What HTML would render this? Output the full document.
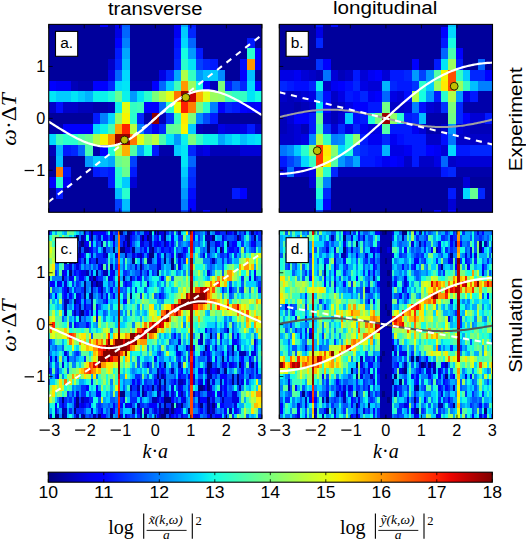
<!DOCTYPE html>
<html><head><meta charset="utf-8"><style>
html,body{margin:0;padding:0;background:#fff;}
svg{display:block;}
text{font-family:"Liberation Sans",sans-serif;fill:#000;}
.serif,.serif text{font-family:"Liberation Serif",serif;}
</style></head><body>
<svg width="526" height="540" viewBox="0 0 526 540">
<defs><clipPath id="ca"><rect x="48.70" y="24.40" width="213.20" height="187.90"/></clipPath><clipPath id="cb"><rect x="279.30" y="24.40" width="213.20" height="187.90"/></clipPath><clipPath id="cc"><rect x="48.70" y="230.70" width="213.20" height="187.90"/></clipPath><clipPath id="cd"><rect x="279.30" y="230.70" width="213.20" height="187.90"/></clipPath></defs>
<g clip-path="url(#ca)"><g transform="translate(48.700 16.225) scale(7.3517 10.7500)" shape-rendering="crispEdges">
<path fill="#00009c" d="M0 0h1v1h-1zM1 0h1v1h-1zM2 0h1v1h-1zM3 0h1v1h-1zM4 0h1v1h-1zM5 0h1v1h-1zM6 0h1v1h-1zM8 0h1v1h-1zM11 0h1v1h-1zM12 0h1v1h-1zM13 0h1v1h-1zM14 0h1v1h-1zM15 0h1v1h-1zM16 0h1v1h-1zM20 0h1v1h-1zM21 0h1v1h-1zM22 0h1v1h-1zM23 0h1v1h-1zM24 0h1v1h-1zM25 0h1v1h-1zM26 0h1v1h-1zM27 0h1v1h-1zM28 0h1v1h-1zM0 1h1v1h-1zM1 1h1v1h-1zM2 1h1v1h-1zM3 1h1v1h-1zM4 1h1v1h-1zM5 1h1v1h-1zM6 1h1v1h-1zM7 1h1v1h-1zM8 1h1v1h-1zM11 1h1v1h-1zM12 1h1v1h-1zM13 1h1v1h-1zM14 1h1v1h-1zM15 1h1v1h-1zM16 1h1v1h-1zM20 1h1v1h-1zM21 1h1v1h-1zM22 1h1v1h-1zM23 1h1v1h-1zM24 1h1v1h-1zM25 1h1v1h-1zM26 1h1v1h-1zM27 1h1v1h-1zM28 1h1v1h-1zM0 2h1v1h-1zM1 2h1v1h-1zM2 2h1v1h-1zM3 2h1v1h-1zM4 2h1v1h-1zM5 2h1v1h-1zM6 2h1v1h-1zM7 2h1v1h-1zM8 2h1v1h-1zM11 2h1v1h-1zM12 2h1v1h-1zM13 2h1v1h-1zM14 2h1v1h-1zM15 2h1v1h-1zM16 2h1v1h-1zM20 2h1v1h-1zM21 2h1v1h-1zM22 2h1v1h-1zM23 2h1v1h-1zM24 2h1v1h-1zM25 2h1v1h-1zM26 2h1v1h-1zM28 2h1v1h-1zM0 3h1v1h-1zM1 3h1v1h-1zM2 3h1v1h-1zM3 3h1v1h-1zM4 3h1v1h-1zM5 3h1v1h-1zM6 3h1v1h-1zM7 3h1v1h-1zM8 3h1v1h-1zM11 3h1v1h-1zM12 3h1v1h-1zM13 3h1v1h-1zM14 3h1v1h-1zM15 3h1v1h-1zM16 3h1v1h-1zM21 3h1v1h-1zM22 3h1v1h-1zM23 3h1v1h-1zM24 3h1v1h-1zM25 3h1v1h-1zM26 3h1v1h-1zM0 4h1v1h-1zM1 4h1v1h-1zM2 4h1v1h-1zM3 4h1v1h-1zM4 4h1v1h-1zM5 4h1v1h-1zM6 4h1v1h-1zM7 4h1v1h-1zM11 4h1v1h-1zM12 4h1v1h-1zM13 4h1v1h-1zM14 4h1v1h-1zM15 4h1v1h-1zM16 4h1v1h-1zM23 4h1v1h-1zM24 4h1v1h-1zM25 4h1v1h-1zM0 5h1v1h-1zM1 5h1v1h-1zM2 5h1v1h-1zM3 5h1v1h-1zM4 5h1v1h-1zM5 5h1v1h-1zM6 5h1v1h-1zM7 5h1v1h-1zM11 5h1v1h-1zM12 5h1v1h-1zM13 5h1v1h-1zM14 5h1v1h-1zM24 5h1v1h-1zM25 5h1v1h-1zM28 5h1v1h-1zM0 9h1v1h-1zM1 9h1v1h-1zM2 9h1v1h-1zM3 9h1v1h-1zM4 9h1v1h-1zM5 9h1v1h-1zM23 9h1v1h-1zM24 9h1v1h-1zM25 9h1v1h-1zM26 9h1v1h-1zM27 9h1v1h-1zM28 9h1v1h-1zM0 13h1v1h-1zM2 13h1v1h-1zM3 13h1v1h-1zM4 13h1v1h-1zM12 13h1v1h-1zM13 13h1v1h-1zM14 13h1v1h-1zM15 13h1v1h-1zM16 13h1v1h-1zM17 13h1v1h-1zM20 13h1v1h-1zM21 13h1v1h-1zM22 13h1v1h-1zM23 13h1v1h-1zM24 13h1v1h-1zM25 13h1v1h-1zM26 13h1v1h-1zM27 13h1v1h-1zM28 13h1v1h-1zM0 14h1v1h-1zM3 14h1v1h-1zM4 14h1v1h-1zM5 14h1v1h-1zM12 14h1v1h-1zM13 14h1v1h-1zM14 14h1v1h-1zM15 14h1v1h-1zM16 14h1v1h-1zM17 14h1v1h-1zM20 14h1v1h-1zM21 14h1v1h-1zM22 14h1v1h-1zM23 14h1v1h-1zM24 14h1v1h-1zM25 14h1v1h-1zM26 14h1v1h-1zM27 14h1v1h-1zM28 14h1v1h-1zM3 15h1v1h-1zM4 15h1v1h-1zM5 15h1v1h-1zM6 15h1v1h-1zM7 15h1v1h-1zM12 15h1v1h-1zM13 15h1v1h-1zM14 15h1v1h-1zM15 15h1v1h-1zM16 15h1v1h-1zM17 15h1v1h-1zM20 15h1v1h-1zM21 15h1v1h-1zM22 15h1v1h-1zM23 15h1v1h-1zM24 15h1v1h-1zM25 15h1v1h-1zM26 15h1v1h-1zM27 15h1v1h-1zM28 15h1v1h-1zM0 16h1v1h-1zM2 16h1v1h-1zM3 16h1v1h-1zM4 16h1v1h-1zM5 16h1v1h-1zM6 16h1v1h-1zM7 16h1v1h-1zM8 16h1v1h-1zM11 16h1v1h-1zM12 16h1v1h-1zM13 16h1v1h-1zM14 16h1v1h-1zM15 16h1v1h-1zM16 16h1v1h-1zM17 16h1v1h-1zM20 16h1v1h-1zM21 16h1v1h-1zM22 16h1v1h-1zM23 16h1v1h-1zM24 16h1v1h-1zM27 16h1v1h-1zM28 16h1v1h-1zM0 17h1v1h-1zM1 17h1v1h-1zM2 17h1v1h-1zM3 17h1v1h-1zM4 17h1v1h-1zM5 17h1v1h-1zM6 17h1v1h-1zM7 17h1v1h-1zM8 17h1v1h-1zM11 17h1v1h-1zM12 17h1v1h-1zM13 17h1v1h-1zM14 17h1v1h-1zM15 17h1v1h-1zM16 17h1v1h-1zM17 17h1v1h-1zM20 17h1v1h-1zM21 17h1v1h-1zM22 17h1v1h-1zM23 17h1v1h-1zM24 17h1v1h-1zM25 17h1v1h-1zM26 17h1v1h-1zM27 17h1v1h-1zM28 17h1v1h-1zM0 18h1v1h-1zM1 18h1v1h-1zM2 18h1v1h-1zM3 18h1v1h-1zM4 18h1v1h-1zM5 18h1v1h-1zM6 18h1v1h-1zM7 18h1v1h-1zM8 18h1v1h-1zM11 18h1v1h-1zM12 18h1v1h-1zM13 18h1v1h-1zM14 18h1v1h-1zM15 18h1v1h-1zM16 18h1v1h-1zM17 18h1v1h-1zM20 18h1v1h-1zM22 18h1v1h-1zM23 18h1v1h-1zM24 18h1v1h-1zM25 18h1v1h-1zM26 18h1v1h-1zM27 18h1v1h-1zM28 18h1v1h-1z"/>
<path fill="#0000ff" d="M7 0h1v1h-1zM9 2h1v1h-1zM28 3h1v1h-1zM28 4h1v1h-1zM26 5h1v1h-1zM0 6h1v1h-1zM6 6h1v1h-1zM7 6h1v1h-1zM14 6h1v1h-1zM21 6h1v1h-1zM28 6h1v1h-1zM13 8h1v1h-1zM14 8h1v1h-1zM23 8h1v1h-1zM26 8h1v1h-1zM28 8h1v1h-1zM2 10h1v1h-1zM3 10h1v1h-1zM4 10h1v1h-1zM5 10h1v1h-1zM7 12h1v1h-1zM0 15h1v1h-1zM26 16h1v1h-1zM19 17h1v1h-1zM21 18h1v1h-1z"/>
<path fill="#0000f3" d="M9 0h1v1h-1zM17 0h1v1h-1zM17 1h1v1h-1zM1 6h1v1h-1zM2 6h1v1h-1zM27 8h1v1h-1zM14 10h1v1h-1zM2 15h1v1h-1z"/>
<path fill="#0059ff" d="M10 0h1v1h-1zM25 6h1v1h-1z"/>
<path fill="#00a6ff" d="M18 0h1v1h-1zM10 3h1v1h-1zM17 5h1v1h-1zM23 11h1v1h-1zM12 12h1v1h-1zM8 13h1v1h-1zM10 18h1v1h-1z"/>
<path fill="#0019ff" d="M19 0h1v1h-1zM27 2h1v1h-1zM9 3h1v1h-1zM17 3h1v1h-1zM20 3h1v1h-1zM22 4h1v1h-1zM24 6h1v1h-1zM25 8h1v1h-1zM6 9h1v1h-1zM22 9h1v1h-1zM27 10h1v1h-1zM2 12h1v1h-1zM14 12h1v1h-1zM2 14h1v1h-1zM6 14h1v1h-1zM8 14h1v1h-1zM11 14h1v1h-1zM8 15h1v1h-1zM1 16h1v1h-1zM25 16h1v1h-1z"/>
<path fill="#0000e5" d="M9 1h1v1h-1zM8 5h1v1h-1zM15 5h1v1h-1zM23 10h1v1h-1zM26 10h1v1h-1zM21 12h1v1h-1z"/>
<path fill="#0066ff" d="M10 1h1v1h-1zM19 2h1v1h-1zM9 5h1v1h-1zM15 6h1v1h-1zM15 8h1v1h-1zM4 12h1v1h-1zM19 13h1v1h-1z"/>
<path fill="#00ccff" d="M18 1h1v1h-1zM22 5h1v1h-1zM16 6h1v1h-1zM1 7h1v1h-1zM2 7h1v1h-1zM4 7h1v1h-1zM19 10h1v1h-1zM24 11h1v1h-1zM17 12h1v1h-1zM6 13h1v1h-1zM18 14h1v1h-1zM10 15h1v1h-1z"/>
<path fill="#0026ff" d="M19 1h1v1h-1zM9 4h1v1h-1zM17 4h1v1h-1zM21 4h1v1h-1zM16 5h1v1h-1zM8 6h1v1h-1zM26 6h1v1h-1zM24 8h1v1h-1zM12 9h1v1h-1zM13 10h1v1h-1zM15 10h1v1h-1zM3 12h1v1h-1zM19 12h1v1h-1zM7 14h1v1h-1zM19 15h1v1h-1zM9 18h1v1h-1z"/>
<path fill="#0080ff" d="M10 2h1v1h-1zM22 8h1v1h-1zM7 9h1v1h-1zM12 10h1v1h-1zM18 17h1v1h-1z"/>
<path fill="#000dff" d="M17 2h1v1h-1zM26 4h1v1h-1zM1 8h1v1h-1zM19 16h1v1h-1z"/>
<path fill="#00d9ff" d="M18 2h1v1h-1zM10 5h1v1h-1zM9 6h1v1h-1zM27 6h1v1h-1zM8 9h1v1h-1zM6 10h1v1h-1zM0 11h1v1h-1zM27 11h1v1h-1z"/>
<path fill="#15ffe2" d="M18 3h1v1h-1zM20 6h1v1h-1zM28 7h1v1h-1zM13 12h1v1h-1z"/>
<path fill="#0099ff" d="M19 3h1v1h-1zM20 5h1v1h-1zM11 7h1v1h-1zM17 11h1v1h-1zM5 13h1v1h-1zM18 16h1v1h-1z"/>
<path fill="#29ffce" d="M27 3h1v1h-1zM18 4h1v1h-1zM13 7h1v1h-1zM16 8h1v1h-1zM21 8h1v1h-1zM11 9h1v1h-1zM2 11h1v1h-1zM3 11h1v1h-1zM9 14h1v1h-1zM1 15h1v1h-1zM10 16h1v1h-1z"/>
<path fill="#0000c8" d="M8 4h1v1h-1zM0 8h1v1h-1zM2 8h1v1h-1zM3 8h1v1h-1zM28 10h1v1h-1zM19 18h1v1h-1z"/>
<path fill="#00bfff" d="M10 4h1v1h-1zM21 5h1v1h-1zM27 5h1v1h-1zM26 11h1v1h-1zM1 13h1v1h-1zM7 13h1v1h-1zM9 16h1v1h-1zM10 17h1v1h-1z"/>
<path fill="#00e6f7" d="M19 4h1v1h-1zM10 6h1v1h-1zM0 7h1v1h-1zM3 7h1v1h-1zM12 7h1v1h-1zM27 7h1v1h-1zM16 11h1v1h-1zM25 11h1v1h-1zM28 11h1v1h-1zM18 12h1v1h-1zM18 13h1v1h-1z"/>
<path fill="#0040ff" d="M20 4h1v1h-1zM11 13h1v1h-1zM9 17h1v1h-1zM18 18h1v1h-1z"/>
<path fill="#ff9700" d="M27 4h1v1h-1zM18 6h1v1h-1zM8 11h1v1h-1z"/>
<path fill="#afff48" d="M18 5h1v1h-1zM15 7h1v1h-1zM6 11h1v1h-1z"/>
<path fill="#33ffc3" d="M19 5h1v1h-1zM25 7h1v1h-1zM26 7h1v1h-1zM11 8h1v1h-1zM17 9h1v1h-1zM20 11h1v1h-1z"/>
<path fill="#008cff" d="M23 5h1v1h-1zM20 9h1v1h-1z"/>
<path fill="#0000b9" d="M3 6h1v1h-1zM22 6h1v1h-1zM4 8h1v1h-1zM5 8h1v1h-1zM8 8h1v1h-1zM15 9h1v1h-1zM20 10h1v1h-1zM0 12h1v1h-1zM22 12h1v1h-1zM23 12h1v1h-1zM24 12h1v1h-1zM25 12h1v1h-1z"/>
<path fill="#0000ab" d="M4 6h1v1h-1zM5 6h1v1h-1zM11 6h1v1h-1zM12 6h1v1h-1zM13 6h1v1h-1zM6 8h1v1h-1zM7 8h1v1h-1zM13 9h1v1h-1zM0 10h1v1h-1zM1 10h1v1h-1zM21 10h1v1h-1zM22 10h1v1h-1zM6 12h1v1h-1zM15 12h1v1h-1zM16 12h1v1h-1z"/>
<path fill="#3effb9" d="M17 6h1v1h-1zM12 8h1v1h-1zM1 11h1v1h-1z"/>
<path fill="#9aff5d" d="M19 6h1v1h-1zM22 7h1v1h-1z"/>
<path fill="#7bff7b" d="M23 6h1v1h-1zM14 7h1v1h-1zM20 8h1v1h-1zM19 9h1v1h-1zM19 11h1v1h-1zM10 13h1v1h-1z"/>
<path fill="#00b3ff" d="M5 7h1v1h-1zM1 12h1v1h-1zM18 15h1v1h-1z"/>
<path fill="#0af2ec" d="M6 7h1v1h-1zM7 7h1v1h-1zM10 7h1v1h-1zM9 8h1v1h-1zM7 10h1v1h-1zM18 11h1v1h-1zM21 11h1v1h-1zM22 11h1v1h-1z"/>
<path fill="#1fffd8" d="M8 7h1v1h-1zM8 12h1v1h-1zM9 15h1v1h-1z"/>
<path fill="#67ff90" d="M9 7h1v1h-1zM17 10h1v1h-1zM5 11h1v1h-1zM9 13h1v1h-1zM10 14h1v1h-1z"/>
<path fill="#e2ff15" d="M16 7h1v1h-1zM21 7h1v1h-1zM10 8h1v1h-1zM12 11h1v1h-1z"/>
<path fill="#ff7400" d="M17 7h1v1h-1zM11 11h1v1h-1z"/>
<path fill="#9c0000" d="M18 7h1v1h-1zM9 11h1v1h-1zM10 11h1v1h-1z"/>
<path fill="#c80000" d="M19 7h1v1h-1z"/>
<path fill="#ffaf00" d="M20 7h1v1h-1zM10 12h1v1h-1z"/>
<path fill="#90ff67" d="M23 7h1v1h-1zM9 9h1v1h-1zM13 11h1v1h-1z"/>
<path fill="#48ffaf" d="M24 7h1v1h-1zM8 10h1v1h-1zM15 11h1v1h-1zM5 12h1v1h-1z"/>
<path fill="#ecff0a" d="M17 8h1v1h-1z"/>
<path fill="#ff2100" d="M18 8h1v1h-1zM10 10h1v1h-1z"/>
<path fill="#ff8000" d="M19 8h1v1h-1zM1 14h1v1h-1z"/>
<path fill="#f7f600" d="M10 9h1v1h-1zM18 10h1v1h-1zM7 11h1v1h-1z"/>
<path fill="#8e0000" d="M14 9h1v1h-1z"/>
<path fill="#0033ff" d="M16 9h1v1h-1zM19 14h1v1h-1z"/>
<path fill="#ffea00" d="M18 9h1v1h-1z"/>
<path fill="#004cff" d="M21 9h1v1h-1z"/>
<path fill="#ffa300" d="M9 10h1v1h-1z"/>
<path fill="#b9ff3e" d="M11 10h1v1h-1zM14 11h1v1h-1zM9 12h1v1h-1z"/>
<path fill="#5dff9a" d="M16 10h1v1h-1z"/>
<path fill="#0000d6" d="M24 10h1v1h-1zM25 10h1v1h-1zM20 12h1v1h-1zM26 12h1v1h-1zM27 12h1v1h-1zM28 12h1v1h-1zM11 15h1v1h-1z"/>
<path fill="#52ffa5" d="M4 11h1v1h-1zM11 12h1v1h-1z"/>
</g></g>
<g clip-path="url(#cb)"><g transform="translate(279.300 16.225) scale(7.3517 10.7500)" shape-rendering="crispEdges">
<path fill="#00009c" d="M0 0h1v1h-1zM1 0h1v1h-1zM2 0h1v1h-1zM3 0h1v1h-1zM4 0h1v1h-1zM6 0h1v1h-1zM8 0h1v1h-1zM9 0h1v1h-1zM10 0h1v1h-1zM11 0h1v1h-1zM12 0h1v1h-1zM13 0h1v1h-1zM14 0h1v1h-1zM15 0h1v1h-1zM16 0h1v1h-1zM17 0h1v1h-1zM18 0h1v1h-1zM19 0h1v1h-1zM20 0h1v1h-1zM21 0h1v1h-1zM22 0h1v1h-1zM24 0h1v1h-1zM25 0h1v1h-1zM26 0h1v1h-1zM27 0h1v1h-1zM28 0h1v1h-1zM0 1h1v1h-1zM1 1h1v1h-1zM2 1h1v1h-1zM3 1h1v1h-1zM4 1h1v1h-1zM6 1h1v1h-1zM7 1h1v1h-1zM8 1h1v1h-1zM9 1h1v1h-1zM10 1h1v1h-1zM11 1h1v1h-1zM12 1h1v1h-1zM13 1h1v1h-1zM14 1h1v1h-1zM15 1h1v1h-1zM16 1h1v1h-1zM17 1h1v1h-1zM18 1h1v1h-1zM19 1h1v1h-1zM20 1h1v1h-1zM21 1h1v1h-1zM24 1h1v1h-1zM25 1h1v1h-1zM26 1h1v1h-1zM27 1h1v1h-1zM28 1h1v1h-1zM0 2h1v1h-1zM1 2h1v1h-1zM2 2h1v1h-1zM3 2h1v1h-1zM4 2h1v1h-1zM6 2h1v1h-1zM7 2h1v1h-1zM8 2h1v1h-1zM9 2h1v1h-1zM10 2h1v1h-1zM11 2h1v1h-1zM12 2h1v1h-1zM13 2h1v1h-1zM14 2h1v1h-1zM15 2h1v1h-1zM16 2h1v1h-1zM17 2h1v1h-1zM18 2h1v1h-1zM19 2h1v1h-1zM20 2h1v1h-1zM21 2h1v1h-1zM24 2h1v1h-1zM25 2h1v1h-1zM26 2h1v1h-1zM27 2h1v1h-1zM28 2h1v1h-1zM0 3h1v1h-1zM1 3h1v1h-1zM2 3h1v1h-1zM4 3h1v1h-1zM5 3h1v1h-1zM6 3h1v1h-1zM7 3h1v1h-1zM8 3h1v1h-1zM9 3h1v1h-1zM10 3h1v1h-1zM11 3h1v1h-1zM12 3h1v1h-1zM13 3h1v1h-1zM14 3h1v1h-1zM15 3h1v1h-1zM16 3h1v1h-1zM17 3h1v1h-1zM18 3h1v1h-1zM19 3h1v1h-1zM20 3h1v1h-1zM21 3h1v1h-1zM25 3h1v1h-1zM26 3h1v1h-1zM27 3h1v1h-1zM28 3h1v1h-1zM0 4h1v1h-1zM1 4h1v1h-1zM2 4h1v1h-1zM3 4h1v1h-1zM4 4h1v1h-1zM7 4h1v1h-1zM8 4h1v1h-1zM9 4h1v1h-1zM10 4h1v1h-1zM11 4h1v1h-1zM12 4h1v1h-1zM13 4h1v1h-1zM14 4h1v1h-1zM15 4h1v1h-1zM16 4h1v1h-1zM17 4h1v1h-1zM19 4h1v1h-1zM20 4h1v1h-1zM25 4h1v1h-1zM26 4h1v1h-1zM28 4h1v1h-1zM0 15h1v1h-1zM1 15h1v1h-1zM2 15h1v1h-1zM3 15h1v1h-1zM7 15h1v1h-1zM8 15h1v1h-1zM9 15h1v1h-1zM10 15h1v1h-1zM11 15h1v1h-1zM12 15h1v1h-1zM13 15h1v1h-1zM14 15h1v1h-1zM15 15h1v1h-1zM16 15h1v1h-1zM17 15h1v1h-1zM18 15h1v1h-1zM19 15h1v1h-1zM20 15h1v1h-1zM21 15h1v1h-1zM22 15h1v1h-1zM23 15h1v1h-1zM24 15h1v1h-1zM26 15h1v1h-1zM27 15h1v1h-1zM28 15h1v1h-1zM0 16h1v1h-1zM1 16h1v1h-1zM2 16h1v1h-1zM3 16h1v1h-1zM4 16h1v1h-1zM7 16h1v1h-1zM8 16h1v1h-1zM9 16h1v1h-1zM10 16h1v1h-1zM11 16h1v1h-1zM12 16h1v1h-1zM13 16h1v1h-1zM14 16h1v1h-1zM15 16h1v1h-1zM16 16h1v1h-1zM17 16h1v1h-1zM18 16h1v1h-1zM19 16h1v1h-1zM20 16h1v1h-1zM21 16h1v1h-1zM22 16h1v1h-1zM24 16h1v1h-1zM28 16h1v1h-1zM0 17h1v1h-1zM1 17h1v1h-1zM2 17h1v1h-1zM3 17h1v1h-1zM4 17h1v1h-1zM7 17h1v1h-1zM8 17h1v1h-1zM9 17h1v1h-1zM10 17h1v1h-1zM11 17h1v1h-1zM12 17h1v1h-1zM13 17h1v1h-1zM14 17h1v1h-1zM15 17h1v1h-1zM16 17h1v1h-1zM17 17h1v1h-1zM18 17h1v1h-1zM19 17h1v1h-1zM20 17h1v1h-1zM21 17h1v1h-1zM22 17h1v1h-1zM24 17h1v1h-1zM25 17h1v1h-1zM26 17h1v1h-1zM27 17h1v1h-1zM28 17h1v1h-1zM0 18h1v1h-1zM1 18h1v1h-1zM2 18h1v1h-1zM3 18h1v1h-1zM4 18h1v1h-1zM6 18h1v1h-1zM7 18h1v1h-1zM8 18h1v1h-1zM9 18h1v1h-1zM10 18h1v1h-1zM11 18h1v1h-1zM12 18h1v1h-1zM13 18h1v1h-1zM14 18h1v1h-1zM15 18h1v1h-1zM16 18h1v1h-1zM17 18h1v1h-1zM18 18h1v1h-1zM19 18h1v1h-1zM20 18h1v1h-1zM22 18h1v1h-1zM24 18h1v1h-1zM25 18h1v1h-1zM26 18h1v1h-1zM27 18h1v1h-1zM28 18h1v1h-1z"/>
<path fill="#0019ff" d="M5 0h1v1h-1zM22 2h1v1h-1zM21 4h1v1h-1zM24 4h1v1h-1zM10 5h1v1h-1zM15 5h1v1h-1zM16 5h1v1h-1zM1 6h1v1h-1zM16 6h1v1h-1zM17 6h1v1h-1zM9 7h1v1h-1zM21 7h1v1h-1zM26 7h1v1h-1zM12 8h1v1h-1zM13 8h1v1h-1zM4 9h1v1h-1zM11 9h1v1h-1zM17 9h1v1h-1zM28 9h1v1h-1zM4 10h1v1h-1zM15 10h1v1h-1zM16 10h1v1h-1zM17 10h1v1h-1zM11 11h1v1h-1zM17 11h1v1h-1zM18 11h1v1h-1zM19 11h1v1h-1zM12 12h1v1h-1zM13 12h1v1h-1zM18 12h1v1h-1zM19 12h1v1h-1zM24 12h1v1h-1zM25 12h1v1h-1zM0 13h1v1h-1zM11 13h1v1h-1zM12 13h1v1h-1zM18 13h1v1h-1zM22 14h1v1h-1zM23 16h1v1h-1z"/>
<path fill="#000dff" d="M7 0h1v1h-1zM2 6h1v1h-1zM3 6h1v1h-1zM9 6h1v1h-1zM6 7h1v1h-1zM10 7h1v1h-1zM17 7h1v1h-1zM19 8h1v1h-1zM10 9h1v1h-1zM16 11h1v1h-1zM22 11h1v1h-1zM13 13h1v1h-1z"/>
<path fill="#00bfff" d="M23 0h1v1h-1zM26 6h1v1h-1zM19 9h1v1h-1z"/>
<path fill="#0000e5" d="M5 1h1v1h-1zM0 5h1v1h-1zM1 5h1v1h-1zM11 6h1v1h-1zM4 7h1v1h-1zM8 7h1v1h-1zM15 7h1v1h-1zM25 7h1v1h-1zM9 8h1v1h-1zM9 10h1v1h-1zM13 10h1v1h-1zM3 11h1v1h-1zM15 12h1v1h-1zM16 12h1v1h-1zM21 13h1v1h-1zM4 14h1v1h-1z"/>
<path fill="#0000ff" d="M22 1h1v1h-1zM24 3h1v1h-1zM6 4h1v1h-1zM18 4h1v1h-1zM13 5h1v1h-1zM28 5h1v1h-1zM8 6h1v1h-1zM13 7h1v1h-1zM6 8h1v1h-1zM10 8h1v1h-1zM11 8h1v1h-1zM2 9h1v1h-1zM3 9h1v1h-1zM25 9h1v1h-1zM20 12h1v1h-1zM15 13h1v1h-1zM6 17h1v1h-1zM21 18h1v1h-1zM23 18h1v1h-1z"/>
<path fill="#00d9ff" d="M23 1h1v1h-1zM8 12h1v1h-1zM23 12h1v1h-1zM3 13h1v1h-1zM25 16h1v1h-1z"/>
<path fill="#0026ff" d="M5 2h1v1h-1zM17 5h1v1h-1zM26 5h1v1h-1zM27 5h1v1h-1zM0 6h1v1h-1zM4 6h1v1h-1zM10 6h1v1h-1zM15 6h1v1h-1zM11 7h1v1h-1zM24 8h1v1h-1zM18 9h1v1h-1zM24 9h1v1h-1zM8 10h1v1h-1zM10 10h1v1h-1zM14 11h1v1h-1zM11 12h1v1h-1zM26 12h1v1h-1zM27 12h1v1h-1zM28 12h1v1h-1zM7 14h1v1h-1zM23 14h1v1h-1zM6 16h1v1h-1zM27 16h1v1h-1z"/>
<path fill="#15ffe2" d="M23 2h1v1h-1zM19 7h1v1h-1z"/>
<path fill="#0000c8" d="M3 3h1v1h-1zM4 5h1v1h-1zM9 5h1v1h-1zM6 6h1v1h-1zM0 7h1v1h-1zM2 7h1v1h-1zM7 7h1v1h-1zM4 8h1v1h-1zM8 8h1v1h-1zM15 8h1v1h-1zM16 8h1v1h-1zM21 8h1v1h-1zM1 10h1v1h-1zM22 10h1v1h-1zM25 10h1v1h-1zM0 11h1v1h-1zM1 11h1v1h-1zM20 11h1v1h-1zM21 11h1v1h-1zM24 11h1v1h-1zM25 11h1v1h-1zM26 11h1v1h-1zM27 11h1v1h-1zM28 11h1v1h-1zM17 13h1v1h-1zM19 13h1v1h-1zM20 13h1v1h-1zM23 13h1v1h-1zM3 14h1v1h-1z"/>
<path fill="#0066ff" d="M22 3h1v1h-1zM27 4h1v1h-1zM14 7h1v1h-1zM2 13h1v1h-1zM9 13h1v1h-1zM22 13h1v1h-1z"/>
<path fill="#48ffaf" d="M23 3h1v1h-1zM5 10h1v1h-1z"/>
<path fill="#0033ff" d="M5 4h1v1h-1zM18 6h1v1h-1zM22 8h1v1h-1zM6 10h1v1h-1z"/>
<path fill="#00e6f7" d="M22 4h1v1h-1zM5 8h1v1h-1z"/>
<path fill="#9aff5d" d="M23 4h1v1h-1zM21 6h1v1h-1zM24 6h1v1h-1z"/>
<path fill="#0000f3" d="M2 5h1v1h-1zM12 5h1v1h-1zM7 6h1v1h-1zM12 7h1v1h-1zM11 10h1v1h-1zM18 10h1v1h-1zM12 11h1v1h-1zM13 11h1v1h-1zM15 11h1v1h-1zM17 12h1v1h-1zM21 12h1v1h-1zM14 13h1v1h-1zM16 13h1v1h-1z"/>
<path fill="#0000d6" d="M3 5h1v1h-1zM7 5h1v1h-1zM11 5h1v1h-1zM14 5h1v1h-1zM12 6h1v1h-1zM13 6h1v1h-1zM3 7h1v1h-1zM16 7h1v1h-1zM17 8h1v1h-1zM20 8h1v1h-1zM1 9h1v1h-1zM6 9h1v1h-1zM8 9h1v1h-1zM26 9h1v1h-1zM27 9h1v1h-1zM2 10h1v1h-1zM7 10h1v1h-1zM12 10h1v1h-1zM19 10h1v1h-1zM24 10h1v1h-1zM2 11h1v1h-1zM22 12h1v1h-1zM24 13h1v1h-1zM25 13h1v1h-1zM26 13h1v1h-1zM27 13h1v1h-1zM28 13h1v1h-1zM0 14h1v1h-1zM2 14h1v1h-1zM4 15h1v1h-1zM25 15h1v1h-1zM23 17h1v1h-1z"/>
<path fill="#0000b9" d="M5 5h1v1h-1zM8 5h1v1h-1zM1 7h1v1h-1zM0 8h1v1h-1zM1 8h1v1h-1zM3 8h1v1h-1zM7 8h1v1h-1zM0 9h1v1h-1zM7 9h1v1h-1zM0 10h1v1h-1zM3 10h1v1h-1zM26 10h1v1h-1zM27 10h1v1h-1zM28 10h1v1h-1zM8 14h1v1h-1zM9 14h1v1h-1zM10 14h1v1h-1zM11 14h1v1h-1zM12 14h1v1h-1zM13 14h1v1h-1zM14 14h1v1h-1zM15 14h1v1h-1zM16 14h1v1h-1zM17 14h1v1h-1zM18 14h1v1h-1zM19 14h1v1h-1zM20 14h1v1h-1zM21 14h1v1h-1z"/>
<path fill="#0073ff" d="M6 5h1v1h-1zM23 11h1v1h-1zM0 12h1v1h-1zM1 14h1v1h-1z"/>
<path fill="#0099ff" d="M18 5h1v1h-1zM20 5h1v1h-1zM20 7h1v1h-1zM24 7h1v1h-1zM23 10h1v1h-1zM8 13h1v1h-1z"/>
<path fill="#0040ff" d="M19 5h1v1h-1zM10 12h1v1h-1zM1 13h1v1h-1zM5 18h1v1h-1z"/>
<path fill="#52ffa5" d="M21 5h1v1h-1zM14 10h1v1h-1zM7 13h1v1h-1zM5 15h1v1h-1z"/>
<path fill="#f7f600" d="M22 5h1v1h-1zM6 13h1v1h-1z"/>
<path fill="#ff5000" d="M23 5h1v1h-1zM23 6h1v1h-1z"/>
<path fill="#33ffc3" d="M24 5h1v1h-1zM25 6h1v1h-1zM6 11h1v1h-1zM4 13h1v1h-1z"/>
<path fill="#00ccff" d="M25 5h1v1h-1zM20 6h1v1h-1zM9 9h1v1h-1zM2 12h1v1h-1zM5 17h1v1h-1z"/>
<path fill="#0af2ec" d="M5 6h1v1h-1z"/>
<path fill="#00b3ff" d="M14 6h1v1h-1zM14 12h1v1h-1z"/>
<path fill="#29ffce" d="M19 6h1v1h-1zM22 7h1v1h-1zM16 9h1v1h-1zM9 11h1v1h-1zM3 12h1v1h-1zM6 14h1v1h-1z"/>
<path fill="#ffea00" d="M22 6h1v1h-1zM6 12h1v1h-1z"/>
<path fill="#0080ff" d="M27 6h1v1h-1zM28 6h1v1h-1zM5 7h1v1h-1zM18 8h1v1h-1zM7 11h1v1h-1zM6 15h1v1h-1z"/>
<path fill="#afff48" d="M18 7h1v1h-1zM23 7h1v1h-1zM5 11h1v1h-1z"/>
<path fill="#0000ab" d="M27 7h1v1h-1zM28 7h1v1h-1zM2 8h1v1h-1zM25 8h1v1h-1zM26 8h1v1h-1zM27 8h1v1h-1zM28 8h1v1h-1zM20 9h1v1h-1zM21 9h1v1h-1zM22 9h1v1h-1zM20 10h1v1h-1zM21 10h1v1h-1zM24 14h1v1h-1zM25 14h1v1h-1zM26 14h1v1h-1zM27 14h1v1h-1zM28 14h1v1h-1z"/>
<path fill="#71ff86" d="M14 8h1v1h-1zM23 9h1v1h-1z"/>
<path fill="#7bff7b" d="M23 8h1v1h-1zM13 9h1v1h-1z"/>
<path fill="#67ff90" d="M5 9h1v1h-1zM26 16h1v1h-1z"/>
<path fill="#1fffd8" d="M12 9h1v1h-1zM9 12h1v1h-1zM5 16h1v1h-1z"/>
<path fill="#9c0000" d="M14 9h1v1h-1z"/>
<path fill="#90ff67" d="M15 9h1v1h-1zM10 11h1v1h-1zM4 12h1v1h-1z"/>
<path fill="#008cff" d="M4 11h1v1h-1zM8 11h1v1h-1zM1 12h1v1h-1z"/>
<path fill="#ff3900" d="M5 12h1v1h-1zM5 13h1v1h-1z"/>
<path fill="#86ff71" d="M7 12h1v1h-1z"/>
<path fill="#00a6ff" d="M10 13h1v1h-1z"/>
<path fill="#b9ff3e" d="M5 14h1v1h-1z"/>
</g></g>
<g clip-path="url(#cc)"><g transform="translate(44.882 229.445) scale(2.4268 5.7700)" shape-rendering="crispEdges">
<path fill="#0055ff" d="M0 0h1v1h-1zM0 21h1v1h-1zM1 9h1v1h-1zM1 21h1v1h-1zM1 23h1v1h-1zM1 26h1v1h-1zM2 0h1v1h-1zM2 11h1v1h-1zM2 19h1v1h-1zM2 25h1v1h-1zM3 10h1v1h-1zM4 5h1v1h-1zM4 20h1v1h-1zM4 23h1v1h-1zM4 24h1v1h-1zM5 23h1v1h-1zM5 31h1v1h-1zM6 3h1v1h-1zM7 12h1v1h-1zM7 13h1v1h-1zM7 15h1v1h-1zM7 20h1v1h-1zM8 3h1v1h-1zM9 21h1v1h-1zM9 24h1v1h-1zM9 29h1v1h-1zM10 10h1v1h-1zM10 12h1v1h-1zM11 7h1v1h-1zM11 11h1v1h-1zM12 15h1v1h-1zM12 21h1v1h-1zM12 22h1v1h-1zM13 2h1v1h-1zM13 8h1v1h-1zM13 10h1v1h-1zM14 1h1v1h-1zM14 9h1v1h-1zM14 10h1v1h-1zM14 16h1v1h-1zM15 3h1v1h-1zM15 5h1v1h-1zM15 11h1v1h-1zM15 16h1v1h-1zM16 6h1v1h-1zM16 8h1v1h-1zM16 15h1v1h-1zM16 16h1v1h-1zM16 31h1v1h-1zM17 0h1v1h-1zM17 32h1v1h-1zM18 6h1v1h-1zM18 16h1v1h-1zM18 28h1v1h-1zM19 18h1v1h-1zM19 32h1v1h-1zM20 3h1v1h-1zM20 6h1v1h-1zM20 10h1v1h-1zM21 30h1v1h-1zM22 2h1v1h-1zM22 11h1v1h-1zM22 13h1v1h-1zM22 29h1v1h-1zM23 30h1v1h-1zM24 10h1v1h-1zM24 14h1v1h-1zM25 0h1v1h-1zM25 2h1v1h-1zM25 3h1v1h-1zM25 5h1v1h-1zM25 31h1v1h-1zM25 32h1v1h-1zM26 1h1v1h-1zM26 3h1v1h-1zM26 9h1v1h-1zM26 30h1v1h-1zM27 11h1v1h-1zM27 29h1v1h-1zM28 0h1v1h-1zM28 8h1v1h-1zM28 29h1v1h-1zM29 5h1v1h-1zM29 30h1v1h-1zM31 10h1v1h-1zM31 31h1v1h-1zM32 0h1v1h-1zM32 5h1v1h-1zM32 6h1v1h-1zM32 11h1v1h-1zM32 27h1v1h-1zM33 10h1v1h-1zM33 11h1v1h-1zM34 4h1v1h-1zM34 7h1v1h-1zM35 4h1v1h-1zM35 6h1v1h-1zM35 10h1v1h-1zM35 32h1v1h-1zM36 2h1v1h-1zM36 28h1v1h-1zM36 30h1v1h-1zM37 1h1v1h-1zM37 7h1v1h-1zM37 26h1v1h-1zM37 28h1v1h-1zM38 7h1v1h-1zM38 22h1v1h-1zM38 23h1v1h-1zM39 25h1v1h-1zM39 26h1v1h-1zM40 3h1v1h-1zM41 7h1v1h-1zM41 8h1v1h-1zM41 10h1v1h-1zM41 23h1v1h-1zM41 30h1v1h-1zM42 25h1v1h-1zM42 26h1v1h-1zM43 6h1v1h-1zM43 23h1v1h-1zM43 24h1v1h-1zM43 26h1v1h-1zM43 28h1v1h-1zM43 29h1v1h-1zM43 32h1v1h-1zM44 2h1v1h-1zM44 6h1v1h-1zM45 6h1v1h-1zM45 7h1v1h-1zM45 11h1v1h-1zM45 27h1v1h-1zM45 32h1v1h-1zM46 21h1v1h-1zM47 3h1v1h-1zM48 10h1v1h-1zM48 23h1v1h-1zM48 30h1v1h-1zM50 32h1v1h-1zM51 2h1v1h-1zM51 4h1v1h-1zM51 5h1v1h-1zM51 19h1v1h-1zM51 24h1v1h-1zM51 26h1v1h-1zM52 8h1v1h-1zM52 18h1v1h-1zM52 23h1v1h-1zM53 6h1v1h-1zM53 25h1v1h-1zM53 29h1v1h-1zM54 0h1v1h-1zM54 3h1v1h-1zM54 22h1v1h-1zM54 26h1v1h-1zM54 27h1v1h-1zM55 2h1v1h-1zM55 18h1v1h-1zM55 32h1v1h-1zM56 3h1v1h-1zM56 21h1v1h-1zM56 23h1v1h-1zM57 22h1v1h-1zM57 30h1v1h-1zM58 24h1v1h-1zM59 0h1v1h-1zM59 2h1v1h-1zM59 21h1v1h-1zM59 26h1v1h-1zM59 28h1v1h-1zM61 2h1v1h-1zM61 3h1v1h-1zM61 21h1v1h-1zM61 29h1v1h-1zM62 0h1v1h-1zM62 30h1v1h-1zM63 0h1v1h-1zM63 2h1v1h-1zM63 22h1v1h-1zM63 25h1v1h-1zM64 4h1v1h-1zM64 22h1v1h-1zM64 25h1v1h-1zM64 28h1v1h-1zM65 3h1v1h-1zM65 22h1v1h-1zM65 30h1v1h-1zM65 31h1v1h-1zM65 32h1v1h-1zM66 19h1v1h-1zM66 23h1v1h-1zM66 32h1v1h-1zM68 2h1v1h-1zM68 6h1v1h-1zM68 7h1v1h-1zM68 21h1v1h-1zM69 2h1v1h-1zM69 23h1v1h-1zM69 25h1v1h-1zM70 5h1v1h-1zM70 19h1v1h-1zM70 31h1v1h-1zM72 2h1v1h-1zM72 21h1v1h-1zM72 23h1v1h-1zM72 31h1v1h-1zM73 6h1v1h-1zM73 7h1v1h-1zM73 24h1v1h-1zM73 28h1v1h-1zM74 4h1v1h-1zM74 16h1v1h-1zM75 1h1v1h-1zM75 25h1v1h-1zM75 26h1v1h-1zM75 28h1v1h-1zM76 1h1v1h-1zM76 5h1v1h-1zM76 9h1v1h-1zM76 11h1v1h-1zM76 20h1v1h-1zM76 21h1v1h-1zM76 25h1v1h-1zM76 27h1v1h-1zM76 28h1v1h-1zM77 1h1v1h-1zM77 10h1v1h-1zM77 16h1v1h-1zM77 17h1v1h-1zM77 22h1v1h-1zM77 30h1v1h-1zM78 25h1v1h-1zM78 26h1v1h-1zM79 27h1v1h-1zM80 10h1v1h-1zM80 20h1v1h-1zM80 24h1v1h-1zM81 0h1v1h-1zM81 1h1v1h-1zM81 9h1v1h-1zM82 3h1v1h-1zM83 21h1v1h-1zM83 24h1v1h-1zM83 32h1v1h-1zM84 2h1v1h-1zM84 24h1v1h-1zM85 3h1v1h-1zM85 22h1v1h-1zM87 8h1v1h-1zM87 19h1v1h-1zM87 22h1v1h-1zM89 2h1v1h-1zM89 32h1v1h-1z"/>
<path fill="#00aaff" d="M0 1h1v1h-1zM0 8h1v1h-1zM0 23h1v1h-1zM0 26h1v1h-1zM1 13h1v1h-1zM2 20h1v1h-1zM2 31h1v1h-1zM3 12h1v1h-1zM3 19h1v1h-1zM3 22h1v1h-1zM3 25h1v1h-1zM4 0h1v1h-1zM4 21h1v1h-1zM5 12h1v1h-1zM5 13h1v1h-1zM5 20h1v1h-1zM5 22h1v1h-1zM6 10h1v1h-1zM6 20h1v1h-1zM6 24h1v1h-1zM6 31h1v1h-1zM7 4h1v1h-1zM7 9h1v1h-1zM7 19h1v1h-1zM8 0h1v1h-1zM8 4h1v1h-1zM8 15h1v1h-1zM9 2h1v1h-1zM9 9h1v1h-1zM9 13h1v1h-1zM9 23h1v1h-1zM9 31h1v1h-1zM10 2h1v1h-1zM10 15h1v1h-1zM10 30h1v1h-1zM11 12h1v1h-1zM11 21h1v1h-1zM11 32h1v1h-1zM12 9h1v1h-1zM12 27h1v1h-1zM12 28h1v1h-1zM13 22h1v1h-1zM14 26h1v1h-1zM14 32h1v1h-1zM15 0h1v1h-1zM15 6h1v1h-1zM15 9h1v1h-1zM15 12h1v1h-1zM15 26h1v1h-1zM17 15h1v1h-1zM17 31h1v1h-1zM18 4h1v1h-1zM18 10h1v1h-1zM18 15h1v1h-1zM18 17h1v1h-1zM18 31h1v1h-1zM19 6h1v1h-1zM19 25h1v1h-1zM19 28h1v1h-1zM20 4h1v1h-1zM20 16h1v1h-1zM20 28h1v1h-1zM21 11h1v1h-1zM21 12h1v1h-1zM22 27h1v1h-1zM23 1h1v1h-1zM23 13h1v1h-1zM24 8h1v1h-1zM24 29h1v1h-1zM24 31h1v1h-1zM25 28h1v1h-1zM27 2h1v1h-1zM27 4h1v1h-1zM27 12h1v1h-1zM27 14h1v1h-1zM27 27h1v1h-1zM28 6h1v1h-1zM28 10h1v1h-1zM28 14h1v1h-1zM28 32h1v1h-1zM29 3h1v1h-1zM29 7h1v1h-1zM29 11h1v1h-1zM29 14h1v1h-1zM29 28h1v1h-1zM31 6h1v1h-1zM31 8h1v1h-1zM31 25h1v1h-1zM32 13h1v1h-1zM32 15h1v1h-1zM32 25h1v1h-1zM33 15h1v1h-1zM33 26h1v1h-1zM33 27h1v1h-1zM33 28h1v1h-1zM34 5h1v1h-1zM34 8h1v1h-1zM34 26h1v1h-1zM34 28h1v1h-1zM35 7h1v1h-1zM35 12h1v1h-1zM35 24h1v1h-1zM35 31h1v1h-1zM36 23h1v1h-1zM36 25h1v1h-1zM37 2h1v1h-1zM37 24h1v1h-1zM38 14h1v1h-1zM39 15h1v1h-1zM39 24h1v1h-1zM39 27h1v1h-1zM39 28h1v1h-1zM40 29h1v1h-1zM41 14h1v1h-1zM41 22h1v1h-1zM41 25h1v1h-1zM42 3h1v1h-1zM42 6h1v1h-1zM42 11h1v1h-1zM42 22h1v1h-1zM42 29h1v1h-1zM42 32h1v1h-1zM43 9h1v1h-1zM44 1h1v1h-1zM44 20h1v1h-1zM44 24h1v1h-1zM44 28h1v1h-1zM45 4h1v1h-1zM45 5h1v1h-1zM45 24h1v1h-1zM46 12h1v1h-1zM46 20h1v1h-1zM47 1h1v1h-1zM47 9h1v1h-1zM47 10h1v1h-1zM47 12h1v1h-1zM47 13h1v1h-1zM47 18h1v1h-1zM48 7h1v1h-1zM49 8h1v1h-1zM49 18h1v1h-1zM50 1h1v1h-1zM50 5h1v1h-1zM50 6h1v1h-1zM50 7h1v1h-1zM50 24h1v1h-1zM51 6h1v1h-1zM52 10h1v1h-1zM53 17h1v1h-1zM53 19h1v1h-1zM53 23h1v1h-1zM54 18h1v1h-1zM54 19h1v1h-1zM54 23h1v1h-1zM55 7h1v1h-1zM57 2h1v1h-1zM57 19h1v1h-1zM57 20h1v1h-1zM57 21h1v1h-1zM58 4h1v1h-1zM58 26h1v1h-1zM58 27h1v1h-1zM59 5h1v1h-1zM59 6h1v1h-1zM59 7h1v1h-1zM59 24h1v1h-1zM59 29h1v1h-1zM59 30h1v1h-1zM62 22h1v1h-1zM62 23h1v1h-1zM62 29h1v1h-1zM64 2h1v1h-1zM65 0h1v1h-1zM65 20h1v1h-1zM65 23h1v1h-1zM67 8h1v1h-1zM67 14h1v1h-1zM67 18h1v1h-1zM68 0h1v1h-1zM69 4h1v1h-1zM69 7h1v1h-1zM70 26h1v1h-1zM71 1h1v1h-1zM71 5h1v1h-1zM71 6h1v1h-1zM71 20h1v1h-1zM71 22h1v1h-1zM71 23h1v1h-1zM71 26h1v1h-1zM72 1h1v1h-1zM72 5h1v1h-1zM72 6h1v1h-1zM73 11h1v1h-1zM73 20h1v1h-1zM73 26h1v1h-1zM74 5h1v1h-1zM74 19h1v1h-1zM74 22h1v1h-1zM75 18h1v1h-1zM76 22h1v1h-1zM77 24h1v1h-1zM78 5h1v1h-1zM78 16h1v1h-1zM78 17h1v1h-1zM78 18h1v1h-1zM78 22h1v1h-1zM79 4h1v1h-1zM79 5h1v1h-1zM79 23h1v1h-1zM80 3h1v1h-1zM80 18h1v1h-1zM80 28h1v1h-1zM80 29h1v1h-1zM80 30h1v1h-1zM81 11h1v1h-1zM81 30h1v1h-1zM82 20h1v1h-1zM82 22h1v1h-1zM82 24h1v1h-1zM82 25h1v1h-1zM82 29h1v1h-1zM83 2h1v1h-1zM83 22h1v1h-1zM84 26h1v1h-1zM84 27h1v1h-1zM85 17h1v1h-1zM85 32h1v1h-1zM86 6h1v1h-1zM87 1h1v1h-1zM88 3h1v1h-1zM88 26h1v1h-1zM89 12h1v1h-1zM89 23h1v1h-1zM89 24h1v1h-1zM89 25h1v1h-1zM90 10h1v1h-1zM90 21h1v1h-1zM90 26h1v1h-1z"/>
<path fill="#00d4ff" d="M0 2h1v1h-1zM0 9h1v1h-1zM0 10h1v1h-1zM0 30h1v1h-1zM0 31h1v1h-1zM1 22h1v1h-1zM1 30h1v1h-1zM1 31h1v1h-1zM2 26h1v1h-1zM3 11h1v1h-1zM3 21h1v1h-1zM3 26h1v1h-1zM4 9h1v1h-1zM4 13h1v1h-1zM4 29h1v1h-1zM5 11h1v1h-1zM5 21h1v1h-1zM6 13h1v1h-1zM7 0h1v1h-1zM7 2h1v1h-1zM7 14h1v1h-1zM7 21h1v1h-1zM8 22h1v1h-1zM9 4h1v1h-1zM9 7h1v1h-1zM9 30h1v1h-1zM9 32h1v1h-1zM10 1h1v1h-1zM11 10h1v1h-1zM11 13h1v1h-1zM11 15h1v1h-1zM13 0h1v1h-1zM13 20h1v1h-1zM14 22h1v1h-1zM14 23h1v1h-1zM15 22h1v1h-1zM16 26h1v1h-1zM17 5h1v1h-1zM17 8h1v1h-1zM17 11h1v1h-1zM17 28h1v1h-1zM18 21h1v1h-1zM19 27h1v1h-1zM19 30h1v1h-1zM20 2h1v1h-1zM20 7h1v1h-1zM20 31h1v1h-1zM21 17h1v1h-1zM22 3h1v1h-1zM22 14h1v1h-1zM23 14h1v1h-1zM24 9h1v1h-1zM24 13h1v1h-1zM25 9h1v1h-1zM25 10h1v1h-1zM25 13h1v1h-1zM25 29h1v1h-1zM26 7h1v1h-1zM26 12h1v1h-1zM26 28h1v1h-1zM26 29h1v1h-1zM27 15h1v1h-1zM28 4h1v1h-1zM28 5h1v1h-1zM28 12h1v1h-1zM29 9h1v1h-1zM29 12h1v1h-1zM29 15h1v1h-1zM29 16h1v1h-1zM31 5h1v1h-1zM31 7h1v1h-1zM31 12h1v1h-1zM31 16h1v1h-1zM31 26h1v1h-1zM31 27h1v1h-1zM32 16h1v1h-1zM32 24h1v1h-1zM32 30h1v1h-1zM32 31h1v1h-1zM32 32h1v1h-1zM33 13h1v1h-1zM33 31h1v1h-1zM34 29h1v1h-1zM34 31h1v1h-1zM35 21h1v1h-1zM35 22h1v1h-1zM35 25h1v1h-1zM36 9h1v1h-1zM36 12h1v1h-1zM37 14h1v1h-1zM37 30h1v1h-1zM37 32h1v1h-1zM38 2h1v1h-1zM38 5h1v1h-1zM38 24h1v1h-1zM38 29h1v1h-1zM39 21h1v1h-1zM40 13h1v1h-1zM40 14h1v1h-1zM40 26h1v1h-1zM41 24h1v1h-1zM41 29h1v1h-1zM42 10h1v1h-1zM42 21h1v1h-1zM43 7h1v1h-1zM43 8h1v1h-1zM43 22h1v1h-1zM44 9h1v1h-1zM44 21h1v1h-1zM44 32h1v1h-1zM45 13h1v1h-1zM45 21h1v1h-1zM45 28h1v1h-1zM46 19h1v1h-1zM46 22h1v1h-1zM46 23h1v1h-1zM48 4h1v1h-1zM48 19h1v1h-1zM49 6h1v1h-1zM49 10h1v1h-1zM49 22h1v1h-1zM50 11h1v1h-1zM50 18h1v1h-1zM50 22h1v1h-1zM50 23h1v1h-1zM51 1h1v1h-1zM51 7h1v1h-1zM51 9h1v1h-1zM51 20h1v1h-1zM51 27h1v1h-1zM52 17h1v1h-1zM52 20h1v1h-1zM52 22h1v1h-1zM53 1h1v1h-1zM53 10h1v1h-1zM53 21h1v1h-1zM54 1h1v1h-1zM54 10h1v1h-1zM54 24h1v1h-1zM54 25h1v1h-1zM55 20h1v1h-1zM56 0h1v1h-1zM56 20h1v1h-1zM56 22h1v1h-1zM57 6h1v1h-1zM57 15h1v1h-1zM57 18h1v1h-1zM57 24h1v1h-1zM58 1h1v1h-1zM58 28h1v1h-1zM59 1h1v1h-1zM59 4h1v1h-1zM59 18h1v1h-1zM59 19h1v1h-1zM59 32h1v1h-1zM61 4h1v1h-1zM61 5h1v1h-1zM61 8h1v1h-1zM62 1h1v1h-1zM62 24h1v1h-1zM62 25h1v1h-1zM62 27h1v1h-1zM63 4h1v1h-1zM63 17h1v1h-1zM64 20h1v1h-1zM65 7h1v1h-1zM65 25h1v1h-1zM65 26h1v1h-1zM66 6h1v1h-1zM66 8h1v1h-1zM66 14h1v1h-1zM66 18h1v1h-1zM67 16h1v1h-1zM68 16h1v1h-1zM69 16h1v1h-1zM69 19h1v1h-1zM69 21h1v1h-1zM70 1h1v1h-1zM70 6h1v1h-1zM70 15h1v1h-1zM70 27h1v1h-1zM71 3h1v1h-1zM71 17h1v1h-1zM72 10h1v1h-1zM72 16h1v1h-1zM73 19h1v1h-1zM73 32h1v1h-1zM74 21h1v1h-1zM75 15h1v1h-1zM75 16h1v1h-1zM75 24h1v1h-1zM76 12h1v1h-1zM77 5h1v1h-1zM77 31h1v1h-1zM78 9h1v1h-1zM78 32h1v1h-1zM79 2h1v1h-1zM79 11h1v1h-1zM79 17h1v1h-1zM79 21h1v1h-1zM79 22h1v1h-1zM79 30h1v1h-1zM80 2h1v1h-1zM80 16h1v1h-1zM81 19h1v1h-1zM82 1h1v1h-1zM82 2h1v1h-1zM82 4h1v1h-1zM82 19h1v1h-1zM83 0h1v1h-1zM83 3h1v1h-1zM83 9h1v1h-1zM83 18h1v1h-1zM83 20h1v1h-1zM83 27h1v1h-1zM84 9h1v1h-1zM84 11h1v1h-1zM84 17h1v1h-1zM84 18h1v1h-1zM84 19h1v1h-1zM84 32h1v1h-1zM85 9h1v1h-1zM85 20h1v1h-1zM85 26h1v1h-1zM86 9h1v1h-1zM86 32h1v1h-1zM87 18h1v1h-1zM87 27h1v1h-1zM88 11h1v1h-1zM88 19h1v1h-1zM88 24h1v1h-1zM89 6h1v1h-1zM89 19h1v1h-1zM89 22h1v1h-1zM90 23h1v1h-1zM90 31h1v1h-1z"/>
<path fill="#c0ff37" d="M0 3h1v1h-1zM0 5h1v1h-1zM0 6h1v1h-1zM0 17h1v1h-1zM1 2h1v1h-1zM1 3h1v1h-1zM1 4h1v1h-1zM1 7h1v1h-1zM2 4h1v1h-1zM2 6h1v1h-1zM2 15h1v1h-1zM2 18h1v1h-1zM2 28h1v1h-1zM2 29h1v1h-1zM3 5h1v1h-1zM3 7h1v1h-1zM3 14h1v1h-1zM5 18h1v1h-1zM6 14h1v1h-1zM6 17h1v1h-1zM6 18h1v1h-1zM7 17h1v1h-1zM7 27h1v1h-1zM9 17h1v1h-1zM12 25h1v1h-1zM12 26h1v1h-1zM16 23h1v1h-1zM17 25h1v1h-1zM18 25h1v1h-1zM20 15h1v1h-1zM21 22h1v1h-1zM23 18h1v1h-1zM23 29h1v1h-1zM24 17h1v1h-1zM24 19h1v1h-1zM25 24h1v1h-1zM27 24h1v1h-1zM28 23h1v1h-1zM31 22h1v1h-1zM33 23h1v1h-1zM35 17h1v1h-1zM38 16h1v1h-1zM38 20h1v1h-1zM39 13h1v1h-1zM42 16h1v1h-1zM45 14h1v1h-1zM45 15h1v1h-1zM47 17h1v1h-1zM50 8h1v1h-1zM50 21h1v1h-1zM51 16h1v1h-1zM53 15h1v1h-1zM57 11h1v1h-1zM57 23h1v1h-1zM58 8h1v1h-1zM58 14h1v1h-1zM59 17h1v1h-1zM61 10h1v1h-1zM63 7h1v1h-1zM63 14h1v1h-1zM69 11h1v1h-1zM70 11h1v1h-1zM72 8h1v1h-1zM72 11h1v1h-1zM73 9h1v1h-1zM75 14h1v1h-1zM77 8h1v1h-1zM77 14h1v1h-1zM78 14h1v1h-1zM79 15h1v1h-1zM80 7h1v1h-1zM81 15h1v1h-1zM82 5h1v1h-1zM82 31h1v1h-1zM83 7h1v1h-1zM83 13h1v1h-1zM83 28h1v1h-1zM84 5h1v1h-1zM84 16h1v1h-1zM85 4h1v1h-1zM85 5h1v1h-1zM85 12h1v1h-1zM85 15h1v1h-1zM85 29h1v1h-1zM86 28h1v1h-1zM87 4h1v1h-1zM87 6h1v1h-1zM87 13h1v1h-1zM88 18h1v1h-1zM90 4h1v1h-1z"/>
<path fill="#9eff59" d="M0 4h1v1h-1zM0 14h1v1h-1zM1 6h1v1h-1zM1 17h1v1h-1zM2 2h1v1h-1zM2 27h1v1h-1zM3 3h1v1h-1zM3 4h1v1h-1zM4 18h1v1h-1zM5 27h1v1h-1zM6 12h1v1h-1zM6 22h1v1h-1zM7 1h1v1h-1zM9 16h1v1h-1zM9 19h1v1h-1zM9 25h1v1h-1zM10 25h1v1h-1zM12 19h1v1h-1zM13 18h1v1h-1zM13 24h1v1h-1zM15 25h1v1h-1zM19 22h1v1h-1zM20 18h1v1h-1zM21 18h1v1h-1zM22 15h1v1h-1zM22 16h1v1h-1zM22 18h1v1h-1zM23 27h1v1h-1zM24 26h1v1h-1zM25 16h1v1h-1zM26 17h1v1h-1zM28 25h1v1h-1zM28 26h1v1h-1zM28 28h1v1h-1zM34 23h1v1h-1zM37 16h1v1h-1zM40 11h1v1h-1zM40 12h1v1h-1zM41 20h1v1h-1zM42 18h1v1h-1zM43 15h1v1h-1zM44 11h1v1h-1zM48 20h1v1h-1zM49 17h1v1h-1zM51 17h1v1h-1zM52 15h1v1h-1zM53 9h1v1h-1zM53 12h1v1h-1zM54 12h1v1h-1zM54 15h1v1h-1zM54 16h1v1h-1zM55 10h1v1h-1zM55 11h1v1h-1zM56 15h1v1h-1zM58 9h1v1h-1zM58 16h1v1h-1zM59 10h1v1h-1zM61 6h1v1h-1zM62 9h1v1h-1zM65 9h1v1h-1zM65 14h1v1h-1zM67 13h1v1h-1zM68 14h1v1h-1zM69 14h1v1h-1zM70 10h1v1h-1zM71 18h1v1h-1zM73 12h1v1h-1zM74 7h1v1h-1zM74 14h1v1h-1zM77 6h1v1h-1zM78 7h1v1h-1zM78 8h1v1h-1zM79 12h1v1h-1zM79 32h1v1h-1zM80 14h1v1h-1zM81 3h1v1h-1zM81 5h1v1h-1zM81 12h1v1h-1zM82 10h1v1h-1zM82 12h1v1h-1zM82 32h1v1h-1zM83 12h1v1h-1zM85 10h1v1h-1zM85 14h1v1h-1zM85 19h1v1h-1zM85 30h1v1h-1zM86 29h1v1h-1zM86 31h1v1h-1zM88 14h1v1h-1zM88 17h1v1h-1zM89 3h1v1h-1zM89 10h1v1h-1zM89 15h1v1h-1zM89 21h1v1h-1zM89 30h1v1h-1zM90 2h1v1h-1zM90 30h1v1h-1z"/>
<path fill="#ffbe00" d="M0 7h1v1h-1zM8 17h1v1h-1zM13 25h1v1h-1zM15 24h1v1h-1zM16 19h1v1h-1zM17 20h1v1h-1zM20 19h1v1h-1zM20 21h1v1h-1zM22 19h1v1h-1zM22 24h1v1h-1zM28 18h1v1h-1zM32 21h1v1h-1zM33 22h1v1h-1zM34 18h1v1h-1zM38 19h1v1h-1zM46 17h1v1h-1zM48 17h1v1h-1zM50 16h1v1h-1zM59 15h1v1h-1zM63 15h1v1h-1zM65 13h1v1h-1zM67 12h1v1h-1zM68 10h1v1h-1zM68 11h1v1h-1zM71 12h1v1h-1zM74 9h1v1h-1zM80 13h1v1h-1zM83 5h1v1h-1zM83 16h1v1h-1zM85 6h1v1h-1zM86 15h1v1h-1zM86 30h1v1h-1zM87 17h1v1h-1zM87 30h1v1h-1zM89 29h1v1h-1z"/>
<path fill="#7bff7b" d="M0 11h1v1h-1zM0 28h1v1h-1zM1 5h1v1h-1zM2 5h1v1h-1zM2 10h1v1h-1zM3 1h1v1h-1zM3 29h1v1h-1zM4 1h1v1h-1zM5 1h1v1h-1zM5 2h1v1h-1zM5 4h1v1h-1zM5 16h1v1h-1zM5 26h1v1h-1zM5 28h1v1h-1zM6 2h1v1h-1zM6 28h1v1h-1zM7 26h1v1h-1zM9 0h1v1h-1zM11 24h1v1h-1zM12 24h1v1h-1zM13 19h1v1h-1zM14 20h1v1h-1zM17 17h1v1h-1zM17 18h1v1h-1zM17 22h1v1h-1zM21 26h1v1h-1zM23 24h1v1h-1zM23 25h1v1h-1zM24 18h1v1h-1zM24 24h1v1h-1zM24 25h1v1h-1zM26 25h1v1h-1zM26 26h1v1h-1zM29 17h1v1h-1zM31 23h1v1h-1zM33 17h1v1h-1zM34 12h1v1h-1zM34 14h1v1h-1zM36 22h1v1h-1zM37 23h1v1h-1zM40 15h1v1h-1zM40 25h1v1h-1zM41 12h1v1h-1zM42 12h1v1h-1zM43 21h1v1h-1zM45 19h1v1h-1zM48 13h1v1h-1zM51 8h1v1h-1zM53 8h1v1h-1zM53 16h1v1h-1zM54 8h1v1h-1zM54 9h1v1h-1zM54 11h1v1h-1zM55 8h1v1h-1zM56 8h1v1h-1zM56 9h1v1h-1zM56 10h1v1h-1zM57 1h1v1h-1zM57 14h1v1h-1zM58 7h1v1h-1zM58 10h1v1h-1zM58 18h1v1h-1zM61 14h1v1h-1zM62 4h1v1h-1zM63 16h1v1h-1zM64 9h1v1h-1zM64 14h1v1h-1zM64 15h1v1h-1zM68 8h1v1h-1zM69 13h1v1h-1zM70 7h1v1h-1zM70 8h1v1h-1zM71 11h1v1h-1zM71 14h1v1h-1zM72 7h1v1h-1zM74 11h1v1h-1zM76 6h1v1h-1zM76 16h1v1h-1zM76 18h1v1h-1zM76 32h1v1h-1zM77 12h1v1h-1zM80 5h1v1h-1zM80 15h1v1h-1zM81 16h1v1h-1zM81 28h1v1h-1zM81 29h1v1h-1zM83 17h1v1h-1zM84 28h1v1h-1zM84 29h1v1h-1zM86 4h1v1h-1zM86 12h1v1h-1zM86 13h1v1h-1zM87 11h1v1h-1zM87 14h1v1h-1zM87 31h1v1h-1zM88 13h1v1h-1zM89 11h1v1h-1zM89 14h1v1h-1zM89 17h1v1h-1zM90 12h1v1h-1zM90 18h1v1h-1zM90 27h1v1h-1z"/>
<path fill="#59ff9e" d="M0 12h1v1h-1zM0 13h1v1h-1zM0 20h1v1h-1zM1 28h1v1h-1zM2 12h1v1h-1zM2 14h1v1h-1zM3 24h1v1h-1zM4 15h1v1h-1zM4 16h1v1h-1zM5 15h1v1h-1zM5 19h1v1h-1zM6 7h1v1h-1zM6 15h1v1h-1zM6 16h1v1h-1zM6 25h1v1h-1zM7 6h1v1h-1zM8 24h1v1h-1zM8 28h1v1h-1zM9 15h1v1h-1zM9 26h1v1h-1zM9 27h1v1h-1zM10 0h1v1h-1zM10 23h1v1h-1zM10 24h1v1h-1zM11 0h1v1h-1zM12 17h1v1h-1zM15 21h1v1h-1zM15 23h1v1h-1zM16 17h1v1h-1zM16 21h1v1h-1zM17 19h1v1h-1zM17 21h1v1h-1zM18 2h1v1h-1zM20 13h1v1h-1zM23 17h1v1h-1zM23 26h1v1h-1zM24 6h1v1h-1zM25 27h1v1h-1zM26 6h1v1h-1zM26 13h1v1h-1zM27 16h1v1h-1zM27 25h1v1h-1zM28 17h1v1h-1zM29 24h1v1h-1zM31 13h1v1h-1zM31 17h1v1h-1zM32 17h1v1h-1zM33 5h1v1h-1zM33 24h1v1h-1zM33 29h1v1h-1zM34 11h1v1h-1zM34 16h1v1h-1zM34 17h1v1h-1zM35 16h1v1h-1zM36 13h1v1h-1zM36 14h1v1h-1zM36 15h1v1h-1zM36 17h1v1h-1zM37 12h1v1h-1zM38 11h1v1h-1zM39 12h1v1h-1zM39 16h1v1h-1zM40 21h1v1h-1zM40 31h1v1h-1zM41 5h1v1h-1zM41 13h1v1h-1zM41 21h1v1h-1zM42 13h1v1h-1zM42 15h1v1h-1zM42 24h1v1h-1zM44 19h1v1h-1zM44 23h1v1h-1zM45 10h1v1h-1zM46 18h1v1h-1zM47 14h1v1h-1zM50 9h1v1h-1zM50 17h1v1h-1zM50 19h1v1h-1zM52 16h1v1h-1zM53 11h1v1h-1zM54 6h1v1h-1zM55 15h1v1h-1zM55 16h1v1h-1zM55 17h1v1h-1zM56 18h1v1h-1zM57 9h1v1h-1zM59 9h1v1h-1zM61 9h1v1h-1zM61 15h1v1h-1zM61 17h1v1h-1zM62 5h1v1h-1zM62 7h1v1h-1zM62 15h1v1h-1zM62 19h1v1h-1zM62 20h1v1h-1zM63 5h1v1h-1zM63 8h1v1h-1zM63 18h1v1h-1zM64 5h1v1h-1zM64 7h1v1h-1zM64 8h1v1h-1zM65 6h1v1h-1zM70 14h1v1h-1zM71 10h1v1h-1zM71 15h1v1h-1zM72 14h1v1h-1zM75 6h1v1h-1zM78 11h1v1h-1zM78 12h1v1h-1zM79 7h1v1h-1zM79 8h1v1h-1zM79 10h1v1h-1zM80 12h1v1h-1zM80 32h1v1h-1zM81 4h1v1h-1zM81 17h1v1h-1zM82 8h1v1h-1zM82 9h1v1h-1zM82 15h1v1h-1zM82 28h1v1h-1zM82 30h1v1h-1zM83 4h1v1h-1zM83 10h1v1h-1zM83 23h1v1h-1zM83 31h1v1h-1zM84 13h1v1h-1zM85 11h1v1h-1zM85 18h1v1h-1zM86 17h1v1h-1zM86 27h1v1h-1zM87 7h1v1h-1zM87 10h1v1h-1zM87 32h1v1h-1zM88 5h1v1h-1zM88 6h1v1h-1zM89 5h1v1h-1zM89 18h1v1h-1zM90 7h1v1h-1zM90 14h1v1h-1z"/>
<path fill="#ff9700" d="M0 15h1v1h-1zM0 29h1v1h-1zM2 16h1v1h-1zM9 18h1v1h-1zM11 25h1v1h-1zM20 20h1v1h-1zM20 24h1v1h-1zM21 20h1v1h-1zM23 23h1v1h-1zM24 23h1v1h-1zM33 18h1v1h-1zM36 20h1v1h-1zM39 19h1v1h-1zM40 19h1v1h-1zM41 19h1v1h-1zM44 18h1v1h-1zM63 13h1v1h-1zM70 12h1v1h-1zM71 8h1v1h-1zM75 7h1v1h-1zM75 8h1v1h-1zM76 7h1v1h-1zM76 8h1v1h-1zM80 6h1v1h-1zM81 14h1v1h-1zM82 6h1v1h-1zM83 6h1v1h-1zM83 15h1v1h-1zM86 16h1v1h-1zM87 12h1v1h-1zM87 15h1v1h-1zM87 28h1v1h-1zM88 28h1v1h-1zM89 28h1v1h-1z"/>
<path fill="#ff7000" d="M0 16h1v1h-1zM2 17h1v1h-1zM8 26h1v1h-1zM10 19h1v1h-1zM12 18h1v1h-1zM14 19h1v1h-1zM16 24h1v1h-1zM18 19h1v1h-1zM19 23h1v1h-1zM19 24h1v1h-1zM23 19h1v1h-1zM30 0h1v1h-1zM30 1h1v1h-1zM30 2h1v1h-1zM30 3h1v1h-1zM30 4h1v1h-1zM30 5h1v1h-1zM35 20h1v1h-1zM41 16h1v1h-1zM43 18h1v1h-1zM48 14h1v1h-1zM51 14h1v1h-1zM51 15h1v1h-1zM52 14h1v1h-1zM64 13h1v1h-1zM67 11h1v1h-1zM68 9h1v1h-1zM68 12h1v1h-1zM68 13h1v1h-1zM69 12h1v1h-1zM70 9h1v1h-1zM73 8h1v1h-1zM75 12h1v1h-1zM77 13h1v1h-1zM78 13h1v1h-1zM79 14h1v1h-1z"/>
<path fill="#15ffe2" d="M0 18h1v1h-1zM0 22h1v1h-1zM1 1h1v1h-1zM1 14h1v1h-1zM1 18h1v1h-1zM1 27h1v1h-1zM2 1h1v1h-1zM2 13h1v1h-1zM2 30h1v1h-1zM3 0h1v1h-1zM3 23h1v1h-1zM3 30h1v1h-1zM3 31h1v1h-1zM3 32h1v1h-1zM4 4h1v1h-1zM4 12h1v1h-1zM4 14h1v1h-1zM5 30h1v1h-1zM6 1h1v1h-1zM6 5h1v1h-1zM7 24h1v1h-1zM7 28h1v1h-1zM8 16h1v1h-1zM8 19h1v1h-1zM8 23h1v1h-1zM8 25h1v1h-1zM8 27h1v1h-1zM9 5h1v1h-1zM9 14h1v1h-1zM9 20h1v1h-1zM10 9h1v1h-1zM10 17h1v1h-1zM10 20h1v1h-1zM10 32h1v1h-1zM11 1h1v1h-1zM12 0h1v1h-1zM12 11h1v1h-1zM12 20h1v1h-1zM13 15h1v1h-1zM15 17h1v1h-1zM17 1h1v1h-1zM17 4h1v1h-1zM17 26h1v1h-1zM18 27h1v1h-1zM19 15h1v1h-1zM19 16h1v1h-1zM19 17h1v1h-1zM20 14h1v1h-1zM20 27h1v1h-1zM20 29h1v1h-1zM20 30h1v1h-1zM21 29h1v1h-1zM22 17h1v1h-1zM22 26h1v1h-1zM23 15h1v1h-1zM23 28h1v1h-1zM24 27h1v1h-1zM24 28h1v1h-1zM25 15h1v1h-1zM25 25h1v1h-1zM25 26h1v1h-1zM26 0h1v1h-1zM26 2h1v1h-1zM26 4h1v1h-1zM26 11h1v1h-1zM26 14h1v1h-1zM26 15h1v1h-1zM27 18h1v1h-1zM28 13h1v1h-1zM28 24h1v1h-1zM29 8h1v1h-1zM29 13h1v1h-1zM31 11h1v1h-1zM32 14h1v1h-1zM32 22h1v1h-1zM33 6h1v1h-1zM33 16h1v1h-1zM34 10h1v1h-1zM34 15h1v1h-1zM34 24h1v1h-1zM35 13h1v1h-1zM35 23h1v1h-1zM36 10h1v1h-1zM36 11h1v1h-1zM36 21h1v1h-1zM37 9h1v1h-1zM37 13h1v1h-1zM37 15h1v1h-1zM37 21h1v1h-1zM38 9h1v1h-1zM38 10h1v1h-1zM38 12h1v1h-1zM38 21h1v1h-1zM39 10h1v1h-1zM39 22h1v1h-1zM40 8h1v1h-1zM40 9h1v1h-1zM40 10h1v1h-1zM40 22h1v1h-1zM40 24h1v1h-1zM40 32h1v1h-1zM41 11h1v1h-1zM41 15h1v1h-1zM43 10h1v1h-1zM43 25h1v1h-1zM44 0h1v1h-1zM44 8h1v1h-1zM44 10h1v1h-1zM45 8h1v1h-1zM45 9h1v1h-1zM45 20h1v1h-1zM46 8h1v1h-1zM46 10h1v1h-1zM46 14h1v1h-1zM48 9h1v1h-1zM48 18h1v1h-1zM49 7h1v1h-1zM49 19h1v1h-1zM49 21h1v1h-1zM50 10h1v1h-1zM51 10h1v1h-1zM51 21h1v1h-1zM52 9h1v1h-1zM52 11h1v1h-1zM52 12h1v1h-1zM52 21h1v1h-1zM53 3h1v1h-1zM53 7h1v1h-1zM53 27h1v1h-1zM54 28h1v1h-1zM56 7h1v1h-1zM56 17h1v1h-1zM57 0h1v1h-1zM57 17h1v1h-1zM57 31h1v1h-1zM58 23h1v1h-1zM59 3h1v1h-1zM61 19h1v1h-1zM61 27h1v1h-1zM62 3h1v1h-1zM62 6h1v1h-1zM62 8h1v1h-1zM62 16h1v1h-1zM62 17h1v1h-1zM62 21h1v1h-1zM63 6h1v1h-1zM64 6h1v1h-1zM64 17h1v1h-1zM64 23h1v1h-1zM65 1h1v1h-1zM65 2h1v1h-1zM65 8h1v1h-1zM65 17h1v1h-1zM66 4h1v1h-1zM66 15h1v1h-1zM66 16h1v1h-1zM67 15h1v1h-1zM68 20h1v1h-1zM69 22h1v1h-1zM70 4h1v1h-1zM70 28h1v1h-1zM71 16h1v1h-1zM73 15h1v1h-1zM73 16h1v1h-1zM74 2h1v1h-1zM74 3h1v1h-1zM74 6h1v1h-1zM74 18h1v1h-1zM74 20h1v1h-1zM75 9h1v1h-1zM75 10h1v1h-1zM76 17h1v1h-1zM76 19h1v1h-1zM77 4h1v1h-1zM77 15h1v1h-1zM78 20h1v1h-1zM78 27h1v1h-1zM79 6h1v1h-1zM80 8h1v1h-1zM80 9h1v1h-1zM80 11h1v1h-1zM81 7h1v1h-1zM81 18h1v1h-1zM81 20h1v1h-1zM82 7h1v1h-1zM82 16h1v1h-1zM82 26h1v1h-1zM83 19h1v1h-1zM83 30h1v1h-1zM84 4h1v1h-1zM84 21h1v1h-1zM84 30h1v1h-1zM85 7h1v1h-1zM85 8h1v1h-1zM85 16h1v1h-1zM85 27h1v1h-1zM86 10h1v1h-1zM86 26h1v1h-1zM88 20h1v1h-1zM88 23h1v1h-1zM89 7h1v1h-1zM89 13h1v1h-1zM90 1h1v1h-1zM90 5h1v1h-1zM90 6h1v1h-1zM90 11h1v1h-1zM90 13h1v1h-1zM90 22h1v1h-1z"/>
<path fill="#37ffc0" d="M0 19h1v1h-1zM0 24h1v1h-1zM0 27h1v1h-1zM1 25h1v1h-1zM2 8h1v1h-1zM3 2h1v1h-1zM3 13h1v1h-1zM4 3h1v1h-1zM4 19h1v1h-1zM4 26h1v1h-1zM4 28h1v1h-1zM5 0h1v1h-1zM5 3h1v1h-1zM5 14h1v1h-1zM6 0h1v1h-1zM6 6h1v1h-1zM6 11h1v1h-1zM6 19h1v1h-1zM6 21h1v1h-1zM6 23h1v1h-1zM7 5h1v1h-1zM7 16h1v1h-1zM8 1h1v1h-1zM8 20h1v1h-1zM9 1h1v1h-1zM9 3h1v1h-1zM10 14h1v1h-1zM10 21h1v1h-1zM10 27h1v1h-1zM11 16h1v1h-1zM11 17h1v1h-1zM11 26h1v1h-1zM12 8h1v1h-1zM13 17h1v1h-1zM13 23h1v1h-1zM13 26h1v1h-1zM14 17h1v1h-1zM14 25h1v1h-1zM18 22h1v1h-1zM18 26h1v1h-1zM19 21h1v1h-1zM20 12h1v1h-1zM20 17h1v1h-1zM20 26h1v1h-1zM22 25h1v1h-1zM23 16h1v1h-1zM24 2h1v1h-1zM24 16h1v1h-1zM25 8h1v1h-1zM26 5h1v1h-1zM26 16h1v1h-1zM26 27h1v1h-1zM28 16h1v1h-1zM28 27h1v1h-1zM29 25h1v1h-1zM29 26h1v1h-1zM31 9h1v1h-1zM31 15h1v1h-1zM31 24h1v1h-1zM32 23h1v1h-1zM34 13h1v1h-1zM34 25h1v1h-1zM34 27h1v1h-1zM35 15h1v1h-1zM37 5h1v1h-1zM37 11h1v1h-1zM37 22h1v1h-1zM38 15h1v1h-1zM39 14h1v1h-1zM39 20h1v1h-1zM39 23h1v1h-1zM41 9h1v1h-1zM42 14h1v1h-1zM42 19h1v1h-1zM43 11h1v1h-1zM43 12h1v1h-1zM43 19h1v1h-1zM43 20h1v1h-1zM44 12h1v1h-1zM44 22h1v1h-1zM45 12h1v1h-1zM46 13h1v1h-1zM47 7h1v1h-1zM47 19h1v1h-1zM49 12h1v1h-1zM49 20h1v1h-1zM50 12h1v1h-1zM51 11h1v1h-1zM51 12h1v1h-1zM51 18h1v1h-1zM51 23h1v1h-1zM52 7h1v1h-1zM53 0h1v1h-1zM53 4h1v1h-1zM53 5h1v1h-1zM53 22h1v1h-1zM53 30h1v1h-1zM54 2h1v1h-1zM54 17h1v1h-1zM55 9h1v1h-1zM56 19h1v1h-1zM57 8h1v1h-1zM58 6h1v1h-1zM58 17h1v1h-1zM58 19h1v1h-1zM58 21h1v1h-1zM58 22h1v1h-1zM59 8h1v1h-1zM59 16h1v1h-1zM61 7h1v1h-1zM61 16h1v1h-1zM62 18h1v1h-1zM63 3h1v1h-1zM63 9h1v1h-1zM63 20h1v1h-1zM63 21h1v1h-1zM64 16h1v1h-1zM65 15h1v1h-1zM65 16h1v1h-1zM65 18h1v1h-1zM65 19h1v1h-1zM66 7h1v1h-1zM68 15h1v1h-1zM69 15h1v1h-1zM71 7h1v1h-1zM71 19h1v1h-1zM71 27h1v1h-1zM71 30h1v1h-1zM72 15h1v1h-1zM75 11h1v1h-1zM75 31h1v1h-1zM77 9h1v1h-1zM78 6h1v1h-1zM78 15h1v1h-1zM78 24h1v1h-1zM79 9h1v1h-1zM79 16h1v1h-1zM80 17h1v1h-1zM81 31h1v1h-1zM81 32h1v1h-1zM82 11h1v1h-1zM82 18h1v1h-1zM82 27h1v1h-1zM83 1h1v1h-1zM83 8h1v1h-1zM83 11h1v1h-1zM83 29h1v1h-1zM84 20h1v1h-1zM84 31h1v1h-1zM85 13h1v1h-1zM86 5h1v1h-1zM86 11h1v1h-1zM86 22h1v1h-1zM87 3h1v1h-1zM88 7h1v1h-1zM88 21h1v1h-1zM88 22h1v1h-1zM89 8h1v1h-1zM89 9h1v1h-1zM89 26h1v1h-1zM89 27h1v1h-1zM90 19h1v1h-1z"/>
<path fill="#0080ff" d="M0 25h1v1h-1zM1 12h1v1h-1zM1 32h1v1h-1zM2 21h1v1h-1zM2 23h1v1h-1zM3 8h1v1h-1zM3 20h1v1h-1zM4 6h1v1h-1zM4 8h1v1h-1zM4 10h1v1h-1zM5 6h1v1h-1zM5 7h1v1h-1zM5 8h1v1h-1zM5 10h1v1h-1zM5 29h1v1h-1zM6 4h1v1h-1zM6 8h1v1h-1zM6 32h1v1h-1zM7 22h1v1h-1zM7 25h1v1h-1zM8 2h1v1h-1zM9 8h1v1h-1zM9 11h1v1h-1zM10 3h1v1h-1zM10 13h1v1h-1zM10 22h1v1h-1zM10 28h1v1h-1zM11 2h1v1h-1zM11 6h1v1h-1zM11 22h1v1h-1zM11 23h1v1h-1zM11 27h1v1h-1zM11 29h1v1h-1zM11 30h1v1h-1zM11 31h1v1h-1zM12 1h1v1h-1zM12 23h1v1h-1zM13 27h1v1h-1zM14 0h1v1h-1zM14 21h1v1h-1zM14 27h1v1h-1zM14 28h1v1h-1zM15 13h1v1h-1zM15 15h1v1h-1zM17 6h1v1h-1zM17 9h1v1h-1zM17 10h1v1h-1zM17 12h1v1h-1zM18 7h1v1h-1zM18 9h1v1h-1zM18 12h1v1h-1zM18 14h1v1h-1zM20 1h1v1h-1zM20 11h1v1h-1zM21 6h1v1h-1zM21 10h1v1h-1zM21 16h1v1h-1zM21 25h1v1h-1zM21 31h1v1h-1zM22 7h1v1h-1zM22 12h1v1h-1zM23 3h1v1h-1zM23 12h1v1h-1zM24 11h1v1h-1zM24 15h1v1h-1zM24 30h1v1h-1zM25 14h1v1h-1zM25 30h1v1h-1zM26 10h1v1h-1zM26 31h1v1h-1zM26 32h1v1h-1zM27 3h1v1h-1zM27 5h1v1h-1zM27 9h1v1h-1zM27 13h1v1h-1zM27 17h1v1h-1zM27 26h1v1h-1zM27 28h1v1h-1zM27 30h1v1h-1zM28 15h1v1h-1zM29 1h1v1h-1zM29 2h1v1h-1zM29 10h1v1h-1zM29 29h1v1h-1zM29 31h1v1h-1zM29 32h1v1h-1zM31 4h1v1h-1zM31 14h1v1h-1zM32 4h1v1h-1zM32 10h1v1h-1zM32 26h1v1h-1zM33 0h1v1h-1zM33 8h1v1h-1zM33 14h1v1h-1zM34 6h1v1h-1zM35 5h1v1h-1zM35 14h1v1h-1zM35 26h1v1h-1zM36 6h1v1h-1zM36 7h1v1h-1zM36 16h1v1h-1zM36 24h1v1h-1zM37 0h1v1h-1zM37 3h1v1h-1zM37 8h1v1h-1zM37 31h1v1h-1zM38 1h1v1h-1zM38 3h1v1h-1zM38 6h1v1h-1zM38 13h1v1h-1zM39 0h1v1h-1zM39 9h1v1h-1zM40 0h1v1h-1zM40 5h1v1h-1zM40 7h1v1h-1zM40 23h1v1h-1zM41 4h1v1h-1zM41 6h1v1h-1zM42 8h1v1h-1zM42 20h1v1h-1zM42 28h1v1h-1zM43 31h1v1h-1zM44 5h1v1h-1zM44 25h1v1h-1zM44 26h1v1h-1zM45 23h1v1h-1zM46 3h1v1h-1zM46 9h1v1h-1zM46 11h1v1h-1zM46 30h1v1h-1zM47 8h1v1h-1zM47 20h1v1h-1zM47 22h1v1h-1zM48 5h1v1h-1zM48 6h1v1h-1zM48 12h1v1h-1zM48 21h1v1h-1zM48 22h1v1h-1zM48 26h1v1h-1zM48 28h1v1h-1zM49 9h1v1h-1zM49 11h1v1h-1zM50 4h1v1h-1zM50 20h1v1h-1zM50 25h1v1h-1zM50 26h1v1h-1zM50 27h1v1h-1zM51 0h1v1h-1zM51 22h1v1h-1zM51 25h1v1h-1zM51 28h1v1h-1zM52 19h1v1h-1zM52 25h1v1h-1zM53 2h1v1h-1zM53 20h1v1h-1zM53 24h1v1h-1zM54 5h1v1h-1zM54 7h1v1h-1zM55 3h1v1h-1zM55 29h1v1h-1zM56 2h1v1h-1zM56 5h1v1h-1zM56 6h1v1h-1zM57 7h1v1h-1zM57 16h1v1h-1zM57 27h1v1h-1zM58 2h1v1h-1zM58 25h1v1h-1zM58 29h1v1h-1zM58 30h1v1h-1zM58 31h1v1h-1zM59 23h1v1h-1zM61 18h1v1h-1zM61 24h1v1h-1zM61 31h1v1h-1zM62 2h1v1h-1zM62 26h1v1h-1zM62 31h1v1h-1zM63 23h1v1h-1zM64 0h1v1h-1zM64 1h1v1h-1zM64 3h1v1h-1zM64 32h1v1h-1zM65 5h1v1h-1zM65 24h1v1h-1zM65 28h1v1h-1zM66 2h1v1h-1zM66 3h1v1h-1zM66 5h1v1h-1zM66 22h1v1h-1zM66 25h1v1h-1zM66 28h1v1h-1zM67 5h1v1h-1zM67 6h1v1h-1zM67 17h1v1h-1zM68 3h1v1h-1zM68 4h1v1h-1zM68 19h1v1h-1zM68 26h1v1h-1zM69 0h1v1h-1zM69 3h1v1h-1zM69 6h1v1h-1zM69 17h1v1h-1zM69 18h1v1h-1zM69 20h1v1h-1zM69 27h1v1h-1zM70 16h1v1h-1zM70 17h1v1h-1zM70 21h1v1h-1zM70 29h1v1h-1zM71 4h1v1h-1zM71 21h1v1h-1zM71 25h1v1h-1zM71 29h1v1h-1zM71 31h1v1h-1zM72 17h1v1h-1zM72 20h1v1h-1zM72 22h1v1h-1zM72 24h1v1h-1zM73 17h1v1h-1zM73 18h1v1h-1zM73 31h1v1h-1zM74 10h1v1h-1zM74 15h1v1h-1zM75 19h1v1h-1zM75 23h1v1h-1zM75 27h1v1h-1zM75 32h1v1h-1zM76 4h1v1h-1zM76 15h1v1h-1zM76 24h1v1h-1zM77 11h1v1h-1zM77 27h1v1h-1zM78 10h1v1h-1zM78 21h1v1h-1zM79 0h1v1h-1zM79 24h1v1h-1zM79 28h1v1h-1zM80 4h1v1h-1zM80 19h1v1h-1zM80 31h1v1h-1zM81 27h1v1h-1zM82 23h1v1h-1zM83 25h1v1h-1zM84 1h1v1h-1zM84 3h1v1h-1zM84 7h1v1h-1zM84 10h1v1h-1zM86 18h1v1h-1zM86 23h1v1h-1zM86 24h1v1h-1zM86 25h1v1h-1zM87 2h1v1h-1zM87 9h1v1h-1zM87 20h1v1h-1zM87 21h1v1h-1zM88 2h1v1h-1zM88 8h1v1h-1zM88 31h1v1h-1zM89 20h1v1h-1zM89 31h1v1h-1zM90 8h1v1h-1zM90 20h1v1h-1z"/>
<path fill="#0000e0" d="M0 32h1v1h-1zM1 11h1v1h-1zM1 20h1v1h-1zM2 32h1v1h-1zM4 22h1v1h-1zM4 31h1v1h-1zM5 9h1v1h-1zM7 7h1v1h-1zM7 23h1v1h-1zM7 30h1v1h-1zM8 9h1v1h-1zM8 21h1v1h-1zM9 22h1v1h-1zM10 6h1v1h-1zM10 8h1v1h-1zM11 5h1v1h-1zM12 30h1v1h-1zM13 4h1v1h-1zM13 6h1v1h-1zM13 11h1v1h-1zM13 12h1v1h-1zM13 28h1v1h-1zM15 7h1v1h-1zM15 30h1v1h-1zM16 1h1v1h-1zM16 2h1v1h-1zM16 7h1v1h-1zM16 13h1v1h-1zM16 29h1v1h-1zM17 29h1v1h-1zM18 3h1v1h-1zM18 5h1v1h-1zM19 4h1v1h-1zM19 7h1v1h-1zM19 8h1v1h-1zM19 14h1v1h-1zM19 31h1v1h-1zM20 9h1v1h-1zM21 15h1v1h-1zM22 1h1v1h-1zM23 11h1v1h-1zM24 4h1v1h-1zM26 8h1v1h-1zM27 0h1v1h-1zM28 7h1v1h-1zM29 4h1v1h-1zM31 32h1v1h-1zM33 3h1v1h-1zM33 30h1v1h-1zM33 32h1v1h-1zM34 3h1v1h-1zM35 30h1v1h-1zM36 4h1v1h-1zM37 6h1v1h-1zM38 4h1v1h-1zM39 1h1v1h-1zM39 2h1v1h-1zM39 5h1v1h-1zM39 7h1v1h-1zM40 2h1v1h-1zM41 0h1v1h-1zM41 28h1v1h-1zM41 31h1v1h-1zM42 7h1v1h-1zM42 9h1v1h-1zM42 23h1v1h-1zM42 31h1v1h-1zM45 31h1v1h-1zM46 2h1v1h-1zM46 6h1v1h-1zM46 27h1v1h-1zM46 29h1v1h-1zM47 0h1v1h-1zM47 6h1v1h-1zM47 28h1v1h-1zM48 0h1v1h-1zM48 1h1v1h-1zM48 31h1v1h-1zM49 25h1v1h-1zM50 28h1v1h-1zM51 31h1v1h-1zM52 27h1v1h-1zM52 28h1v1h-1zM53 31h1v1h-1zM55 19h1v1h-1zM55 21h1v1h-1zM55 27h1v1h-1zM55 30h1v1h-1zM56 4h1v1h-1zM56 32h1v1h-1zM57 26h1v1h-1zM57 29h1v1h-1zM58 20h1v1h-1zM61 25h1v1h-1zM61 26h1v1h-1zM62 32h1v1h-1zM63 28h1v1h-1zM63 30h1v1h-1zM64 26h1v1h-1zM65 4h1v1h-1zM67 7h1v1h-1zM67 22h1v1h-1zM67 28h1v1h-1zM68 1h1v1h-1zM68 24h1v1h-1zM68 27h1v1h-1zM68 28h1v1h-1zM68 30h1v1h-1zM68 31h1v1h-1zM69 26h1v1h-1zM69 29h1v1h-1zM70 0h1v1h-1zM70 2h1v1h-1zM70 3h1v1h-1zM70 20h1v1h-1zM70 24h1v1h-1zM71 0h1v1h-1zM72 18h1v1h-1zM72 27h1v1h-1zM73 1h1v1h-1zM73 3h1v1h-1zM73 23h1v1h-1zM75 0h1v1h-1zM75 21h1v1h-1zM76 23h1v1h-1zM77 28h1v1h-1zM77 29h1v1h-1zM78 28h1v1h-1zM78 29h1v1h-1zM78 30h1v1h-1zM79 20h1v1h-1zM79 29h1v1h-1zM80 1h1v1h-1zM81 26h1v1h-1zM82 0h1v1h-1zM84 25h1v1h-1zM85 21h1v1h-1zM86 2h1v1h-1zM86 8h1v1h-1zM86 19h1v1h-1zM86 21h1v1h-1zM87 24h1v1h-1zM90 24h1v1h-1z"/>
<path fill="#0000ff" d="M1 0h1v1h-1zM1 19h1v1h-1zM1 24h1v1h-1zM2 9h1v1h-1zM2 22h1v1h-1zM3 9h1v1h-1zM4 11h1v1h-1zM4 30h1v1h-1zM5 25h1v1h-1zM6 9h1v1h-1zM8 7h1v1h-1zM8 10h1v1h-1zM8 11h1v1h-1zM10 11h1v1h-1zM11 4h1v1h-1zM11 8h1v1h-1zM12 7h1v1h-1zM12 13h1v1h-1zM12 16h1v1h-1zM12 29h1v1h-1zM13 5h1v1h-1zM14 5h1v1h-1zM14 7h1v1h-1zM14 8h1v1h-1zM14 11h1v1h-1zM14 12h1v1h-1zM14 30h1v1h-1zM15 4h1v1h-1zM15 8h1v1h-1zM16 0h1v1h-1zM16 12h1v1h-1zM16 30h1v1h-1zM17 2h1v1h-1zM17 14h1v1h-1zM17 16h1v1h-1zM17 27h1v1h-1zM18 0h1v1h-1zM18 1h1v1h-1zM18 30h1v1h-1zM19 2h1v1h-1zM19 3h1v1h-1zM20 0h1v1h-1zM21 0h1v1h-1zM21 8h1v1h-1zM21 13h1v1h-1zM21 14h1v1h-1zM21 27h1v1h-1zM21 28h1v1h-1zM22 0h1v1h-1zM22 6h1v1h-1zM22 10h1v1h-1zM22 28h1v1h-1zM23 0h1v1h-1zM23 31h1v1h-1zM23 32h1v1h-1zM24 0h1v1h-1zM24 1h1v1h-1zM24 32h1v1h-1zM25 1h1v1h-1zM25 11h1v1h-1zM25 12h1v1h-1zM27 1h1v1h-1zM27 7h1v1h-1zM27 8h1v1h-1zM27 10h1v1h-1zM28 2h1v1h-1zM28 11h1v1h-1zM28 30h1v1h-1zM28 31h1v1h-1zM31 30h1v1h-1zM32 12h1v1h-1zM32 29h1v1h-1zM33 2h1v1h-1zM33 9h1v1h-1zM33 12h1v1h-1zM34 30h1v1h-1zM35 1h1v1h-1zM35 2h1v1h-1zM36 0h1v1h-1zM36 26h1v1h-1zM38 8h1v1h-1zM38 26h1v1h-1zM38 28h1v1h-1zM38 31h1v1h-1zM40 4h1v1h-1zM41 1h1v1h-1zM41 3h1v1h-1zM42 0h1v1h-1zM42 4h1v1h-1zM42 27h1v1h-1zM43 30h1v1h-1zM44 30h1v1h-1zM45 0h1v1h-1zM45 2h1v1h-1zM45 22h1v1h-1zM45 26h1v1h-1zM45 30h1v1h-1zM46 1h1v1h-1zM46 4h1v1h-1zM46 5h1v1h-1zM46 32h1v1h-1zM47 2h1v1h-1zM47 5h1v1h-1zM47 11h1v1h-1zM47 23h1v1h-1zM48 3h1v1h-1zM48 8h1v1h-1zM48 24h1v1h-1zM48 29h1v1h-1zM50 2h1v1h-1zM51 3h1v1h-1zM52 1h1v1h-1zM52 2h1v1h-1zM52 4h1v1h-1zM52 29h1v1h-1zM52 32h1v1h-1zM53 18h1v1h-1zM53 26h1v1h-1zM54 21h1v1h-1zM54 31h1v1h-1zM54 32h1v1h-1zM55 5h1v1h-1zM55 6h1v1h-1zM55 25h1v1h-1zM55 28h1v1h-1zM55 31h1v1h-1zM56 24h1v1h-1zM56 27h1v1h-1zM56 29h1v1h-1zM57 3h1v1h-1zM59 25h1v1h-1zM61 0h1v1h-1zM61 1h1v1h-1zM61 20h1v1h-1zM61 22h1v1h-1zM61 23h1v1h-1zM61 32h1v1h-1zM63 19h1v1h-1zM63 24h1v1h-1zM63 26h1v1h-1zM63 32h1v1h-1zM64 24h1v1h-1zM64 29h1v1h-1zM64 31h1v1h-1zM65 29h1v1h-1zM66 17h1v1h-1zM66 24h1v1h-1zM66 26h1v1h-1zM66 27h1v1h-1zM66 29h1v1h-1zM67 20h1v1h-1zM67 21h1v1h-1zM67 32h1v1h-1zM69 24h1v1h-1zM69 28h1v1h-1zM70 22h1v1h-1zM70 30h1v1h-1zM70 32h1v1h-1zM71 2h1v1h-1zM71 28h1v1h-1zM71 32h1v1h-1zM72 25h1v1h-1zM72 30h1v1h-1zM72 32h1v1h-1zM73 21h1v1h-1zM73 25h1v1h-1zM73 30h1v1h-1zM74 23h1v1h-1zM74 25h1v1h-1zM74 26h1v1h-1zM74 27h1v1h-1zM74 28h1v1h-1zM74 31h1v1h-1zM75 4h1v1h-1zM75 22h1v1h-1zM76 0h1v1h-1zM76 3h1v1h-1zM76 10h1v1h-1zM77 2h1v1h-1zM77 3h1v1h-1zM77 18h1v1h-1zM77 19h1v1h-1zM77 23h1v1h-1zM78 2h1v1h-1zM78 19h1v1h-1zM78 31h1v1h-1zM79 3h1v1h-1zM79 18h1v1h-1zM81 22h1v1h-1zM81 23h1v1h-1zM81 24h1v1h-1zM84 8h1v1h-1zM84 22h1v1h-1zM84 23h1v1h-1zM85 2h1v1h-1zM86 7h1v1h-1zM86 20h1v1h-1zM87 0h1v1h-1zM87 23h1v1h-1zM88 10h1v1h-1zM89 1h1v1h-1z"/>
<path fill="#000080" d="M1 8h1v1h-1zM4 32h1v1h-1zM5 32h1v1h-1zM7 8h1v1h-1zM7 29h1v1h-1zM7 32h1v1h-1zM8 5h1v1h-1zM10 5h1v1h-1zM10 7h1v1h-1zM11 3h1v1h-1zM12 5h1v1h-1zM12 12h1v1h-1zM12 31h1v1h-1zM13 1h1v1h-1zM13 29h1v1h-1zM13 30h1v1h-1zM14 3h1v1h-1zM15 2h1v1h-1zM15 14h1v1h-1zM16 9h1v1h-1zM16 10h1v1h-1zM16 11h1v1h-1zM19 0h1v1h-1zM19 1h1v1h-1zM19 9h1v1h-1zM19 11h1v1h-1zM20 8h1v1h-1zM21 5h1v1h-1zM21 7h1v1h-1zM21 9h1v1h-1zM22 32h1v1h-1zM27 32h1v1h-1zM28 1h1v1h-1zM28 3h1v1h-1zM31 0h1v1h-1zM31 3h1v1h-1zM31 28h1v1h-1zM32 3h1v1h-1zM32 8h1v1h-1zM32 28h1v1h-1zM34 0h1v1h-1zM34 1h1v1h-1zM34 2h1v1h-1zM35 11h1v1h-1zM36 3h1v1h-1zM36 5h1v1h-1zM36 31h1v1h-1zM39 6h1v1h-1zM40 1h1v1h-1zM40 28h1v1h-1zM41 32h1v1h-1zM42 1h1v1h-1zM43 0h1v1h-1zM43 4h1v1h-1zM44 3h1v1h-1zM44 4h1v1h-1zM44 27h1v1h-1zM46 0h1v1h-1zM46 7h1v1h-1zM46 25h1v1h-1zM47 26h1v1h-1zM47 27h1v1h-1zM48 32h1v1h-1zM49 0h1v1h-1zM49 1h1v1h-1zM49 5h1v1h-1zM49 23h1v1h-1zM49 26h1v1h-1zM49 29h1v1h-1zM49 30h1v1h-1zM49 31h1v1h-1zM49 32h1v1h-1zM50 29h1v1h-1zM50 31h1v1h-1zM51 29h1v1h-1zM52 5h1v1h-1zM52 6h1v1h-1zM52 30h1v1h-1zM52 31h1v1h-1zM56 30h1v1h-1zM59 31h1v1h-1zM63 27h1v1h-1zM64 27h1v1h-1zM64 30h1v1h-1zM66 20h1v1h-1zM67 0h1v1h-1zM67 2h1v1h-1zM67 3h1v1h-1zM67 23h1v1h-1zM67 24h1v1h-1zM67 26h1v1h-1zM67 27h1v1h-1zM67 29h1v1h-1zM67 30h1v1h-1zM67 31h1v1h-1zM68 18h1v1h-1zM68 23h1v1h-1zM68 32h1v1h-1zM69 1h1v1h-1zM69 30h1v1h-1zM72 3h1v1h-1zM73 22h1v1h-1zM74 24h1v1h-1zM75 2h1v1h-1zM77 20h1v1h-1zM77 25h1v1h-1zM77 26h1v1h-1zM79 1h1v1h-1zM79 25h1v1h-1zM79 26h1v1h-1zM80 23h1v1h-1zM85 0h1v1h-1zM86 1h1v1h-1zM90 0h1v1h-1zM90 32h1v1h-1z"/>
<path fill="#002aff" d="M1 10h1v1h-1zM2 24h1v1h-1zM4 7h1v1h-1zM4 25h1v1h-1zM5 5h1v1h-1zM5 24h1v1h-1zM6 29h1v1h-1zM6 30h1v1h-1zM7 3h1v1h-1zM7 10h1v1h-1zM7 11h1v1h-1zM8 6h1v1h-1zM8 8h1v1h-1zM8 29h1v1h-1zM8 30h1v1h-1zM9 6h1v1h-1zM9 28h1v1h-1zM10 16h1v1h-1zM10 29h1v1h-1zM10 31h1v1h-1zM11 9h1v1h-1zM11 14h1v1h-1zM11 28h1v1h-1zM12 2h1v1h-1zM12 4h1v1h-1zM12 6h1v1h-1zM12 10h1v1h-1zM12 32h1v1h-1zM13 3h1v1h-1zM13 7h1v1h-1zM13 9h1v1h-1zM13 13h1v1h-1zM13 14h1v1h-1zM13 16h1v1h-1zM13 21h1v1h-1zM13 31h1v1h-1zM14 6h1v1h-1zM14 29h1v1h-1zM14 31h1v1h-1zM15 10h1v1h-1zM15 27h1v1h-1zM15 28h1v1h-1zM15 31h1v1h-1zM16 4h1v1h-1zM16 14h1v1h-1zM16 22h1v1h-1zM16 27h1v1h-1zM16 28h1v1h-1zM16 32h1v1h-1zM17 13h1v1h-1zM17 30h1v1h-1zM18 13h1v1h-1zM18 29h1v1h-1zM18 32h1v1h-1zM19 5h1v1h-1zM19 26h1v1h-1zM19 29h1v1h-1zM20 5h1v1h-1zM21 1h1v1h-1zM21 2h1v1h-1zM21 3h1v1h-1zM21 4h1v1h-1zM21 32h1v1h-1zM22 4h1v1h-1zM22 5h1v1h-1zM22 8h1v1h-1zM22 30h1v1h-1zM22 31h1v1h-1zM23 4h1v1h-1zM23 5h1v1h-1zM23 7h1v1h-1zM23 8h1v1h-1zM24 5h1v1h-1zM24 12h1v1h-1zM25 6h1v1h-1zM28 9h1v1h-1zM29 0h1v1h-1zM29 6h1v1h-1zM31 1h1v1h-1zM31 2h1v1h-1zM31 29h1v1h-1zM32 1h1v1h-1zM32 7h1v1h-1zM32 9h1v1h-1zM33 7h1v1h-1zM34 9h1v1h-1zM34 32h1v1h-1zM35 3h1v1h-1zM35 9h1v1h-1zM35 28h1v1h-1zM35 29h1v1h-1zM36 1h1v1h-1zM36 8h1v1h-1zM36 27h1v1h-1zM36 29h1v1h-1zM36 32h1v1h-1zM37 4h1v1h-1zM37 10h1v1h-1zM37 25h1v1h-1zM37 27h1v1h-1zM37 29h1v1h-1zM38 0h1v1h-1zM38 25h1v1h-1zM38 32h1v1h-1zM39 3h1v1h-1zM39 8h1v1h-1zM39 11h1v1h-1zM39 29h1v1h-1zM39 30h1v1h-1zM40 6h1v1h-1zM40 30h1v1h-1zM41 2h1v1h-1zM41 26h1v1h-1zM41 27h1v1h-1zM42 2h1v1h-1zM42 30h1v1h-1zM43 27h1v1h-1zM44 7h1v1h-1zM44 31h1v1h-1zM45 1h1v1h-1zM45 3h1v1h-1zM45 25h1v1h-1zM46 26h1v1h-1zM46 31h1v1h-1zM47 4h1v1h-1zM47 21h1v1h-1zM47 24h1v1h-1zM47 25h1v1h-1zM47 29h1v1h-1zM48 2h1v1h-1zM48 11h1v1h-1zM48 27h1v1h-1zM49 3h1v1h-1zM49 24h1v1h-1zM50 0h1v1h-1zM50 3h1v1h-1zM50 30h1v1h-1zM51 30h1v1h-1zM52 0h1v1h-1zM52 3h1v1h-1zM52 26h1v1h-1zM53 28h1v1h-1zM53 32h1v1h-1zM54 4h1v1h-1zM54 29h1v1h-1zM55 1h1v1h-1zM55 22h1v1h-1zM55 24h1v1h-1zM56 1h1v1h-1zM56 25h1v1h-1zM56 31h1v1h-1zM57 4h1v1h-1zM57 5h1v1h-1zM57 25h1v1h-1zM57 28h1v1h-1zM57 32h1v1h-1zM58 3h1v1h-1zM58 32h1v1h-1zM59 20h1v1h-1zM59 22h1v1h-1zM59 27h1v1h-1zM61 30h1v1h-1zM62 28h1v1h-1zM63 1h1v1h-1zM63 31h1v1h-1zM64 21h1v1h-1zM66 0h1v1h-1zM66 21h1v1h-1zM66 30h1v1h-1zM66 31h1v1h-1zM67 4h1v1h-1zM67 19h1v1h-1zM68 5h1v1h-1zM68 17h1v1h-1zM68 22h1v1h-1zM68 29h1v1h-1zM69 32h1v1h-1zM70 18h1v1h-1zM70 23h1v1h-1zM70 25h1v1h-1zM72 0h1v1h-1zM72 4h1v1h-1zM72 19h1v1h-1zM72 29h1v1h-1zM73 0h1v1h-1zM73 2h1v1h-1zM73 4h1v1h-1zM73 5h1v1h-1zM73 10h1v1h-1zM73 27h1v1h-1zM74 0h1v1h-1zM74 1h1v1h-1zM74 17h1v1h-1zM74 29h1v1h-1zM74 30h1v1h-1zM74 32h1v1h-1zM75 3h1v1h-1zM75 5h1v1h-1zM75 20h1v1h-1zM75 29h1v1h-1zM75 30h1v1h-1zM76 2h1v1h-1zM76 26h1v1h-1zM76 29h1v1h-1zM76 30h1v1h-1zM77 0h1v1h-1zM77 32h1v1h-1zM78 1h1v1h-1zM78 3h1v1h-1zM78 4h1v1h-1zM78 23h1v1h-1zM79 19h1v1h-1zM79 31h1v1h-1zM80 0h1v1h-1zM80 22h1v1h-1zM80 25h1v1h-1zM80 26h1v1h-1zM81 2h1v1h-1zM81 8h1v1h-1zM81 10h1v1h-1zM81 25h1v1h-1zM83 26h1v1h-1zM84 0h1v1h-1zM85 1h1v1h-1zM85 24h1v1h-1zM85 25h1v1h-1zM86 0h1v1h-1zM86 3h1v1h-1zM87 25h1v1h-1zM88 0h1v1h-1zM88 1h1v1h-1zM88 9h1v1h-1zM88 25h1v1h-1zM88 32h1v1h-1zM89 0h1v1h-1zM90 25h1v1h-1z"/>
<path fill="#ffe600" d="M1 15h1v1h-1zM1 16h1v1h-1zM3 6h1v1h-1zM3 27h1v1h-1zM3 28h1v1h-1zM6 26h1v1h-1zM6 27h1v1h-1zM10 26h1v1h-1zM11 19h1v1h-1zM14 24h1v1h-1zM15 18h1v1h-1zM16 18h1v1h-1zM16 25h1v1h-1zM17 23h1v1h-1zM18 18h1v1h-1zM18 20h1v1h-1zM19 20h1v1h-1zM20 22h1v1h-1zM20 25h1v1h-1zM21 21h1v1h-1zM21 24h1v1h-1zM25 18h1v1h-1zM25 23h1v1h-1zM26 23h1v1h-1zM26 24h1v1h-1zM27 19h1v1h-1zM27 23h1v1h-1zM29 18h1v1h-1zM33 25h1v1h-1zM34 22h1v1h-1zM40 20h1v1h-1zM43 13h1v1h-1zM44 13h1v1h-1zM44 15h1v1h-1zM45 18h1v1h-1zM46 15h1v1h-1zM47 15h1v1h-1zM50 13h1v1h-1zM51 13h1v1h-1zM56 11h1v1h-1zM56 14h1v1h-1zM58 0h1v1h-1zM58 5h1v1h-1zM62 14h1v1h-1zM66 13h1v1h-1zM69 9h1v1h-1zM70 13h1v1h-1zM72 13h1v1h-1zM73 13h1v1h-1zM74 8h1v1h-1zM74 13h1v1h-1zM77 7h1v1h-1zM82 13h1v1h-1zM85 28h1v1h-1zM85 31h1v1h-1zM86 14h1v1h-1zM87 29h1v1h-1zM88 12h1v1h-1zM88 15h1v1h-1zM88 27h1v1h-1zM88 29h1v1h-1zM88 30h1v1h-1zM89 16h1v1h-1zM90 3h1v1h-1zM90 17h1v1h-1zM90 28h1v1h-1z"/>
<path fill="#e2ff15" d="M1 29h1v1h-1zM2 3h1v1h-1zM2 7h1v1h-1zM3 15h1v1h-1zM3 17h1v1h-1zM3 18h1v1h-1zM4 2h1v1h-1zM4 17h1v1h-1zM4 27h1v1h-1zM5 17h1v1h-1zM7 18h1v1h-1zM8 18h1v1h-1zM11 20h1v1h-1zM14 18h1v1h-1zM15 19h1v1h-1zM15 20h1v1h-1zM16 20h1v1h-1zM19 19h1v1h-1zM25 17h1v1h-1zM29 23h1v1h-1zM29 27h1v1h-1zM31 18h1v1h-1zM32 18h1v1h-1zM34 21h1v1h-1zM37 17h1v1h-1zM37 20h1v1h-1zM40 16h1v1h-1zM43 14h1v1h-1zM44 14h1v1h-1zM49 13h1v1h-1zM49 16h1v1h-1zM56 16h1v1h-1zM57 10h1v1h-1zM58 15h1v1h-1zM59 14h1v1h-1zM66 9h1v1h-1zM67 9h1v1h-1zM69 8h1v1h-1zM72 9h1v1h-1zM72 12h1v1h-1zM73 14h1v1h-1zM74 12h1v1h-1zM76 13h1v1h-1zM76 14h1v1h-1zM81 6h1v1h-1zM81 13h1v1h-1zM82 14h1v1h-1zM82 17h1v1h-1zM84 6h1v1h-1zM84 12h1v1h-1zM84 14h1v1h-1zM84 15h1v1h-1zM87 5h1v1h-1zM87 16h1v1h-1zM87 26h1v1h-1zM88 4h1v1h-1zM88 16h1v1h-1zM89 4h1v1h-1zM90 15h1v1h-1z"/>
<path fill="#ff2100" d="M3 16h1v1h-1zM10 18h1v1h-1zM18 24h1v1h-1zM22 20h1v1h-1zM23 20h1v1h-1zM23 21h1v1h-1zM25 19h1v1h-1zM26 18h1v1h-1zM30 6h1v1h-1zM30 7h1v1h-1zM30 26h1v1h-1zM30 27h1v1h-1zM30 29h1v1h-1zM30 30h1v1h-1zM43 16h1v1h-1zM46 16h1v1h-1zM52 13h1v1h-1zM53 14h1v1h-1zM60 0h1v1h-1zM60 1h1v1h-1zM60 4h1v1h-1zM60 22h1v1h-1zM61 13h1v1h-1zM62 13h1v1h-1zM71 9h1v1h-1zM71 13h1v1h-1zM75 13h1v1h-1zM90 16h1v1h-1z"/>
<path fill="#0000b0" d="M7 31h1v1h-1zM8 12h1v1h-1zM8 13h1v1h-1zM8 14h1v1h-1zM8 31h1v1h-1zM8 32h1v1h-1zM9 10h1v1h-1zM9 12h1v1h-1zM10 4h1v1h-1zM12 3h1v1h-1zM12 14h1v1h-1zM13 32h1v1h-1zM14 2h1v1h-1zM14 4h1v1h-1zM14 13h1v1h-1zM14 14h1v1h-1zM14 15h1v1h-1zM15 1h1v1h-1zM15 29h1v1h-1zM15 32h1v1h-1zM16 3h1v1h-1zM16 5h1v1h-1zM17 3h1v1h-1zM17 7h1v1h-1zM18 8h1v1h-1zM18 11h1v1h-1zM19 10h1v1h-1zM19 12h1v1h-1zM19 13h1v1h-1zM20 32h1v1h-1zM22 9h1v1h-1zM23 2h1v1h-1zM23 6h1v1h-1zM23 9h1v1h-1zM23 10h1v1h-1zM24 3h1v1h-1zM24 7h1v1h-1zM25 4h1v1h-1zM25 7h1v1h-1zM27 6h1v1h-1zM27 31h1v1h-1zM32 2h1v1h-1zM33 1h1v1h-1zM33 4h1v1h-1zM35 0h1v1h-1zM35 8h1v1h-1zM35 27h1v1h-1zM38 27h1v1h-1zM38 30h1v1h-1zM39 4h1v1h-1zM39 31h1v1h-1zM39 32h1v1h-1zM40 27h1v1h-1zM42 5h1v1h-1zM43 1h1v1h-1zM43 2h1v1h-1zM43 3h1v1h-1zM43 5h1v1h-1zM44 29h1v1h-1zM45 29h1v1h-1zM46 24h1v1h-1zM46 28h1v1h-1zM47 30h1v1h-1zM47 31h1v1h-1zM47 32h1v1h-1zM48 25h1v1h-1zM49 2h1v1h-1zM49 4h1v1h-1zM49 27h1v1h-1zM49 28h1v1h-1zM51 32h1v1h-1zM52 24h1v1h-1zM54 20h1v1h-1zM54 30h1v1h-1zM55 0h1v1h-1zM55 4h1v1h-1zM55 23h1v1h-1zM55 26h1v1h-1zM56 26h1v1h-1zM56 28h1v1h-1zM61 28h1v1h-1zM63 29h1v1h-1zM64 18h1v1h-1zM64 19h1v1h-1zM65 21h1v1h-1zM65 27h1v1h-1zM66 1h1v1h-1zM67 1h1v1h-1zM67 25h1v1h-1zM68 25h1v1h-1zM69 5h1v1h-1zM69 31h1v1h-1zM71 24h1v1h-1zM72 26h1v1h-1zM72 28h1v1h-1zM73 29h1v1h-1zM75 17h1v1h-1zM76 31h1v1h-1zM77 21h1v1h-1zM78 0h1v1h-1zM80 21h1v1h-1zM80 27h1v1h-1zM81 21h1v1h-1zM82 21h1v1h-1zM85 23h1v1h-1zM90 9h1v1h-1z"/>
<path fill="#ff4800" d="M11 18h1v1h-1zM17 24h1v1h-1zM18 23h1v1h-1zM21 19h1v1h-1zM21 23h1v1h-1zM22 21h1v1h-1zM28 19h1v1h-1zM28 22h1v1h-1zM29 22h1v1h-1zM31 21h1v1h-1zM38 17h1v1h-1zM39 17h1v1h-1zM49 14h1v1h-1zM55 12h1v1h-1zM55 14h1v1h-1zM59 11h1v1h-1zM60 27h1v1h-1zM60 28h1v1h-1zM60 29h1v1h-1zM60 30h1v1h-1zM60 31h1v1h-1zM60 32h1v1h-1zM62 10h1v1h-1zM63 10h1v1h-1zM67 10h1v1h-1zM69 10h1v1h-1zM83 14h1v1h-1zM90 29h1v1h-1z"/>
<path fill="#e00000" d="M20 23h1v1h-1zM24 20h1v1h-1zM25 22h1v1h-1zM27 22h1v1h-1zM30 25h1v1h-1zM30 28h1v1h-1zM30 31h1v1h-1zM30 32h1v1h-1zM32 19h1v1h-1zM35 19h1v1h-1zM37 18h1v1h-1zM40 17h1v1h-1zM40 18h1v1h-1zM42 17h1v1h-1zM45 16h1v1h-1zM48 16h1v1h-1zM49 15h1v1h-1zM54 13h1v1h-1zM60 2h1v1h-1zM60 3h1v1h-1zM60 21h1v1h-1zM60 23h1v1h-1zM60 24h1v1h-1zM60 25h1v1h-1zM60 26h1v1h-1zM65 10h1v1h-1zM66 12h1v1h-1zM79 13h1v1h-1z"/>
<path fill="#800000" d="M22 22h1v1h-1zM22 23h1v1h-1zM23 22h1v1h-1zM24 21h1v1h-1zM24 22h1v1h-1zM25 20h1v1h-1zM25 21h1v1h-1zM26 19h1v1h-1zM26 21h1v1h-1zM26 22h1v1h-1zM27 20h1v1h-1zM27 21h1v1h-1zM28 20h1v1h-1zM28 21h1v1h-1zM29 19h1v1h-1zM29 20h1v1h-1zM29 21h1v1h-1zM30 9h1v1h-1zM30 11h1v1h-1zM30 12h1v1h-1zM30 13h1v1h-1zM30 14h1v1h-1zM30 15h1v1h-1zM30 18h1v1h-1zM30 19h1v1h-1zM30 22h1v1h-1zM30 23h1v1h-1zM30 24h1v1h-1zM31 19h1v1h-1zM31 20h1v1h-1zM32 20h1v1h-1zM33 19h1v1h-1zM33 20h1v1h-1zM33 21h1v1h-1zM34 19h1v1h-1zM35 18h1v1h-1zM36 18h1v1h-1zM37 19h1v1h-1zM38 18h1v1h-1zM41 17h1v1h-1zM43 17h1v1h-1zM44 17h1v1h-1zM45 17h1v1h-1zM50 14h1v1h-1zM50 15h1v1h-1zM55 13h1v1h-1zM56 12h1v1h-1zM56 13h1v1h-1zM57 12h1v1h-1zM57 13h1v1h-1zM58 12h1v1h-1zM58 13h1v1h-1zM59 12h1v1h-1zM59 13h1v1h-1zM60 5h1v1h-1zM60 7h1v1h-1zM60 9h1v1h-1zM60 10h1v1h-1zM60 11h1v1h-1zM60 12h1v1h-1zM60 13h1v1h-1zM60 14h1v1h-1zM60 15h1v1h-1zM60 16h1v1h-1zM60 17h1v1h-1zM60 18h1v1h-1zM60 19h1v1h-1zM60 20h1v1h-1zM61 11h1v1h-1zM61 12h1v1h-1zM62 11h1v1h-1zM62 12h1v1h-1zM63 11h1v1h-1zM63 12h1v1h-1zM64 11h1v1h-1zM64 12h1v1h-1zM65 11h1v1h-1zM65 12h1v1h-1z"/>
<path fill="#b00000" d="M26 20h1v1h-1zM30 8h1v1h-1zM30 10h1v1h-1zM30 16h1v1h-1zM30 17h1v1h-1zM30 20h1v1h-1zM30 21h1v1h-1zM34 20h1v1h-1zM36 19h1v1h-1zM39 18h1v1h-1zM41 18h1v1h-1zM44 16h1v1h-1zM47 16h1v1h-1zM48 15h1v1h-1zM53 13h1v1h-1zM54 14h1v1h-1zM58 11h1v1h-1zM60 6h1v1h-1zM60 8h1v1h-1zM64 10h1v1h-1zM66 10h1v1h-1zM66 11h1v1h-1z"/>
</g></g>
<g clip-path="url(#cd)"><g transform="translate(275.482 229.445) scale(2.4268 5.7700)" shape-rendering="crispEdges">
<path fill="#37ffc0" d="M0 0h1v1h-1zM0 7h1v1h-1zM0 14h1v1h-1zM0 21h1v1h-1zM1 14h1v1h-1zM2 15h1v1h-1zM2 17h1v1h-1zM2 19h1v1h-1zM3 5h1v1h-1zM3 6h1v1h-1zM3 14h1v1h-1zM3 20h1v1h-1zM4 3h1v1h-1zM4 7h1v1h-1zM4 21h1v1h-1zM4 22h1v1h-1zM4 31h1v1h-1zM5 7h1v1h-1zM5 10h1v1h-1zM5 14h1v1h-1zM6 12h1v1h-1zM7 1h1v1h-1zM7 8h1v1h-1zM7 9h1v1h-1zM7 11h1v1h-1zM7 26h1v1h-1zM8 11h1v1h-1zM8 16h1v1h-1zM8 19h1v1h-1zM8 25h1v1h-1zM8 26h1v1h-1zM8 31h1v1h-1zM9 5h1v1h-1zM9 11h1v1h-1zM9 14h1v1h-1zM9 19h1v1h-1zM9 26h1v1h-1zM9 28h1v1h-1zM10 2h1v1h-1zM10 7h1v1h-1zM10 8h1v1h-1zM10 13h1v1h-1zM10 27h1v1h-1zM10 31h1v1h-1zM11 2h1v1h-1zM11 12h1v1h-1zM11 14h1v1h-1zM12 8h1v1h-1zM12 10h1v1h-1zM12 25h1v1h-1zM13 2h1v1h-1zM13 6h1v1h-1zM13 8h1v1h-1zM13 11h1v1h-1zM13 12h1v1h-1zM13 21h1v1h-1zM13 32h1v1h-1zM14 16h1v1h-1zM14 19h1v1h-1zM16 8h1v1h-1zM16 9h1v1h-1zM16 12h1v1h-1zM17 1h1v1h-1zM17 3h1v1h-1zM17 16h1v1h-1zM17 31h1v1h-1zM18 6h1v1h-1zM18 29h1v1h-1zM18 30h1v1h-1zM19 11h1v1h-1zM19 15h1v1h-1zM19 23h1v1h-1zM19 24h1v1h-1zM20 15h1v1h-1zM21 15h1v1h-1zM21 18h1v1h-1zM21 24h1v1h-1zM22 14h1v1h-1zM22 15h1v1h-1zM22 26h1v1h-1zM23 10h1v1h-1zM23 16h1v1h-1zM23 19h1v1h-1zM24 13h1v1h-1zM24 15h1v1h-1zM24 24h1v1h-1zM25 1h1v1h-1zM25 7h1v1h-1zM25 17h1v1h-1zM25 18h1v1h-1zM25 24h1v1h-1zM26 2h1v1h-1zM26 7h1v1h-1zM26 25h1v1h-1zM26 32h1v1h-1zM27 0h1v1h-1zM27 8h1v1h-1zM27 13h1v1h-1zM27 18h1v1h-1zM28 15h1v1h-1zM28 18h1v1h-1zM28 22h1v1h-1zM29 5h1v1h-1zM29 13h1v1h-1zM29 17h1v1h-1zM30 2h1v1h-1zM31 21h1v1h-1zM32 2h1v1h-1zM33 12h1v1h-1zM34 5h1v1h-1zM34 9h1v1h-1zM34 12h1v1h-1zM35 2h1v1h-1zM36 9h1v1h-1zM36 32h1v1h-1zM38 21h1v1h-1zM39 12h1v1h-1zM39 21h1v1h-1zM41 2h1v1h-1zM41 19h1v1h-1zM42 29h1v1h-1zM48 7h1v1h-1zM48 30h1v1h-1zM49 31h1v1h-1zM50 21h1v1h-1zM50 25h1v1h-1zM51 9h1v1h-1zM51 13h1v1h-1zM51 18h1v1h-1zM52 26h1v1h-1zM54 3h1v1h-1zM54 21h1v1h-1zM54 22h1v1h-1zM55 23h1v1h-1zM55 27h1v1h-1zM55 32h1v1h-1zM56 16h1v1h-1zM56 18h1v1h-1zM57 9h1v1h-1zM58 9h1v1h-1zM58 10h1v1h-1zM58 19h1v1h-1zM59 18h1v1h-1zM59 20h1v1h-1zM59 30h1v1h-1zM60 17h1v1h-1zM61 10h1v1h-1zM61 13h1v1h-1zM61 17h1v1h-1zM63 29h1v1h-1zM64 1h1v1h-1zM64 5h1v1h-1zM64 19h1v1h-1zM64 22h1v1h-1zM65 15h1v1h-1zM65 16h1v1h-1zM66 23h1v1h-1zM66 27h1v1h-1zM66 31h1v1h-1zM67 8h1v1h-1zM67 23h1v1h-1zM68 16h1v1h-1zM68 32h1v1h-1zM70 7h1v1h-1zM70 13h1v1h-1zM72 7h1v1h-1zM72 19h1v1h-1zM72 21h1v1h-1zM72 23h1v1h-1zM73 6h1v1h-1zM73 21h1v1h-1zM73 24h1v1h-1zM74 17h1v1h-1zM74 25h1v1h-1zM76 24h1v1h-1zM77 11h1v1h-1zM77 21h1v1h-1zM77 23h1v1h-1zM78 7h1v1h-1zM79 19h1v1h-1zM79 24h1v1h-1zM80 6h1v1h-1zM80 17h1v1h-1zM80 20h1v1h-1zM80 24h1v1h-1zM81 5h1v1h-1zM81 6h1v1h-1zM81 21h1v1h-1zM83 5h1v1h-1zM83 11h1v1h-1zM83 16h1v1h-1zM83 22h1v1h-1zM83 26h1v1h-1zM84 12h1v1h-1zM84 16h1v1h-1zM84 18h1v1h-1zM84 25h1v1h-1zM85 8h1v1h-1zM85 22h1v1h-1zM85 29h1v1h-1zM86 8h1v1h-1zM86 10h1v1h-1zM86 14h1v1h-1zM86 17h1v1h-1zM86 18h1v1h-1zM86 19h1v1h-1zM87 4h1v1h-1zM87 28h1v1h-1zM88 2h1v1h-1zM88 11h1v1h-1zM88 12h1v1h-1zM88 19h1v1h-1zM88 27h1v1h-1zM89 4h1v1h-1zM89 20h1v1h-1zM89 25h1v1h-1zM90 4h1v1h-1zM90 7h1v1h-1zM90 24h1v1h-1zM90 31h1v1h-1z"/>
<path fill="#00d4ff" d="M0 1h1v1h-1zM0 2h1v1h-1zM0 26h1v1h-1zM1 31h1v1h-1zM2 14h1v1h-1zM2 21h1v1h-1zM3 1h1v1h-1zM3 18h1v1h-1zM3 19h1v1h-1zM3 25h1v1h-1zM3 26h1v1h-1zM3 28h1v1h-1zM3 29h1v1h-1zM3 31h1v1h-1zM4 1h1v1h-1zM4 19h1v1h-1zM5 13h1v1h-1zM5 18h1v1h-1zM6 15h1v1h-1zM6 19h1v1h-1zM6 20h1v1h-1zM6 30h1v1h-1zM6 32h1v1h-1zM7 3h1v1h-1zM8 0h1v1h-1zM8 1h1v1h-1zM8 4h1v1h-1zM8 29h1v1h-1zM9 0h1v1h-1zM9 6h1v1h-1zM9 7h1v1h-1zM9 18h1v1h-1zM9 20h1v1h-1zM10 3h1v1h-1zM10 19h1v1h-1zM11 1h1v1h-1zM11 11h1v1h-1zM11 17h1v1h-1zM11 18h1v1h-1zM11 21h1v1h-1zM11 31h1v1h-1zM11 32h1v1h-1zM12 6h1v1h-1zM13 7h1v1h-1zM13 14h1v1h-1zM13 15h1v1h-1zM13 18h1v1h-1zM13 29h1v1h-1zM14 15h1v1h-1zM14 27h1v1h-1zM16 2h1v1h-1zM16 4h1v1h-1zM16 5h1v1h-1zM16 6h1v1h-1zM16 7h1v1h-1zM16 11h1v1h-1zM16 16h1v1h-1zM16 17h1v1h-1zM17 2h1v1h-1zM17 26h1v1h-1zM17 27h1v1h-1zM17 30h1v1h-1zM18 2h1v1h-1zM18 18h1v1h-1zM18 19h1v1h-1zM18 27h1v1h-1zM19 0h1v1h-1zM19 1h1v1h-1zM19 2h1v1h-1zM19 4h1v1h-1zM19 5h1v1h-1zM20 0h1v1h-1zM20 4h1v1h-1zM20 30h1v1h-1zM21 8h1v1h-1zM21 10h1v1h-1zM22 4h1v1h-1zM22 12h1v1h-1zM22 17h1v1h-1zM22 30h1v1h-1zM23 3h1v1h-1zM23 6h1v1h-1zM23 7h1v1h-1zM23 26h1v1h-1zM23 28h1v1h-1zM24 16h1v1h-1zM24 18h1v1h-1zM25 8h1v1h-1zM25 19h1v1h-1zM26 3h1v1h-1zM26 4h1v1h-1zM26 6h1v1h-1zM26 9h1v1h-1zM26 11h1v1h-1zM26 16h1v1h-1zM26 31h1v1h-1zM27 2h1v1h-1zM27 3h1v1h-1zM27 6h1v1h-1zM27 7h1v1h-1zM27 25h1v1h-1zM28 11h1v1h-1zM28 17h1v1h-1zM28 24h1v1h-1zM29 8h1v1h-1zM29 9h1v1h-1zM29 11h1v1h-1zM29 28h1v1h-1zM30 4h1v1h-1zM30 11h1v1h-1zM30 23h1v1h-1zM30 24h1v1h-1zM30 29h1v1h-1zM30 32h1v1h-1zM31 23h1v1h-1zM32 1h1v1h-1zM32 5h1v1h-1zM32 11h1v1h-1zM32 23h1v1h-1zM33 16h1v1h-1zM33 21h1v1h-1zM33 22h1v1h-1zM34 21h1v1h-1zM35 5h1v1h-1zM35 7h1v1h-1zM35 26h1v1h-1zM36 8h1v1h-1zM36 29h1v1h-1zM37 3h1v1h-1zM37 7h1v1h-1zM37 30h1v1h-1zM37 32h1v1h-1zM38 3h1v1h-1zM38 20h1v1h-1zM38 32h1v1h-1zM39 0h1v1h-1zM39 4h1v1h-1zM39 6h1v1h-1zM39 30h1v1h-1zM40 1h1v1h-1zM40 9h1v1h-1zM40 20h1v1h-1zM40 30h1v1h-1zM41 27h1v1h-1zM42 1h1v1h-1zM48 10h1v1h-1zM48 13h1v1h-1zM48 21h1v1h-1zM48 29h1v1h-1zM49 0h1v1h-1zM49 2h1v1h-1zM49 6h1v1h-1zM49 19h1v1h-1zM50 0h1v1h-1zM50 4h1v1h-1zM50 20h1v1h-1zM50 26h1v1h-1zM50 28h1v1h-1zM51 5h1v1h-1zM51 10h1v1h-1zM51 12h1v1h-1zM51 23h1v1h-1zM51 29h1v1h-1zM52 5h1v1h-1zM52 7h1v1h-1zM52 22h1v1h-1zM52 29h1v1h-1zM52 31h1v1h-1zM53 19h1v1h-1zM53 28h1v1h-1zM53 32h1v1h-1zM54 4h1v1h-1zM54 8h1v1h-1zM54 10h1v1h-1zM54 24h1v1h-1zM54 25h1v1h-1zM54 26h1v1h-1zM55 1h1v1h-1zM55 4h1v1h-1zM55 6h1v1h-1zM56 26h1v1h-1zM56 27h1v1h-1zM57 2h1v1h-1zM58 6h1v1h-1zM58 20h1v1h-1zM58 21h1v1h-1zM59 19h1v1h-1zM59 25h1v1h-1zM59 28h1v1h-1zM59 32h1v1h-1zM60 0h1v1h-1zM60 28h1v1h-1zM60 29h1v1h-1zM61 4h1v1h-1zM61 21h1v1h-1zM61 24h1v1h-1zM62 3h1v1h-1zM62 5h1v1h-1zM63 7h1v1h-1zM63 22h1v1h-1zM63 31h1v1h-1zM64 6h1v1h-1zM64 28h1v1h-1zM64 31h1v1h-1zM64 32h1v1h-1zM65 4h1v1h-1zM65 5h1v1h-1zM65 6h1v1h-1zM65 14h1v1h-1zM65 20h1v1h-1zM65 25h1v1h-1zM65 28h1v1h-1zM65 29h1v1h-1zM65 32h1v1h-1zM66 4h1v1h-1zM66 24h1v1h-1zM67 1h1v1h-1zM67 5h1v1h-1zM68 13h1v1h-1zM68 19h1v1h-1zM68 20h1v1h-1zM68 29h1v1h-1zM69 2h1v1h-1zM69 4h1v1h-1zM69 28h1v1h-1zM69 32h1v1h-1zM70 4h1v1h-1zM70 6h1v1h-1zM70 20h1v1h-1zM71 6h1v1h-1zM71 14h1v1h-1zM71 20h1v1h-1zM72 0h1v1h-1zM72 28h1v1h-1zM73 16h1v1h-1zM73 20h1v1h-1zM73 23h1v1h-1zM73 28h1v1h-1zM74 13h1v1h-1zM74 15h1v1h-1zM74 16h1v1h-1zM74 20h1v1h-1zM74 31h1v1h-1zM76 12h1v1h-1zM76 14h1v1h-1zM76 17h1v1h-1zM76 25h1v1h-1zM76 29h1v1h-1zM76 32h1v1h-1zM77 16h1v1h-1zM77 19h1v1h-1zM78 12h1v1h-1zM78 15h1v1h-1zM78 21h1v1h-1zM78 24h1v1h-1zM78 30h1v1h-1zM79 16h1v1h-1zM79 25h1v1h-1zM79 27h1v1h-1zM79 28h1v1h-1zM80 26h1v1h-1zM80 28h1v1h-1zM81 4h1v1h-1zM81 27h1v1h-1zM82 12h1v1h-1zM82 14h1v1h-1zM82 23h1v1h-1zM82 32h1v1h-1zM83 6h1v1h-1zM83 12h1v1h-1zM83 25h1v1h-1zM84 6h1v1h-1zM84 7h1v1h-1zM85 12h1v1h-1zM85 14h1v1h-1zM85 27h1v1h-1zM86 3h1v1h-1zM86 12h1v1h-1zM86 16h1v1h-1zM86 24h1v1h-1zM86 28h1v1h-1zM87 6h1v1h-1zM87 12h1v1h-1zM87 13h1v1h-1zM87 27h1v1h-1zM87 31h1v1h-1zM88 18h1v1h-1zM88 26h1v1h-1zM88 28h1v1h-1zM88 29h1v1h-1zM88 32h1v1h-1zM89 28h1v1h-1zM89 31h1v1h-1zM90 11h1v1h-1zM90 25h1v1h-1z"/>
<path fill="#0080ff" d="M0 3h1v1h-1zM0 4h1v1h-1zM0 18h1v1h-1zM0 31h1v1h-1zM1 25h1v1h-1zM2 13h1v1h-1zM2 27h1v1h-1zM2 32h1v1h-1zM3 13h1v1h-1zM4 5h1v1h-1zM4 14h1v1h-1zM4 16h1v1h-1zM4 25h1v1h-1zM4 28h1v1h-1zM4 32h1v1h-1zM5 20h1v1h-1zM5 21h1v1h-1zM5 32h1v1h-1zM6 2h1v1h-1zM6 14h1v1h-1zM6 18h1v1h-1zM6 31h1v1h-1zM7 2h1v1h-1zM7 5h1v1h-1zM7 6h1v1h-1zM7 29h1v1h-1zM7 30h1v1h-1zM9 1h1v1h-1zM9 17h1v1h-1zM11 0h1v1h-1zM11 7h1v1h-1zM11 19h1v1h-1zM11 20h1v1h-1zM12 12h1v1h-1zM12 14h1v1h-1zM12 16h1v1h-1zM12 28h1v1h-1zM13 16h1v1h-1zM13 20h1v1h-1zM14 32h1v1h-1zM16 27h1v1h-1zM17 0h1v1h-1zM17 7h1v1h-1zM17 29h1v1h-1zM18 1h1v1h-1zM18 3h1v1h-1zM18 4h1v1h-1zM18 28h1v1h-1zM19 7h1v1h-1zM19 16h1v1h-1zM19 17h1v1h-1zM19 19h1v1h-1zM19 20h1v1h-1zM19 27h1v1h-1zM20 20h1v1h-1zM20 27h1v1h-1zM20 29h1v1h-1zM21 4h1v1h-1zM21 19h1v1h-1zM21 20h1v1h-1zM21 32h1v1h-1zM22 7h1v1h-1zM22 8h1v1h-1zM22 29h1v1h-1zM23 31h1v1h-1zM24 17h1v1h-1zM24 26h1v1h-1zM24 27h1v1h-1zM24 28h1v1h-1zM24 30h1v1h-1zM25 5h1v1h-1zM25 25h1v1h-1zM25 30h1v1h-1zM26 5h1v1h-1zM26 18h1v1h-1zM27 30h1v1h-1zM27 31h1v1h-1zM28 10h1v1h-1zM29 1h1v1h-1zM29 7h1v1h-1zM29 27h1v1h-1zM29 29h1v1h-1zM30 1h1v1h-1zM30 3h1v1h-1zM30 26h1v1h-1zM31 0h1v1h-1zM31 2h1v1h-1zM31 4h1v1h-1zM31 11h1v1h-1zM31 22h1v1h-1zM31 25h1v1h-1zM31 26h1v1h-1zM32 3h1v1h-1zM32 24h1v1h-1zM32 30h1v1h-1zM32 31h1v1h-1zM33 6h1v1h-1zM33 29h1v1h-1zM34 3h1v1h-1zM34 4h1v1h-1zM34 10h1v1h-1zM34 31h1v1h-1zM35 9h1v1h-1zM35 27h1v1h-1zM35 28h1v1h-1zM35 29h1v1h-1zM36 4h1v1h-1zM36 25h1v1h-1zM36 30h1v1h-1zM37 8h1v1h-1zM37 11h1v1h-1zM38 0h1v1h-1zM38 2h1v1h-1zM38 6h1v1h-1zM38 26h1v1h-1zM39 7h1v1h-1zM40 21h1v1h-1zM40 23h1v1h-1zM41 5h1v1h-1zM41 8h1v1h-1zM41 9h1v1h-1zM41 30h1v1h-1zM42 4h1v1h-1zM42 6h1v1h-1zM42 7h1v1h-1zM48 18h1v1h-1zM48 27h1v1h-1zM48 28h1v1h-1zM48 32h1v1h-1zM49 5h1v1h-1zM50 1h1v1h-1zM50 2h1v1h-1zM50 6h1v1h-1zM50 8h1v1h-1zM50 13h1v1h-1zM51 6h1v1h-1zM51 7h1v1h-1zM52 2h1v1h-1zM52 8h1v1h-1zM52 25h1v1h-1zM52 27h1v1h-1zM52 28h1v1h-1zM53 1h1v1h-1zM53 2h1v1h-1zM53 5h1v1h-1zM53 6h1v1h-1zM53 7h1v1h-1zM53 27h1v1h-1zM53 29h1v1h-1zM55 0h1v1h-1zM56 4h1v1h-1zM56 20h1v1h-1zM56 30h1v1h-1zM57 3h1v1h-1zM57 24h1v1h-1zM58 2h1v1h-1zM58 23h1v1h-1zM58 28h1v1h-1zM59 1h1v1h-1zM59 6h1v1h-1zM59 7h1v1h-1zM59 8h1v1h-1zM59 11h1v1h-1zM59 21h1v1h-1zM60 1h1v1h-1zM60 22h1v1h-1zM60 25h1v1h-1zM60 30h1v1h-1zM61 25h1v1h-1zM61 28h1v1h-1zM62 2h1v1h-1zM62 6h1v1h-1zM62 7h1v1h-1zM62 25h1v1h-1zM62 28h1v1h-1zM62 29h1v1h-1zM63 2h1v1h-1zM63 3h1v1h-1zM63 26h1v1h-1zM63 28h1v1h-1zM64 0h1v1h-1zM64 24h1v1h-1zM64 27h1v1h-1zM64 29h1v1h-1zM65 30h1v1h-1zM66 2h1v1h-1zM67 0h1v1h-1zM67 4h1v1h-1zM68 31h1v1h-1zM69 5h1v1h-1zM69 20h1v1h-1zM69 27h1v1h-1zM69 30h1v1h-1zM70 5h1v1h-1zM70 28h1v1h-1zM71 0h1v1h-1zM71 3h1v1h-1zM71 23h1v1h-1zM72 6h1v1h-1zM72 13h1v1h-1zM72 15h1v1h-1zM72 27h1v1h-1zM72 31h1v1h-1zM73 4h1v1h-1zM73 14h1v1h-1zM74 4h1v1h-1zM74 7h1v1h-1zM74 26h1v1h-1zM74 28h1v1h-1zM76 21h1v1h-1zM76 30h1v1h-1zM77 2h1v1h-1zM77 4h1v1h-1zM77 12h1v1h-1zM77 24h1v1h-1zM77 27h1v1h-1zM78 2h1v1h-1zM78 13h1v1h-1zM78 20h1v1h-1zM78 27h1v1h-1zM79 3h1v1h-1zM79 4h1v1h-1zM79 12h1v1h-1zM80 0h1v1h-1zM80 5h1v1h-1zM80 29h1v1h-1zM81 16h1v1h-1zM81 24h1v1h-1zM82 15h1v1h-1zM82 25h1v1h-1zM82 26h1v1h-1zM82 28h1v1h-1zM82 30h1v1h-1zM82 31h1v1h-1zM83 29h1v1h-1zM85 5h1v1h-1zM85 13h1v1h-1zM86 0h1v1h-1zM86 1h1v1h-1zM86 15h1v1h-1zM87 0h1v1h-1zM87 24h1v1h-1zM88 0h1v1h-1zM88 3h1v1h-1zM89 2h1v1h-1zM89 5h1v1h-1zM89 19h1v1h-1zM90 29h1v1h-1z"/>
<path fill="#00aaff" d="M0 5h1v1h-1zM0 15h1v1h-1zM0 16h1v1h-1zM0 19h1v1h-1zM0 32h1v1h-1zM1 1h1v1h-1zM1 3h1v1h-1zM1 29h1v1h-1zM1 30h1v1h-1zM2 1h1v1h-1zM2 2h1v1h-1zM2 3h1v1h-1zM2 18h1v1h-1zM2 26h1v1h-1zM2 28h1v1h-1zM3 15h1v1h-1zM3 16h1v1h-1zM3 30h1v1h-1zM4 2h1v1h-1zM4 26h1v1h-1zM5 1h1v1h-1zM5 16h1v1h-1zM5 17h1v1h-1zM6 0h1v1h-1zM6 1h1v1h-1zM6 3h1v1h-1zM6 4h1v1h-1zM6 21h1v1h-1zM6 26h1v1h-1zM7 4h1v1h-1zM7 16h1v1h-1zM7 17h1v1h-1zM8 7h1v1h-1zM8 30h1v1h-1zM9 2h1v1h-1zM9 3h1v1h-1zM9 8h1v1h-1zM9 27h1v1h-1zM9 29h1v1h-1zM10 11h1v1h-1zM10 16h1v1h-1zM10 20h1v1h-1zM11 16h1v1h-1zM11 29h1v1h-1zM11 30h1v1h-1zM12 0h1v1h-1zM12 1h1v1h-1zM12 21h1v1h-1zM12 26h1v1h-1zM12 27h1v1h-1zM13 3h1v1h-1zM13 30h1v1h-1zM14 2h1v1h-1zM14 3h1v1h-1zM14 20h1v1h-1zM14 31h1v1h-1zM16 15h1v1h-1zM16 19h1v1h-1zM16 20h1v1h-1zM17 6h1v1h-1zM17 13h1v1h-1zM18 8h1v1h-1zM19 12h1v1h-1zM19 13h1v1h-1zM19 30h1v1h-1zM20 1h1v1h-1zM20 26h1v1h-1zM21 0h1v1h-1zM21 12h1v1h-1zM21 13h1v1h-1zM22 0h1v1h-1zM22 2h1v1h-1zM22 3h1v1h-1zM22 16h1v1h-1zM22 18h1v1h-1zM22 27h1v1h-1zM22 32h1v1h-1zM23 15h1v1h-1zM24 2h1v1h-1zM25 2h1v1h-1zM25 9h1v1h-1zM25 31h1v1h-1zM25 32h1v1h-1zM26 0h1v1h-1zM26 1h1v1h-1zM26 10h1v1h-1zM26 29h1v1h-1zM27 5h1v1h-1zM27 9h1v1h-1zM27 10h1v1h-1zM27 19h1v1h-1zM27 26h1v1h-1zM28 8h1v1h-1zM28 13h1v1h-1zM28 25h1v1h-1zM28 32h1v1h-1zM29 2h1v1h-1zM29 10h1v1h-1zM29 25h1v1h-1zM30 6h1v1h-1zM30 7h1v1h-1zM30 30h1v1h-1zM30 31h1v1h-1zM31 5h1v1h-1zM31 6h1v1h-1zM31 31h1v1h-1zM32 4h1v1h-1zM32 26h1v1h-1zM32 27h1v1h-1zM33 1h1v1h-1zM33 7h1v1h-1zM33 11h1v1h-1zM34 2h1v1h-1zM34 26h1v1h-1zM35 0h1v1h-1zM35 4h1v1h-1zM35 12h1v1h-1zM35 30h1v1h-1zM35 31h1v1h-1zM35 32h1v1h-1zM37 1h1v1h-1zM37 2h1v1h-1zM37 6h1v1h-1zM37 9h1v1h-1zM37 13h1v1h-1zM37 23h1v1h-1zM38 4h1v1h-1zM38 5h1v1h-1zM38 13h1v1h-1zM39 8h1v1h-1zM39 10h1v1h-1zM39 31h1v1h-1zM40 0h1v1h-1zM40 11h1v1h-1zM40 13h1v1h-1zM40 19h1v1h-1zM40 28h1v1h-1zM41 4h1v1h-1zM41 7h1v1h-1zM41 10h1v1h-1zM41 21h1v1h-1zM41 23h1v1h-1zM41 29h1v1h-1zM41 31h1v1h-1zM41 32h1v1h-1zM42 11h1v1h-1zM42 21h1v1h-1zM42 27h1v1h-1zM42 30h1v1h-1zM48 2h1v1h-1zM48 6h1v1h-1zM48 8h1v1h-1zM48 11h1v1h-1zM48 25h1v1h-1zM49 7h1v1h-1zM49 13h1v1h-1zM49 26h1v1h-1zM49 30h1v1h-1zM50 5h1v1h-1zM50 7h1v1h-1zM50 10h1v1h-1zM50 22h1v1h-1zM50 29h1v1h-1zM50 30h1v1h-1zM51 1h1v1h-1zM51 8h1v1h-1zM51 25h1v1h-1zM52 11h1v1h-1zM52 12h1v1h-1zM52 20h1v1h-1zM53 20h1v1h-1zM53 31h1v1h-1zM54 2h1v1h-1zM54 5h1v1h-1zM54 12h1v1h-1zM54 23h1v1h-1zM54 32h1v1h-1zM55 3h1v1h-1zM55 10h1v1h-1zM55 11h1v1h-1zM55 20h1v1h-1zM55 21h1v1h-1zM55 29h1v1h-1zM56 5h1v1h-1zM56 7h1v1h-1zM56 9h1v1h-1zM56 24h1v1h-1zM56 28h1v1h-1zM56 32h1v1h-1zM57 1h1v1h-1zM57 8h1v1h-1zM57 10h1v1h-1zM57 22h1v1h-1zM58 0h1v1h-1zM58 11h1v1h-1zM58 30h1v1h-1zM59 5h1v1h-1zM59 9h1v1h-1zM59 27h1v1h-1zM60 3h1v1h-1zM60 7h1v1h-1zM60 32h1v1h-1zM61 6h1v1h-1zM61 7h1v1h-1zM61 30h1v1h-1zM61 32h1v1h-1zM62 0h1v1h-1zM62 4h1v1h-1zM65 0h1v1h-1zM65 1h1v1h-1zM65 2h1v1h-1zM65 22h1v1h-1zM66 13h1v1h-1zM66 30h1v1h-1zM68 0h1v1h-1zM68 3h1v1h-1zM68 7h1v1h-1zM68 25h1v1h-1zM68 26h1v1h-1zM69 0h1v1h-1zM69 6h1v1h-1zM69 13h1v1h-1zM69 14h1v1h-1zM69 24h1v1h-1zM70 14h1v1h-1zM70 31h1v1h-1zM71 1h1v1h-1zM71 2h1v1h-1zM71 13h1v1h-1zM71 25h1v1h-1zM72 14h1v1h-1zM72 16h1v1h-1zM72 26h1v1h-1zM73 26h1v1h-1zM73 29h1v1h-1zM73 31h1v1h-1zM73 32h1v1h-1zM74 27h1v1h-1zM74 29h1v1h-1zM74 30h1v1h-1zM76 4h1v1h-1zM76 19h1v1h-1zM77 1h1v1h-1zM77 6h1v1h-1zM77 14h1v1h-1zM77 18h1v1h-1zM77 20h1v1h-1zM77 25h1v1h-1zM77 30h1v1h-1zM78 0h1v1h-1zM78 1h1v1h-1zM78 26h1v1h-1zM79 0h1v1h-1zM79 1h1v1h-1zM79 13h1v1h-1zM79 21h1v1h-1zM79 29h1v1h-1zM79 30h1v1h-1zM80 27h1v1h-1zM80 32h1v1h-1zM81 13h1v1h-1zM82 6h1v1h-1zM82 13h1v1h-1zM82 16h1v1h-1zM82 21h1v1h-1zM83 21h1v1h-1zM83 27h1v1h-1zM83 28h1v1h-1zM84 4h1v1h-1zM85 4h1v1h-1zM85 15h1v1h-1zM85 20h1v1h-1zM85 21h1v1h-1zM85 25h1v1h-1zM85 30h1v1h-1zM86 4h1v1h-1zM86 5h1v1h-1zM86 7h1v1h-1zM86 26h1v1h-1zM86 29h1v1h-1zM87 29h1v1h-1zM88 1h1v1h-1zM88 5h1v1h-1zM88 13h1v1h-1zM88 24h1v1h-1zM88 31h1v1h-1zM89 7h1v1h-1zM89 18h1v1h-1zM89 26h1v1h-1zM89 27h1v1h-1zM89 29h1v1h-1zM90 27h1v1h-1z"/>
<path fill="#000080" d="M0 6h1v1h-1zM5 3h1v1h-1zM11 28h1v1h-1zM20 7h1v1h-1zM21 29h1v1h-1zM21 31h1v1h-1zM24 31h1v1h-1zM28 1h1v1h-1zM28 3h1v1h-1zM31 24h1v1h-1zM33 2h1v1h-1zM33 23h1v1h-1zM33 25h1v1h-1zM33 28h1v1h-1zM33 30h1v1h-1zM33 32h1v1h-1zM38 30h1v1h-1zM43 3h1v1h-1zM43 22h1v1h-1zM44 0h1v1h-1zM44 16h1v1h-1zM44 21h1v1h-1zM44 28h1v1h-1zM45 5h1v1h-1zM45 13h1v1h-1zM45 25h1v1h-1zM46 7h1v1h-1zM46 9h1v1h-1zM46 14h1v1h-1zM46 16h1v1h-1zM46 29h1v1h-1zM47 2h1v1h-1zM48 20h1v1h-1zM48 26h1v1h-1zM49 25h1v1h-1zM51 26h1v1h-1zM52 0h1v1h-1zM53 0h1v1h-1zM53 24h1v1h-1zM56 22h1v1h-1zM57 29h1v1h-1zM58 22h1v1h-1zM58 27h1v1h-1zM58 31h1v1h-1zM60 23h1v1h-1zM63 23h1v1h-1zM68 6h1v1h-1zM70 25h1v1h-1zM72 4h1v1h-1zM73 30h1v1h-1zM84 2h1v1h-1zM84 3h1v1h-1zM86 31h1v1h-1z"/>
<path fill="#9eff59" d="M0 8h1v1h-1zM0 20h1v1h-1zM1 9h1v1h-1zM1 19h1v1h-1zM2 9h1v1h-1zM3 10h1v1h-1zM4 11h1v1h-1zM6 10h1v1h-1zM6 11h1v1h-1zM6 24h1v1h-1zM8 8h1v1h-1zM8 9h1v1h-1zM9 9h1v1h-1zM9 12h1v1h-1zM9 15h1v1h-1zM10 6h1v1h-1zM10 9h1v1h-1zM11 10h1v1h-1zM11 24h1v1h-1zM12 9h1v1h-1zM12 24h1v1h-1zM13 13h1v1h-1zM13 25h1v1h-1zM14 24h1v1h-1zM14 25h1v1h-1zM14 26h1v1h-1zM17 11h1v1h-1zM17 19h1v1h-1zM18 15h1v1h-1zM20 14h1v1h-1zM20 18h1v1h-1zM21 14h1v1h-1zM22 24h1v1h-1zM22 25h1v1h-1zM23 5h1v1h-1zM23 14h1v1h-1zM27 23h1v1h-1zM27 24h1v1h-1zM28 14h1v1h-1zM28 16h1v1h-1zM29 18h1v1h-1zM29 32h1v1h-1zM30 16h1v1h-1zM30 19h1v1h-1zM31 13h1v1h-1zM32 9h1v1h-1zM34 23h1v1h-1zM35 14h1v1h-1zM35 18h1v1h-1zM36 10h1v1h-1zM36 11h1v1h-1zM36 16h1v1h-1zM36 20h1v1h-1zM37 14h1v1h-1zM42 19h1v1h-1zM49 17h1v1h-1zM50 17h1v1h-1zM51 17h1v1h-1zM52 19h1v1h-1zM53 17h1v1h-1zM55 30h1v1h-1zM56 0h1v1h-1zM56 1h1v1h-1zM56 17h1v1h-1zM57 20h1v1h-1zM58 12h1v1h-1zM58 18h1v1h-1zM59 16h1v1h-1zM60 6h1v1h-1zM60 11h1v1h-1zM60 18h1v1h-1zM61 20h1v1h-1zM62 15h1v1h-1zM62 16h1v1h-1zM62 17h1v1h-1zM62 20h1v1h-1zM62 21h1v1h-1zM62 32h1v1h-1zM63 14h1v1h-1zM63 18h1v1h-1zM63 20h1v1h-1zM64 14h1v1h-1zM65 17h1v1h-1zM66 12h1v1h-1zM66 16h1v1h-1zM66 22h1v1h-1zM67 14h1v1h-1zM67 15h1v1h-1zM67 17h1v1h-1zM67 18h1v1h-1zM68 18h1v1h-1zM69 12h1v1h-1zM69 18h1v1h-1zM71 8h1v1h-1zM71 17h1v1h-1zM71 18h1v1h-1zM72 8h1v1h-1zM72 32h1v1h-1zM74 21h1v1h-1zM74 23h1v1h-1zM76 22h1v1h-1zM77 26h1v1h-1zM77 32h1v1h-1zM78 23h1v1h-1zM79 8h1v1h-1zM79 22h1v1h-1zM80 14h1v1h-1zM80 16h1v1h-1zM82 10h1v1h-1zM82 22h1v1h-1zM83 2h1v1h-1zM83 13h1v1h-1zM83 15h1v1h-1zM83 18h1v1h-1zM84 8h1v1h-1zM84 26h1v1h-1zM85 23h1v1h-1zM86 20h1v1h-1zM87 10h1v1h-1zM87 17h1v1h-1zM87 19h1v1h-1zM88 8h1v1h-1zM88 10h1v1h-1zM88 17h1v1h-1zM89 13h1v1h-1zM89 15h1v1h-1zM90 5h1v1h-1zM90 21h1v1h-1zM90 26h1v1h-1z"/>
<path fill="#ffe600" d="M0 9h1v1h-1zM1 17h1v1h-1zM1 24h1v1h-1zM2 8h1v1h-1zM2 11h1v1h-1zM3 8h1v1h-1zM3 9h1v1h-1zM3 12h1v1h-1zM4 23h1v1h-1zM7 22h1v1h-1zM10 22h1v1h-1zM12 22h1v1h-1zM13 24h1v1h-1zM15 3h1v1h-1zM15 5h1v1h-1zM15 8h1v1h-1zM15 9h1v1h-1zM15 10h1v1h-1zM15 30h1v1h-1zM18 10h1v1h-1zM19 10h1v1h-1zM21 22h1v1h-1zM21 23h1v1h-1zM25 14h1v1h-1zM25 22h1v1h-1zM27 14h1v1h-1zM27 16h1v1h-1zM29 19h1v1h-1zM30 14h1v1h-1zM31 20h1v1h-1zM32 15h1v1h-1zM32 20h1v1h-1zM34 18h1v1h-1zM36 13h1v1h-1zM39 14h1v1h-1zM39 17h1v1h-1zM50 14h1v1h-1zM52 15h1v1h-1zM55 13h1v1h-1zM55 17h1v1h-1zM59 12h1v1h-1zM59 14h1v1h-1zM59 17h1v1h-1zM60 12h1v1h-1zM60 13h1v1h-1zM60 14h1v1h-1zM60 15h1v1h-1zM63 10h1v1h-1zM64 10h1v1h-1zM64 21h1v1h-1zM65 18h1v1h-1zM66 14h1v1h-1zM68 9h1v1h-1zM68 17h1v1h-1zM70 21h1v1h-1zM73 22h1v1h-1zM74 8h1v1h-1zM74 9h1v1h-1zM75 26h1v1h-1zM75 28h1v1h-1zM77 8h1v1h-1zM78 22h1v1h-1zM87 8h1v1h-1zM90 8h1v1h-1zM90 17h1v1h-1z"/>
<path fill="#e2ff15" d="M0 10h1v1h-1zM1 11h1v1h-1zM1 13h1v1h-1zM2 12h1v1h-1zM2 22h1v1h-1zM2 24h1v1h-1zM4 24h1v1h-1zM7 18h1v1h-1zM7 19h1v1h-1zM10 24h1v1h-1zM10 25h1v1h-1zM14 10h1v1h-1zM15 4h1v1h-1zM15 6h1v1h-1zM15 7h1v1h-1zM15 32h1v1h-1zM17 10h1v1h-1zM17 21h1v1h-1zM17 24h1v1h-1zM19 21h1v1h-1zM20 23h1v1h-1zM21 21h1v1h-1zM22 22h1v1h-1zM23 13h1v1h-1zM25 21h1v1h-1zM26 20h1v1h-1zM26 22h1v1h-1zM26 23h1v1h-1zM29 14h1v1h-1zM31 16h1v1h-1zM32 16h1v1h-1zM32 18h1v1h-1zM35 15h1v1h-1zM36 14h1v1h-1zM36 15h1v1h-1zM36 19h1v1h-1zM37 15h1v1h-1zM37 19h1v1h-1zM38 15h1v1h-1zM42 18h1v1h-1zM49 14h1v1h-1zM49 18h1v1h-1zM54 15h1v1h-1zM54 18h1v1h-1zM56 14h1v1h-1zM57 19h1v1h-1zM61 9h1v1h-1zM62 9h1v1h-1zM62 13h1v1h-1zM64 8h1v1h-1zM64 15h1v1h-1zM65 13h1v1h-1zM66 10h1v1h-1zM66 19h1v1h-1zM66 21h1v1h-1zM67 12h1v1h-1zM67 21h1v1h-1zM70 16h1v1h-1zM70 17h1v1h-1zM71 11h1v1h-1zM72 9h1v1h-1zM73 11h1v1h-1zM74 18h1v1h-1zM74 22h1v1h-1zM75 23h1v1h-1zM75 27h1v1h-1zM75 29h1v1h-1zM75 31h1v1h-1zM75 32h1v1h-1zM78 14h1v1h-1zM79 9h1v1h-1zM80 8h1v1h-1zM80 11h1v1h-1zM80 22h1v1h-1zM81 8h1v1h-1zM81 9h1v1h-1zM81 22h1v1h-1zM81 23h1v1h-1zM84 11h1v1h-1zM85 9h1v1h-1zM86 21h1v1h-1zM86 23h1v1h-1zM89 24h1v1h-1zM90 0h1v1h-1zM90 13h1v1h-1zM90 16h1v1h-1zM90 30h1v1h-1z"/>
<path fill="#c0ff37" d="M0 11h1v1h-1zM1 16h1v1h-1zM1 18h1v1h-1zM1 21h1v1h-1zM1 22h1v1h-1zM2 10h1v1h-1zM3 11h1v1h-1zM3 24h1v1h-1zM4 9h1v1h-1zM5 8h1v1h-1zM7 24h1v1h-1zM9 21h1v1h-1zM10 1h1v1h-1zM10 10h1v1h-1zM10 12h1v1h-1zM10 23h1v1h-1zM11 9h1v1h-1zM13 10h1v1h-1zM13 26h1v1h-1zM14 21h1v1h-1zM15 1h1v1h-1zM16 10h1v1h-1zM16 21h1v1h-1zM17 14h1v1h-1zM17 25h1v1h-1zM20 10h1v1h-1zM20 16h1v1h-1zM22 20h1v1h-1zM23 20h1v1h-1zM23 24h1v1h-1zM24 11h1v1h-1zM24 20h1v1h-1zM24 21h1v1h-1zM24 23h1v1h-1zM25 12h1v1h-1zM25 13h1v1h-1zM25 20h1v1h-1zM26 12h1v1h-1zM26 14h1v1h-1zM27 21h1v1h-1zM29 15h1v1h-1zM30 17h1v1h-1zM30 22h1v1h-1zM31 18h1v1h-1zM32 17h1v1h-1zM32 21h1v1h-1zM34 13h1v1h-1zM34 15h1v1h-1zM35 13h1v1h-1zM35 16h1v1h-1zM35 19h1v1h-1zM37 17h1v1h-1zM40 16h1v1h-1zM41 18h1v1h-1zM52 17h1v1h-1zM53 16h1v1h-1zM54 13h1v1h-1zM55 16h1v1h-1zM55 18h1v1h-1zM58 16h1v1h-1zM59 15h1v1h-1zM60 9h1v1h-1zM60 10h1v1h-1zM61 18h1v1h-1zM62 10h1v1h-1zM63 9h1v1h-1zM63 15h1v1h-1zM63 21h1v1h-1zM65 8h1v1h-1zM65 21h1v1h-1zM66 8h1v1h-1zM69 10h1v1h-1zM69 21h1v1h-1zM70 15h1v1h-1zM70 22h1v1h-1zM72 22h1v1h-1zM77 10h1v1h-1zM77 22h1v1h-1zM78 11h1v1h-1zM80 23h1v1h-1zM83 7h1v1h-1zM83 14h1v1h-1zM84 24h1v1h-1zM85 19h1v1h-1zM86 25h1v1h-1zM88 23h1v1h-1zM88 25h1v1h-1zM90 22h1v1h-1z"/>
<path fill="#15ffe2" d="M0 12h1v1h-1zM0 13h1v1h-1zM0 17h1v1h-1zM0 30h1v1h-1zM1 0h1v1h-1zM1 7h1v1h-1zM1 26h1v1h-1zM1 27h1v1h-1zM2 0h1v1h-1zM2 5h1v1h-1zM2 6h1v1h-1zM2 16h1v1h-1zM2 25h1v1h-1zM3 3h1v1h-1zM3 32h1v1h-1zM4 10h1v1h-1zM4 12h1v1h-1zM4 15h1v1h-1zM4 20h1v1h-1zM5 22h1v1h-1zM5 30h1v1h-1zM5 31h1v1h-1zM6 5h1v1h-1zM6 7h1v1h-1zM6 8h1v1h-1zM6 25h1v1h-1zM6 29h1v1h-1zM7 15h1v1h-1zM7 25h1v1h-1zM8 2h1v1h-1zM8 3h1v1h-1zM8 12h1v1h-1zM8 14h1v1h-1zM8 18h1v1h-1zM8 24h1v1h-1zM9 4h1v1h-1zM9 16h1v1h-1zM10 14h1v1h-1zM10 15h1v1h-1zM10 32h1v1h-1zM11 3h1v1h-1zM11 5h1v1h-1zM11 15h1v1h-1zM11 26h1v1h-1zM12 3h1v1h-1zM12 4h1v1h-1zM13 4h1v1h-1zM13 5h1v1h-1zM13 27h1v1h-1zM14 9h1v1h-1zM14 13h1v1h-1zM14 30h1v1h-1zM16 1h1v1h-1zM16 13h1v1h-1zM16 14h1v1h-1zM16 18h1v1h-1zM16 26h1v1h-1zM17 4h1v1h-1zM17 8h1v1h-1zM17 20h1v1h-1zM18 5h1v1h-1zM18 32h1v1h-1zM19 6h1v1h-1zM19 9h1v1h-1zM20 12h1v1h-1zM20 17h1v1h-1zM20 19h1v1h-1zM20 32h1v1h-1zM21 1h1v1h-1zM21 6h1v1h-1zM21 7h1v1h-1zM21 9h1v1h-1zM21 11h1v1h-1zM22 10h1v1h-1zM22 13h1v1h-1zM22 19h1v1h-1zM23 4h1v1h-1zM23 8h1v1h-1zM23 25h1v1h-1zM23 32h1v1h-1zM24 14h1v1h-1zM25 0h1v1h-1zM25 10h1v1h-1zM25 16h1v1h-1zM26 13h1v1h-1zM26 30h1v1h-1zM27 1h1v1h-1zM27 32h1v1h-1zM29 12h1v1h-1zM29 22h1v1h-1zM30 5h1v1h-1zM31 8h1v1h-1zM32 6h1v1h-1zM32 7h1v1h-1zM32 8h1v1h-1zM32 10h1v1h-1zM32 25h1v1h-1zM33 0h1v1h-1zM33 9h1v1h-1zM33 18h1v1h-1zM34 6h1v1h-1zM34 7h1v1h-1zM34 8h1v1h-1zM34 22h1v1h-1zM35 6h1v1h-1zM35 20h1v1h-1zM35 21h1v1h-1zM36 21h1v1h-1zM36 22h1v1h-1zM37 28h1v1h-1zM37 29h1v1h-1zM38 19h1v1h-1zM39 24h1v1h-1zM39 27h1v1h-1zM39 32h1v1h-1zM40 2h1v1h-1zM41 11h1v1h-1zM41 12h1v1h-1zM41 13h1v1h-1zM41 22h1v1h-1zM41 24h1v1h-1zM41 25h1v1h-1zM41 26h1v1h-1zM42 8h1v1h-1zM48 5h1v1h-1zM48 31h1v1h-1zM49 1h1v1h-1zM49 4h1v1h-1zM50 3h1v1h-1zM50 9h1v1h-1zM52 3h1v1h-1zM53 13h1v1h-1zM54 0h1v1h-1zM54 7h1v1h-1zM54 19h1v1h-1zM55 5h1v1h-1zM55 8h1v1h-1zM55 9h1v1h-1zM55 12h1v1h-1zM55 25h1v1h-1zM55 26h1v1h-1zM55 31h1v1h-1zM56 8h1v1h-1zM56 10h1v1h-1zM57 23h1v1h-1zM59 10h1v1h-1zM59 26h1v1h-1zM60 8h1v1h-1zM60 16h1v1h-1zM61 8h1v1h-1zM61 14h1v1h-1zM61 16h1v1h-1zM61 19h1v1h-1zM61 26h1v1h-1zM62 26h1v1h-1zM62 30h1v1h-1zM62 31h1v1h-1zM63 5h1v1h-1zM63 19h1v1h-1zM64 7h1v1h-1zM64 30h1v1h-1zM65 19h1v1h-1zM65 27h1v1h-1zM66 1h1v1h-1zM66 7h1v1h-1zM66 25h1v1h-1zM66 28h1v1h-1zM66 29h1v1h-1zM68 2h1v1h-1zM68 8h1v1h-1zM69 3h1v1h-1zM69 8h1v1h-1zM69 16h1v1h-1zM69 19h1v1h-1zM69 22h1v1h-1zM70 2h1v1h-1zM70 19h1v1h-1zM70 30h1v1h-1zM70 32h1v1h-1zM71 7h1v1h-1zM71 19h1v1h-1zM71 24h1v1h-1zM72 17h1v1h-1zM73 12h1v1h-1zM73 13h1v1h-1zM73 15h1v1h-1zM74 12h1v1h-1zM76 0h1v1h-1zM76 3h1v1h-1zM76 13h1v1h-1zM76 18h1v1h-1zM76 28h1v1h-1zM77 3h1v1h-1zM77 5h1v1h-1zM77 13h1v1h-1zM77 17h1v1h-1zM77 29h1v1h-1zM78 17h1v1h-1zM78 29h1v1h-1zM79 7h1v1h-1zM79 11h1v1h-1zM79 15h1v1h-1zM79 17h1v1h-1zM79 18h1v1h-1zM79 20h1v1h-1zM79 26h1v1h-1zM79 31h1v1h-1zM79 32h1v1h-1zM80 7h1v1h-1zM80 12h1v1h-1zM80 13h1v1h-1zM80 31h1v1h-1zM81 0h1v1h-1zM81 1h1v1h-1zM81 2h1v1h-1zM81 11h1v1h-1zM81 15h1v1h-1zM81 17h1v1h-1zM81 19h1v1h-1zM81 20h1v1h-1zM82 8h1v1h-1zM82 11h1v1h-1zM82 24h1v1h-1zM83 32h1v1h-1zM84 5h1v1h-1zM84 14h1v1h-1zM84 17h1v1h-1zM84 19h1v1h-1zM84 28h1v1h-1zM85 2h1v1h-1zM85 16h1v1h-1zM85 18h1v1h-1zM85 24h1v1h-1zM85 26h1v1h-1zM85 31h1v1h-1zM86 11h1v1h-1zM86 13h1v1h-1zM86 27h1v1h-1zM87 3h1v1h-1zM87 14h1v1h-1zM87 18h1v1h-1zM87 20h1v1h-1zM87 23h1v1h-1zM87 25h1v1h-1zM88 6h1v1h-1zM88 15h1v1h-1zM89 1h1v1h-1zM89 11h1v1h-1zM89 14h1v1h-1zM89 16h1v1h-1zM89 21h1v1h-1zM89 30h1v1h-1zM90 28h1v1h-1z"/>
<path fill="#59ff9e" d="M0 22h1v1h-1zM1 12h1v1h-1zM1 20h1v1h-1zM2 7h1v1h-1zM2 20h1v1h-1zM3 0h1v1h-1zM3 2h1v1h-1zM3 4h1v1h-1zM3 17h1v1h-1zM3 21h1v1h-1zM3 27h1v1h-1zM4 8h1v1h-1zM4 18h1v1h-1zM4 27h1v1h-1zM4 30h1v1h-1zM5 11h1v1h-1zM5 15h1v1h-1zM5 24h1v1h-1zM6 6h1v1h-1zM6 17h1v1h-1zM7 0h1v1h-1zM7 28h1v1h-1zM7 31h1v1h-1zM8 10h1v1h-1zM8 28h1v1h-1zM10 0h1v1h-1zM10 4h1v1h-1zM10 26h1v1h-1zM11 4h1v1h-1zM12 2h1v1h-1zM12 5h1v1h-1zM13 17h1v1h-1zM13 31h1v1h-1zM14 0h1v1h-1zM14 1h1v1h-1zM14 11h1v1h-1zM14 14h1v1h-1zM16 0h1v1h-1zM16 25h1v1h-1zM17 12h1v1h-1zM17 15h1v1h-1zM17 32h1v1h-1zM18 9h1v1h-1zM18 13h1v1h-1zM18 14h1v1h-1zM18 17h1v1h-1zM18 25h1v1h-1zM18 26h1v1h-1zM19 8h1v1h-1zM19 14h1v1h-1zM20 11h1v1h-1zM22 5h1v1h-1zM22 11h1v1h-1zM22 28h1v1h-1zM22 31h1v1h-1zM23 9h1v1h-1zM23 11h1v1h-1zM23 12h1v1h-1zM23 17h1v1h-1zM23 18h1v1h-1zM24 22h1v1h-1zM25 3h1v1h-1zM25 15h1v1h-1zM26 15h1v1h-1zM26 17h1v1h-1zM26 19h1v1h-1zM26 24h1v1h-1zM27 12h1v1h-1zM28 12h1v1h-1zM28 23h1v1h-1zM29 24h1v1h-1zM29 31h1v1h-1zM30 21h1v1h-1zM31 7h1v1h-1zM31 17h1v1h-1zM32 22h1v1h-1zM32 28h1v1h-1zM33 13h1v1h-1zM33 17h1v1h-1zM34 11h1v1h-1zM34 20h1v1h-1zM35 3h1v1h-1zM35 8h1v1h-1zM36 12h1v1h-1zM37 20h1v1h-1zM38 14h1v1h-1zM39 9h1v1h-1zM40 18h1v1h-1zM41 1h1v1h-1zM41 14h1v1h-1zM42 12h1v1h-1zM42 13h1v1h-1zM48 3h1v1h-1zM48 17h1v1h-1zM49 3h1v1h-1zM49 29h1v1h-1zM50 18h1v1h-1zM51 14h1v1h-1zM51 19h1v1h-1zM52 13h1v1h-1zM52 18h1v1h-1zM54 1h1v1h-1zM54 20h1v1h-1zM55 2h1v1h-1zM55 7h1v1h-1zM55 19h1v1h-1zM55 24h1v1h-1zM55 28h1v1h-1zM56 19h1v1h-1zM57 11h1v1h-1zM57 12h1v1h-1zM57 21h1v1h-1zM59 29h1v1h-1zM59 31h1v1h-1zM60 19h1v1h-1zM60 20h1v1h-1zM60 21h1v1h-1zM61 11h1v1h-1zM62 8h1v1h-1zM62 19h1v1h-1zM62 27h1v1h-1zM63 1h1v1h-1zM63 6h1v1h-1zM63 8h1v1h-1zM63 13h1v1h-1zM63 16h1v1h-1zM63 27h1v1h-1zM64 2h1v1h-1zM65 7h1v1h-1zM65 26h1v1h-1zM66 0h1v1h-1zM66 6h1v1h-1zM66 15h1v1h-1zM66 17h1v1h-1zM67 16h1v1h-1zM67 19h1v1h-1zM67 22h1v1h-1zM68 12h1v1h-1zM68 14h1v1h-1zM68 21h1v1h-1zM69 15h1v1h-1zM69 17h1v1h-1zM70 8h1v1h-1zM71 12h1v1h-1zM71 16h1v1h-1zM71 21h1v1h-1zM71 31h1v1h-1zM72 18h1v1h-1zM73 5h1v1h-1zM73 17h1v1h-1zM73 19h1v1h-1zM74 19h1v1h-1zM74 24h1v1h-1zM76 11h1v1h-1zM76 23h1v1h-1zM77 15h1v1h-1zM77 28h1v1h-1zM77 31h1v1h-1zM78 6h1v1h-1zM78 18h1v1h-1zM78 31h1v1h-1zM79 23h1v1h-1zM80 2h1v1h-1zM80 15h1v1h-1zM80 21h1v1h-1zM81 3h1v1h-1zM81 12h1v1h-1zM81 14h1v1h-1zM81 25h1v1h-1zM82 7h1v1h-1zM82 18h1v1h-1zM82 19h1v1h-1zM82 20h1v1h-1zM83 4h1v1h-1zM83 17h1v1h-1zM83 19h1v1h-1zM83 23h1v1h-1zM84 13h1v1h-1zM84 20h1v1h-1zM84 22h1v1h-1zM85 10h1v1h-1zM85 17h1v1h-1zM86 22h1v1h-1zM87 7h1v1h-1zM87 16h1v1h-1zM87 22h1v1h-1zM87 32h1v1h-1zM88 14h1v1h-1zM88 20h1v1h-1zM88 30h1v1h-1zM89 6h1v1h-1zM89 8h1v1h-1zM89 12h1v1h-1zM89 17h1v1h-1zM90 3h1v1h-1zM90 6h1v1h-1zM90 18h1v1h-1z"/>
<path fill="#ff4800" d="M0 23h1v1h-1zM12 23h1v1h-1zM15 28h1v1h-1zM17 23h1v1h-1zM20 21h1v1h-1zM26 21h1v1h-1zM34 17h1v1h-1zM50 15h1v1h-1zM51 15h1v1h-1zM54 17h1v1h-1zM57 15h1v1h-1zM73 9h1v1h-1zM75 2h1v1h-1zM82 9h1v1h-1zM84 23h1v1h-1zM89 9h1v1h-1z"/>
<path fill="#7bff7b" d="M0 24h1v1h-1zM1 8h1v1h-1zM1 15h1v1h-1zM3 7h1v1h-1zM5 0h1v1h-1zM5 9h1v1h-1zM5 12h1v1h-1zM6 9h1v1h-1zM7 10h1v1h-1zM7 12h1v1h-1zM7 21h1v1h-1zM7 27h1v1h-1zM8 22h1v1h-1zM9 10h1v1h-1zM9 13h1v1h-1zM9 24h1v1h-1zM9 25h1v1h-1zM10 5h1v1h-1zM10 21h1v1h-1zM11 13h1v1h-1zM11 25h1v1h-1zM13 1h1v1h-1zM13 9h1v1h-1zM13 19h1v1h-1zM14 12h1v1h-1zM17 9h1v1h-1zM17 17h1v1h-1zM17 18h1v1h-1zM17 28h1v1h-1zM18 0h1v1h-1zM18 7h1v1h-1zM18 11h1v1h-1zM18 16h1v1h-1zM18 24h1v1h-1zM20 25h1v1h-1zM21 16h1v1h-1zM21 17h1v1h-1zM22 6h1v1h-1zM24 12h1v1h-1zM24 25h1v1h-1zM25 11h1v1h-1zM27 11h1v1h-1zM27 17h1v1h-1zM27 22h1v1h-1zM28 19h1v1h-1zM28 21h1v1h-1zM29 16h1v1h-1zM29 21h1v1h-1zM29 23h1v1h-1zM30 9h1v1h-1zM30 12h1v1h-1zM30 15h1v1h-1zM30 18h1v1h-1zM31 12h1v1h-1zM31 15h1v1h-1zM32 12h1v1h-1zM33 15h1v1h-1zM33 20h1v1h-1zM34 24h1v1h-1zM34 25h1v1h-1zM35 17h1v1h-1zM36 17h1v1h-1zM36 28h1v1h-1zM39 13h1v1h-1zM39 20h1v1h-1zM41 20h1v1h-1zM42 14h1v1h-1zM42 20h1v1h-1zM48 12h1v1h-1zM48 14h1v1h-1zM49 10h1v1h-1zM49 12h1v1h-1zM50 24h1v1h-1zM53 15h1v1h-1zM53 18h1v1h-1zM54 16h1v1h-1zM56 11h1v1h-1zM56 12h1v1h-1zM58 14h1v1h-1zM58 17h1v1h-1zM61 15h1v1h-1zM62 11h1v1h-1zM62 14h1v1h-1zM63 4h1v1h-1zM63 32h1v1h-1zM64 4h1v1h-1zM64 13h1v1h-1zM64 16h1v1h-1zM64 17h1v1h-1zM64 20h1v1h-1zM65 3h1v1h-1zM67 13h1v1h-1zM68 5h1v1h-1zM68 10h1v1h-1zM68 15h1v1h-1zM68 22h1v1h-1zM70 9h1v1h-1zM70 12h1v1h-1zM70 18h1v1h-1zM71 32h1v1h-1zM72 11h1v1h-1zM73 7h1v1h-1zM73 18h1v1h-1zM74 11h1v1h-1zM74 32h1v1h-1zM76 6h1v1h-1zM76 7h1v1h-1zM77 7h1v1h-1zM78 16h1v1h-1zM78 19h1v1h-1zM79 14h1v1h-1zM80 18h1v1h-1zM81 18h1v1h-1zM82 17h1v1h-1zM83 3h1v1h-1zM83 8h1v1h-1zM83 10h1v1h-1zM83 20h1v1h-1zM83 24h1v1h-1zM83 31h1v1h-1zM84 15h1v1h-1zM84 21h1v1h-1zM84 27h1v1h-1zM87 15h1v1h-1zM87 21h1v1h-1zM88 16h1v1h-1zM88 21h1v1h-1zM88 22h1v1h-1zM89 10h1v1h-1zM89 22h1v1h-1zM90 1h1v1h-1zM90 2h1v1h-1zM90 19h1v1h-1zM90 20h1v1h-1zM90 32h1v1h-1z"/>
<path fill="#0055ff" d="M0 25h1v1h-1zM0 27h1v1h-1zM1 28h1v1h-1zM1 32h1v1h-1zM2 4h1v1h-1zM2 29h1v1h-1zM4 0h1v1h-1zM4 4h1v1h-1zM4 6h1v1h-1zM4 17h1v1h-1zM5 19h1v1h-1zM5 25h1v1h-1zM5 28h1v1h-1zM6 27h1v1h-1zM6 28h1v1h-1zM7 7h1v1h-1zM7 13h1v1h-1zM7 20h1v1h-1zM7 32h1v1h-1zM8 5h1v1h-1zM8 6h1v1h-1zM8 13h1v1h-1zM8 20h1v1h-1zM8 21h1v1h-1zM10 17h1v1h-1zM10 29h1v1h-1zM10 30h1v1h-1zM11 6h1v1h-1zM11 8h1v1h-1zM11 27h1v1h-1zM12 19h1v1h-1zM12 31h1v1h-1zM13 0h1v1h-1zM14 5h1v1h-1zM14 6h1v1h-1zM16 3h1v1h-1zM16 30h1v1h-1zM17 5h1v1h-1zM18 20h1v1h-1zM18 31h1v1h-1zM19 3h1v1h-1zM19 26h1v1h-1zM19 28h1v1h-1zM19 31h1v1h-1zM20 2h1v1h-1zM20 3h1v1h-1zM20 28h1v1h-1zM21 25h1v1h-1zM21 30h1v1h-1zM22 1h1v1h-1zM22 9h1v1h-1zM23 0h1v1h-1zM23 2h1v1h-1zM23 27h1v1h-1zM23 29h1v1h-1zM24 0h1v1h-1zM24 1h1v1h-1zM25 4h1v1h-1zM25 6h1v1h-1zM25 29h1v1h-1zM26 8h1v1h-1zM26 26h1v1h-1zM26 28h1v1h-1zM27 27h1v1h-1zM27 29h1v1h-1zM28 6h1v1h-1zM28 26h1v1h-1zM28 30h1v1h-1zM29 26h1v1h-1zM29 30h1v1h-1zM30 8h1v1h-1zM30 10h1v1h-1zM30 25h1v1h-1zM31 10h1v1h-1zM31 28h1v1h-1zM33 3h1v1h-1zM33 5h1v1h-1zM33 10h1v1h-1zM34 28h1v1h-1zM35 1h1v1h-1zM35 10h1v1h-1zM35 11h1v1h-1zM36 0h1v1h-1zM36 2h1v1h-1zM36 3h1v1h-1zM36 5h1v1h-1zM36 6h1v1h-1zM36 23h1v1h-1zM37 0h1v1h-1zM37 12h1v1h-1zM37 21h1v1h-1zM37 24h1v1h-1zM37 25h1v1h-1zM37 26h1v1h-1zM37 27h1v1h-1zM37 31h1v1h-1zM38 1h1v1h-1zM38 8h1v1h-1zM38 11h1v1h-1zM38 25h1v1h-1zM38 29h1v1h-1zM39 1h1v1h-1zM39 2h1v1h-1zM39 11h1v1h-1zM39 22h1v1h-1zM39 26h1v1h-1zM39 28h1v1h-1zM40 10h1v1h-1zM40 27h1v1h-1zM40 29h1v1h-1zM42 5h1v1h-1zM42 10h1v1h-1zM42 23h1v1h-1zM42 28h1v1h-1zM48 9h1v1h-1zM48 22h1v1h-1zM48 23h1v1h-1zM49 11h1v1h-1zM49 22h1v1h-1zM49 24h1v1h-1zM49 32h1v1h-1zM50 11h1v1h-1zM50 19h1v1h-1zM51 0h1v1h-1zM51 2h1v1h-1zM51 3h1v1h-1zM51 22h1v1h-1zM51 32h1v1h-1zM52 4h1v1h-1zM52 9h1v1h-1zM52 23h1v1h-1zM52 32h1v1h-1zM53 4h1v1h-1zM53 11h1v1h-1zM53 12h1v1h-1zM53 22h1v1h-1zM53 25h1v1h-1zM54 6h1v1h-1zM54 28h1v1h-1zM55 22h1v1h-1zM56 3h1v1h-1zM56 23h1v1h-1zM56 29h1v1h-1zM57 4h1v1h-1zM57 7h1v1h-1zM57 25h1v1h-1zM58 3h1v1h-1zM58 7h1v1h-1zM58 8h1v1h-1zM59 3h1v1h-1zM59 4h1v1h-1zM60 2h1v1h-1zM60 5h1v1h-1zM60 24h1v1h-1zM60 26h1v1h-1zM60 27h1v1h-1zM61 1h1v1h-1zM61 22h1v1h-1zM61 31h1v1h-1zM63 0h1v1h-1zM63 30h1v1h-1zM64 25h1v1h-1zM65 31h1v1h-1zM67 7h1v1h-1zM67 20h1v1h-1zM67 26h1v1h-1zM67 28h1v1h-1zM68 4h1v1h-1zM69 31h1v1h-1zM70 1h1v1h-1zM70 29h1v1h-1zM71 26h1v1h-1zM71 28h1v1h-1zM71 30h1v1h-1zM72 24h1v1h-1zM72 29h1v1h-1zM73 2h1v1h-1zM73 3h1v1h-1zM74 0h1v1h-1zM74 3h1v1h-1zM76 1h1v1h-1zM76 26h1v1h-1zM76 27h1v1h-1zM78 3h1v1h-1zM78 32h1v1h-1zM79 2h1v1h-1zM80 1h1v1h-1zM80 19h1v1h-1zM81 26h1v1h-1zM81 29h1v1h-1zM81 30h1v1h-1zM81 31h1v1h-1zM82 0h1v1h-1zM82 1h1v1h-1zM82 2h1v1h-1zM82 3h1v1h-1zM82 27h1v1h-1zM82 29h1v1h-1zM83 1h1v1h-1zM83 30h1v1h-1zM84 0h1v1h-1zM84 29h1v1h-1zM84 31h1v1h-1zM85 1h1v1h-1zM85 11h1v1h-1zM85 32h1v1h-1zM86 6h1v1h-1zM87 1h1v1h-1zM87 2h1v1h-1zM87 26h1v1h-1zM87 30h1v1h-1zM88 4h1v1h-1zM88 7h1v1h-1zM89 0h1v1h-1zM89 32h1v1h-1z"/>
<path fill="#0000e0" d="M0 28h1v1h-1zM4 13h1v1h-1zM5 4h1v1h-1zM5 26h1v1h-1zM9 30h1v1h-1zM9 32h1v1h-1zM12 20h1v1h-1zM12 30h1v1h-1zM14 28h1v1h-1zM21 3h1v1h-1zM21 28h1v1h-1zM24 3h1v1h-1zM24 5h1v1h-1zM24 6h1v1h-1zM24 9h1v1h-1zM28 2h1v1h-1zM28 27h1v1h-1zM30 27h1v1h-1zM31 1h1v1h-1zM31 3h1v1h-1zM33 31h1v1h-1zM34 29h1v1h-1zM35 23h1v1h-1zM35 25h1v1h-1zM36 1h1v1h-1zM36 24h1v1h-1zM36 31h1v1h-1zM37 4h1v1h-1zM37 10h1v1h-1zM38 10h1v1h-1zM38 12h1v1h-1zM38 24h1v1h-1zM38 27h1v1h-1zM39 3h1v1h-1zM40 4h1v1h-1zM40 22h1v1h-1zM40 26h1v1h-1zM46 3h1v1h-1zM48 0h1v1h-1zM48 4h1v1h-1zM48 24h1v1h-1zM49 21h1v1h-1zM49 27h1v1h-1zM51 24h1v1h-1zM52 10h1v1h-1zM52 21h1v1h-1zM53 8h1v1h-1zM53 9h1v1h-1zM53 21h1v1h-1zM53 30h1v1h-1zM54 29h1v1h-1zM56 2h1v1h-1zM57 32h1v1h-1zM59 0h1v1h-1zM59 23h1v1h-1zM62 24h1v1h-1zM63 24h1v1h-1zM66 32h1v1h-1zM67 24h1v1h-1zM68 28h1v1h-1zM71 15h1v1h-1zM72 1h1v1h-1zM72 5h1v1h-1zM72 12h1v1h-1zM78 4h1v1h-1zM78 25h1v1h-1zM80 3h1v1h-1zM80 4h1v1h-1zM82 4h1v1h-1zM83 0h1v1h-1zM84 32h1v1h-1zM85 7h1v1h-1z"/>
<path fill="#0000ff" d="M0 29h1v1h-1zM1 4h1v1h-1zM2 30h1v1h-1zM2 31h1v1h-1zM8 15h1v1h-1zM8 27h1v1h-1zM9 31h1v1h-1zM12 15h1v1h-1zM12 17h1v1h-1zM14 8h1v1h-1zM14 17h1v1h-1zM14 29h1v1h-1zM16 29h1v1h-1zM16 32h1v1h-1zM19 25h1v1h-1zM20 8h1v1h-1zM20 9h1v1h-1zM20 31h1v1h-1zM24 7h1v1h-1zM24 32h1v1h-1zM25 26h1v1h-1zM26 27h1v1h-1zM27 28h1v1h-1zM28 0h1v1h-1zM28 5h1v1h-1zM28 9h1v1h-1zM31 27h1v1h-1zM31 29h1v1h-1zM31 30h1v1h-1zM31 32h1v1h-1zM33 4h1v1h-1zM33 8h1v1h-1zM34 0h1v1h-1zM34 1h1v1h-1zM34 30h1v1h-1zM34 32h1v1h-1zM38 7h1v1h-1zM38 23h1v1h-1zM39 23h1v1h-1zM40 3h1v1h-1zM40 5h1v1h-1zM40 6h1v1h-1zM40 7h1v1h-1zM40 12h1v1h-1zM40 31h1v1h-1zM41 0h1v1h-1zM42 0h1v1h-1zM42 3h1v1h-1zM42 9h1v1h-1zM42 24h1v1h-1zM48 19h1v1h-1zM49 9h1v1h-1zM50 23h1v1h-1zM51 11h1v1h-1zM51 21h1v1h-1zM52 6h1v1h-1zM53 3h1v1h-1zM54 11h1v1h-1zM54 30h1v1h-1zM56 25h1v1h-1zM56 31h1v1h-1zM57 0h1v1h-1zM57 5h1v1h-1zM57 6h1v1h-1zM57 30h1v1h-1zM58 5h1v1h-1zM58 25h1v1h-1zM58 26h1v1h-1zM58 32h1v1h-1zM59 24h1v1h-1zM61 2h1v1h-1zM61 29h1v1h-1zM62 22h1v1h-1zM63 25h1v1h-1zM64 3h1v1h-1zM64 23h1v1h-1zM67 2h1v1h-1zM67 3h1v1h-1zM67 25h1v1h-1zM67 27h1v1h-1zM67 32h1v1h-1zM68 23h1v1h-1zM69 23h1v1h-1zM69 26h1v1h-1zM70 27h1v1h-1zM71 5h1v1h-1zM71 29h1v1h-1zM72 2h1v1h-1zM73 25h1v1h-1zM74 6h1v1h-1zM76 2h1v1h-1zM78 5h1v1h-1zM79 6h1v1h-1zM80 25h1v1h-1zM81 32h1v1h-1zM84 30h1v1h-1zM85 0h1v1h-1zM85 3h1v1h-1zM85 6h1v1h-1zM86 32h1v1h-1zM87 11h1v1h-1z"/>
<path fill="#002aff" d="M1 2h1v1h-1zM1 5h1v1h-1zM1 6h1v1h-1zM4 29h1v1h-1zM5 2h1v1h-1zM5 5h1v1h-1zM5 6h1v1h-1zM5 29h1v1h-1zM6 13h1v1h-1zM6 16h1v1h-1zM7 14h1v1h-1zM8 17h1v1h-1zM8 32h1v1h-1zM10 18h1v1h-1zM10 28h1v1h-1zM12 7h1v1h-1zM12 11h1v1h-1zM12 13h1v1h-1zM12 18h1v1h-1zM12 32h1v1h-1zM13 28h1v1h-1zM14 4h1v1h-1zM14 7h1v1h-1zM16 28h1v1h-1zM18 12h1v1h-1zM19 18h1v1h-1zM20 5h1v1h-1zM20 13h1v1h-1zM21 2h1v1h-1zM21 5h1v1h-1zM21 26h1v1h-1zM21 27h1v1h-1zM23 30h1v1h-1zM24 4h1v1h-1zM24 8h1v1h-1zM24 10h1v1h-1zM24 19h1v1h-1zM24 29h1v1h-1zM25 27h1v1h-1zM28 7h1v1h-1zM28 31h1v1h-1zM29 0h1v1h-1zM29 3h1v1h-1zM29 4h1v1h-1zM29 6h1v1h-1zM30 0h1v1h-1zM30 28h1v1h-1zM31 9h1v1h-1zM32 0h1v1h-1zM32 29h1v1h-1zM32 32h1v1h-1zM33 24h1v1h-1zM33 26h1v1h-1zM33 27h1v1h-1zM34 27h1v1h-1zM35 24h1v1h-1zM36 7h1v1h-1zM36 26h1v1h-1zM36 27h1v1h-1zM37 5h1v1h-1zM37 22h1v1h-1zM38 9h1v1h-1zM38 22h1v1h-1zM38 31h1v1h-1zM39 5h1v1h-1zM39 29h1v1h-1zM40 24h1v1h-1zM40 25h1v1h-1zM40 32h1v1h-1zM41 3h1v1h-1zM41 6h1v1h-1zM41 28h1v1h-1zM42 2h1v1h-1zM42 22h1v1h-1zM42 25h1v1h-1zM42 26h1v1h-1zM42 31h1v1h-1zM42 32h1v1h-1zM48 1h1v1h-1zM49 8h1v1h-1zM49 20h1v1h-1zM49 23h1v1h-1zM50 12h1v1h-1zM50 27h1v1h-1zM50 31h1v1h-1zM50 32h1v1h-1zM51 4h1v1h-1zM51 20h1v1h-1zM51 27h1v1h-1zM51 28h1v1h-1zM51 30h1v1h-1zM51 31h1v1h-1zM52 30h1v1h-1zM53 10h1v1h-1zM53 26h1v1h-1zM54 9h1v1h-1zM54 27h1v1h-1zM54 31h1v1h-1zM56 6h1v1h-1zM56 21h1v1h-1zM57 26h1v1h-1zM57 28h1v1h-1zM58 1h1v1h-1zM58 4h1v1h-1zM58 24h1v1h-1zM58 29h1v1h-1zM59 22h1v1h-1zM60 4h1v1h-1zM60 31h1v1h-1zM61 0h1v1h-1zM61 3h1v1h-1zM61 5h1v1h-1zM61 27h1v1h-1zM62 1h1v1h-1zM62 23h1v1h-1zM64 26h1v1h-1zM66 5h1v1h-1zM66 26h1v1h-1zM67 6h1v1h-1zM67 29h1v1h-1zM67 31h1v1h-1zM68 1h1v1h-1zM68 24h1v1h-1zM68 27h1v1h-1zM69 1h1v1h-1zM69 7h1v1h-1zM69 25h1v1h-1zM69 29h1v1h-1zM70 0h1v1h-1zM70 3h1v1h-1zM70 24h1v1h-1zM70 26h1v1h-1zM71 4h1v1h-1zM71 27h1v1h-1zM72 3h1v1h-1zM72 20h1v1h-1zM72 25h1v1h-1zM72 30h1v1h-1zM73 0h1v1h-1zM73 1h1v1h-1zM74 1h1v1h-1zM74 5h1v1h-1zM74 14h1v1h-1zM76 5h1v1h-1zM76 15h1v1h-1zM76 16h1v1h-1zM76 20h1v1h-1zM76 31h1v1h-1zM77 0h1v1h-1zM78 28h1v1h-1zM79 5h1v1h-1zM80 30h1v1h-1zM81 28h1v1h-1zM82 5h1v1h-1zM84 1h1v1h-1zM85 28h1v1h-1zM86 30h1v1h-1zM87 5h1v1h-1zM89 3h1v1h-1z"/>
<path fill="#ff9700" d="M1 10h1v1h-1zM13 23h1v1h-1zM16 22h1v1h-1zM19 22h1v1h-1zM23 22h1v1h-1zM23 23h1v1h-1zM31 19h1v1h-1zM32 13h1v1h-1zM34 16h1v1h-1zM34 19h1v1h-1zM39 15h1v1h-1zM40 14h1v1h-1zM41 15h1v1h-1zM54 14h1v1h-1zM61 12h1v1h-1zM62 12h1v1h-1zM62 18h1v1h-1zM63 17h1v1h-1zM65 9h1v1h-1zM66 18h1v1h-1zM66 20h1v1h-1zM67 9h1v1h-1zM67 11h1v1h-1zM68 11h1v1h-1zM69 11h1v1h-1zM71 10h1v1h-1zM73 8h1v1h-1zM75 0h1v1h-1zM75 1h1v1h-1zM75 3h1v1h-1zM75 24h1v1h-1zM81 7h1v1h-1z"/>
<path fill="#ff2100" d="M1 23h1v1h-1zM3 23h1v1h-1zM6 23h1v1h-1zM9 22h1v1h-1zM15 27h1v1h-1zM15 29h1v1h-1zM48 15h1v1h-1zM49 16h1v1h-1zM51 16h1v1h-1zM56 13h1v1h-1zM57 13h1v1h-1zM57 14h1v1h-1zM64 11h1v1h-1zM65 12h1v1h-1zM66 9h1v1h-1zM70 11h1v1h-1zM73 10h1v1h-1zM78 8h1v1h-1zM81 10h1v1h-1z"/>
<path fill="#800000" d="M2 23h1v1h-1zM15 13h1v1h-1zM15 15h1v1h-1zM15 16h1v1h-1zM15 18h1v1h-1zM15 21h1v1h-1zM15 25h1v1h-1zM15 26h1v1h-1zM23 21h1v1h-1zM65 11h1v1h-1zM75 5h1v1h-1zM75 12h1v1h-1zM75 13h1v1h-1zM75 17h1v1h-1zM75 18h1v1h-1zM75 19h1v1h-1zM75 20h1v1h-1zM83 9h1v1h-1z"/>
<path fill="#ffbe00" d="M3 22h1v1h-1zM5 23h1v1h-1zM11 22h1v1h-1zM14 22h1v1h-1zM14 23h1v1h-1zM15 2h1v1h-1zM15 31h1v1h-1zM16 24h1v1h-1zM18 21h1v1h-1zM18 23h1v1h-1zM20 24h1v1h-1zM22 23h1v1h-1zM25 23h1v1h-1zM28 20h1v1h-1zM30 13h1v1h-1zM32 14h1v1h-1zM33 14h1v1h-1zM33 19h1v1h-1zM34 14h1v1h-1zM38 16h1v1h-1zM38 17h1v1h-1zM38 18h1v1h-1zM39 19h1v1h-1zM40 17h1v1h-1zM42 15h1v1h-1zM48 16h1v1h-1zM53 14h1v1h-1zM55 15h1v1h-1zM56 15h1v1h-1zM57 17h1v1h-1zM57 18h1v1h-1zM58 15h1v1h-1zM63 11h1v1h-1zM64 12h1v1h-1zM64 18h1v1h-1zM69 9h1v1h-1zM75 4h1v1h-1zM75 25h1v1h-1zM75 30h1v1h-1zM76 8h1v1h-1zM76 9h1v1h-1zM79 10h1v1h-1zM80 10h1v1h-1zM84 9h1v1h-1zM84 10h1v1h-1zM89 23h1v1h-1zM90 10h1v1h-1zM90 12h1v1h-1zM90 14h1v1h-1z"/>
<path fill="#0000b0" d="M5 27h1v1h-1zM12 29h1v1h-1zM14 18h1v1h-1zM16 31h1v1h-1zM19 29h1v1h-1zM19 32h1v1h-1zM20 6h1v1h-1zM23 1h1v1h-1zM25 28h1v1h-1zM27 4h1v1h-1zM28 4h1v1h-1zM28 28h1v1h-1zM28 29h1v1h-1zM35 22h1v1h-1zM38 28h1v1h-1zM39 25h1v1h-1zM40 8h1v1h-1zM43 0h1v1h-1zM43 1h1v1h-1zM43 2h1v1h-1zM43 4h1v1h-1zM43 5h1v1h-1zM43 6h1v1h-1zM43 7h1v1h-1zM43 8h1v1h-1zM43 9h1v1h-1zM43 10h1v1h-1zM43 11h1v1h-1zM43 12h1v1h-1zM43 13h1v1h-1zM43 14h1v1h-1zM43 15h1v1h-1zM43 16h1v1h-1zM43 17h1v1h-1zM43 18h1v1h-1zM43 19h1v1h-1zM43 20h1v1h-1zM43 21h1v1h-1zM43 23h1v1h-1zM43 24h1v1h-1zM43 25h1v1h-1zM43 26h1v1h-1zM43 27h1v1h-1zM43 28h1v1h-1zM43 29h1v1h-1zM43 30h1v1h-1zM43 31h1v1h-1zM43 32h1v1h-1zM44 1h1v1h-1zM44 2h1v1h-1zM44 3h1v1h-1zM44 4h1v1h-1zM44 5h1v1h-1zM44 6h1v1h-1zM44 7h1v1h-1zM44 8h1v1h-1zM44 9h1v1h-1zM44 10h1v1h-1zM44 11h1v1h-1zM44 12h1v1h-1zM44 13h1v1h-1zM44 14h1v1h-1zM44 15h1v1h-1zM44 17h1v1h-1zM44 18h1v1h-1zM44 19h1v1h-1zM44 20h1v1h-1zM44 22h1v1h-1zM44 23h1v1h-1zM44 24h1v1h-1zM44 25h1v1h-1zM44 26h1v1h-1zM44 27h1v1h-1zM44 29h1v1h-1zM44 30h1v1h-1zM44 31h1v1h-1zM44 32h1v1h-1zM45 0h1v1h-1zM45 1h1v1h-1zM45 2h1v1h-1zM45 3h1v1h-1zM45 4h1v1h-1zM45 6h1v1h-1zM45 7h1v1h-1zM45 8h1v1h-1zM45 9h1v1h-1zM45 10h1v1h-1zM45 11h1v1h-1zM45 12h1v1h-1zM45 14h1v1h-1zM45 15h1v1h-1zM45 16h1v1h-1zM45 17h1v1h-1zM45 18h1v1h-1zM45 19h1v1h-1zM45 20h1v1h-1zM45 21h1v1h-1zM45 22h1v1h-1zM45 23h1v1h-1zM45 24h1v1h-1zM45 26h1v1h-1zM45 27h1v1h-1zM45 28h1v1h-1zM45 29h1v1h-1zM45 30h1v1h-1zM45 31h1v1h-1zM45 32h1v1h-1zM46 0h1v1h-1zM46 1h1v1h-1zM46 2h1v1h-1zM46 4h1v1h-1zM46 5h1v1h-1zM46 6h1v1h-1zM46 8h1v1h-1zM46 10h1v1h-1zM46 11h1v1h-1zM46 12h1v1h-1zM46 13h1v1h-1zM46 15h1v1h-1zM46 17h1v1h-1zM46 18h1v1h-1zM46 19h1v1h-1zM46 20h1v1h-1zM46 21h1v1h-1zM46 22h1v1h-1zM46 23h1v1h-1zM46 24h1v1h-1zM46 25h1v1h-1zM46 26h1v1h-1zM46 27h1v1h-1zM46 28h1v1h-1zM46 30h1v1h-1zM46 31h1v1h-1zM46 32h1v1h-1zM47 0h1v1h-1zM47 1h1v1h-1zM47 3h1v1h-1zM47 4h1v1h-1zM47 5h1v1h-1zM47 6h1v1h-1zM47 7h1v1h-1zM47 8h1v1h-1zM47 9h1v1h-1zM47 10h1v1h-1zM47 11h1v1h-1zM47 12h1v1h-1zM47 13h1v1h-1zM47 14h1v1h-1zM47 15h1v1h-1zM47 16h1v1h-1zM47 17h1v1h-1zM47 18h1v1h-1zM47 19h1v1h-1zM47 20h1v1h-1zM47 21h1v1h-1zM47 22h1v1h-1zM47 23h1v1h-1zM47 24h1v1h-1zM47 25h1v1h-1zM47 26h1v1h-1zM47 27h1v1h-1zM47 28h1v1h-1zM47 29h1v1h-1zM47 30h1v1h-1zM47 31h1v1h-1zM47 32h1v1h-1zM49 28h1v1h-1zM52 1h1v1h-1zM52 24h1v1h-1zM53 23h1v1h-1zM57 27h1v1h-1zM57 31h1v1h-1zM59 2h1v1h-1zM61 23h1v1h-1zM65 23h1v1h-1zM65 24h1v1h-1zM66 3h1v1h-1zM67 30h1v1h-1zM68 30h1v1h-1zM70 23h1v1h-1zM73 27h1v1h-1zM74 2h1v1h-1zM86 2h1v1h-1z"/>
<path fill="#ff7000" d="M6 22h1v1h-1zM11 23h1v1h-1zM13 22h1v1h-1zM16 23h1v1h-1zM20 22h1v1h-1zM22 21h1v1h-1zM27 15h1v1h-1zM27 20h1v1h-1zM31 14h1v1h-1zM32 19h1v1h-1zM36 18h1v1h-1zM37 16h1v1h-1zM37 18h1v1h-1zM39 16h1v1h-1zM39 18h1v1h-1zM40 15h1v1h-1zM50 16h1v1h-1zM55 14h1v1h-1zM57 16h1v1h-1zM59 13h1v1h-1zM63 12h1v1h-1zM65 10h1v1h-1zM67 10h1v1h-1zM71 9h1v1h-1zM71 22h1v1h-1zM76 10h1v1h-1zM78 10h1v1h-1zM80 9h1v1h-1zM86 9h1v1h-1zM88 9h1v1h-1zM90 15h1v1h-1zM90 23h1v1h-1z"/>
<path fill="#b00000" d="M7 23h1v1h-1zM9 23h1v1h-1zM15 11h1v1h-1zM15 12h1v1h-1zM15 14h1v1h-1zM15 17h1v1h-1zM15 19h1v1h-1zM15 20h1v1h-1zM15 22h1v1h-1zM15 23h1v1h-1zM15 24h1v1h-1zM17 22h1v1h-1zM41 16h1v1h-1zM41 17h1v1h-1zM42 17h1v1h-1zM66 11h1v1h-1zM74 10h1v1h-1zM75 6h1v1h-1zM75 7h1v1h-1zM75 8h1v1h-1zM75 9h1v1h-1zM75 10h1v1h-1zM75 11h1v1h-1zM75 14h1v1h-1zM75 15h1v1h-1zM75 16h1v1h-1zM75 21h1v1h-1zM75 22h1v1h-1zM78 9h1v1h-1zM90 9h1v1h-1z"/>
<path fill="#e00000" d="M8 23h1v1h-1zM15 0h1v1h-1zM18 22h1v1h-1zM29 20h1v1h-1zM30 20h1v1h-1zM42 16h1v1h-1zM49 15h1v1h-1zM52 14h1v1h-1zM52 16h1v1h-1zM58 13h1v1h-1zM64 9h1v1h-1zM70 10h1v1h-1zM72 10h1v1h-1zM77 9h1v1h-1zM87 9h1v1h-1z"/>
</g></g>
<g clip-path="url(#ca)" fill="none"><path d="M41.59,207.37 L155.30,118.35 L269.01,29.33" stroke="#fff" stroke-width="2.1" stroke-dasharray="6.1,5.8" stroke-dashoffset="3.18"/><path d="M48.70,121.58 L50.48,122.72 L52.25,123.85 L54.03,124.97 L55.81,126.09 L57.58,127.20 L59.36,128.31 L61.14,129.40 L62.91,130.47 L64.69,131.54 L66.47,132.58 L68.24,133.61 L70.02,134.62 L71.80,135.61 L73.57,136.57 L75.35,137.50 L77.13,138.40 L78.90,139.27 L80.68,140.10 L82.46,140.90 L84.23,141.65 L86.01,142.36 L87.79,143.02 L89.56,143.63 L91.34,144.18 L93.12,144.68 L94.89,145.12 L96.67,145.50 L98.45,145.81 L100.22,146.05 L102.00,146.23 L103.78,146.33 L105.55,146.36 L107.33,146.31 L109.11,146.19 L110.88,145.98 L112.66,145.70 L114.44,145.33 L116.21,144.89 L117.99,144.36 L119.77,143.75 L121.54,143.07 L123.32,142.30 L125.10,141.46 L126.87,140.54 L128.65,139.55 L130.43,138.49 L132.20,137.36 L133.98,136.17 L135.76,134.91 L137.53,133.60 L139.31,132.23 L141.09,130.81 L142.86,129.36 L144.64,127.86 L146.42,126.33 L148.19,124.77 L149.97,123.18 L151.75,121.58 L153.52,119.97 L155.30,118.35 L157.08,116.73 L158.85,115.12 L160.63,113.52 L162.41,111.93 L164.18,110.37 L165.96,108.84 L167.74,107.34 L169.51,105.89 L171.29,104.47 L173.07,103.10 L174.84,101.79 L176.62,100.53 L178.40,99.34 L180.17,98.21 L181.95,97.15 L183.73,96.16 L185.50,95.24 L187.28,94.40 L189.06,93.63 L190.83,92.95 L192.61,92.34 L194.39,91.81 L196.16,91.37 L197.94,91.00 L199.72,90.72 L201.49,90.51 L203.27,90.39 L205.05,90.34 L206.82,90.37 L208.60,90.47 L210.38,90.65 L212.15,90.89 L213.93,91.20 L215.71,91.58 L217.48,92.02 L219.26,92.52 L221.04,93.07 L222.81,93.68 L224.59,94.34 L226.37,95.05 L228.14,95.80 L229.92,96.60 L231.70,97.43 L233.47,98.30 L235.25,99.20 L237.03,100.13 L238.80,101.09 L240.58,102.08 L242.36,103.09 L244.13,104.12 L245.91,105.16 L247.69,106.23 L249.46,107.30 L251.24,108.39 L253.02,109.50 L254.79,110.61 L256.57,111.73 L258.35,112.85 L260.12,113.98 L261.90,115.12" stroke="#fff" stroke-width="2.2"/></g>
<g clip-path="url(#cb)" fill="none"><path d="M279.30,117.12 L281.08,116.69 L282.85,116.26 L284.63,115.84 L286.41,115.43 L288.18,115.02 L289.96,114.62 L291.74,114.23 L293.51,113.86 L295.29,113.49 L297.07,113.13 L298.84,112.79 L300.62,112.46 L302.40,112.15 L304.17,111.85 L305.95,111.57 L307.73,111.30 L309.50,111.05 L311.28,110.82 L313.06,110.61 L314.83,110.42 L316.61,110.25 L318.39,110.10 L320.16,109.97 L321.94,109.86 L323.72,109.77 L325.49,109.70 L327.27,109.66 L329.05,109.63 L330.82,109.63 L332.60,109.65 L334.38,109.69 L336.15,109.76 L337.93,109.84 L339.71,109.95 L341.48,110.08 L343.26,110.22 L345.04,110.39 L346.81,110.58 L348.59,110.79 L350.37,111.01 L352.14,111.26 L353.92,111.52 L355.70,111.80 L357.47,112.10 L359.25,112.41 L361.03,112.73 L362.80,113.07 L364.58,113.43 L366.36,113.79 L368.13,114.17 L369.91,114.56 L371.69,114.95 L373.46,115.36 L375.24,115.77 L377.02,116.19 L378.79,116.62 L380.57,117.05 L382.35,117.48 L384.12,117.91 L385.90,118.35 L387.68,118.79 L389.45,119.22 L391.23,119.65 L393.01,120.08 L394.78,120.51 L396.56,120.93 L398.34,121.34 L400.11,121.75 L401.89,122.14 L403.67,122.53 L405.44,122.91 L407.22,123.27 L409.00,123.63 L410.77,123.97 L412.55,124.29 L414.33,124.60 L416.10,124.90 L417.88,125.18 L419.66,125.44 L421.43,125.69 L423.21,125.91 L424.99,126.12 L426.76,126.31 L428.54,126.48 L430.32,126.62 L432.09,126.75 L433.87,126.86 L435.65,126.94 L437.42,127.01 L439.20,127.05 L440.98,127.07 L442.75,127.07 L444.53,127.04 L446.31,127.00 L448.08,126.93 L449.86,126.84 L451.64,126.73 L453.41,126.60 L455.19,126.45 L456.97,126.28 L458.74,126.09 L460.52,125.88 L462.30,125.65 L464.07,125.40 L465.85,125.13 L467.63,124.85 L469.40,124.55 L471.18,124.24 L472.96,123.91 L474.73,123.57 L476.51,123.21 L478.29,122.84 L480.06,122.47 L481.84,122.08 L483.62,121.68 L485.39,121.27 L487.17,120.86 L488.95,120.44 L490.72,120.01 L492.50,119.58" stroke="#a0a0a0" stroke-width="2.0"/><path d="M272.19,90.45 L385.90,118.35 L499.61,146.25" stroke="#fff" stroke-width="2.1" stroke-dasharray="6.1,5.8" stroke-dashoffset="4.44"/><path d="M279.30,174.05 L281.08,173.97 L282.85,173.87 L284.63,173.75 L286.41,173.60 L288.18,173.42 L289.96,173.23 L291.74,173.00 L293.51,172.75 L295.29,172.48 L297.07,172.18 L298.84,171.85 L300.62,171.49 L302.40,171.11 L304.17,170.70 L305.95,170.26 L307.73,169.79 L309.50,169.28 L311.28,168.75 L313.06,168.19 L314.83,167.59 L316.61,166.96 L318.39,166.30 L320.16,165.61 L321.94,164.88 L323.72,164.12 L325.49,163.32 L327.27,162.49 L329.05,161.63 L330.82,160.73 L332.60,159.79 L334.38,158.82 L336.15,157.81 L337.93,156.77 L339.71,155.70 L341.48,154.59 L343.26,153.45 L345.04,152.27 L346.81,151.06 L348.59,149.82 L350.37,148.55 L352.14,147.24 L353.92,145.91 L355.70,144.55 L357.47,143.16 L359.25,141.75 L361.03,140.31 L362.80,138.84 L364.58,137.36 L366.36,135.85 L368.13,134.32 L369.91,132.78 L371.69,131.22 L373.46,129.64 L375.24,128.05 L377.02,126.45 L378.79,124.84 L380.57,123.23 L382.35,121.60 L384.12,119.98 L385.90,118.35 L387.68,116.72 L389.45,115.10 L391.23,113.47 L393.01,111.86 L394.78,110.25 L396.56,108.65 L398.34,107.06 L400.11,105.48 L401.89,103.92 L403.67,102.38 L405.44,100.85 L407.22,99.34 L409.00,97.86 L410.77,96.39 L412.55,94.95 L414.33,93.54 L416.10,92.15 L417.88,90.79 L419.66,89.46 L421.43,88.15 L423.21,86.88 L424.99,85.64 L426.76,84.43 L428.54,83.25 L430.32,82.11 L432.09,81.00 L433.87,79.93 L435.65,78.89 L437.42,77.88 L439.20,76.91 L440.98,75.97 L442.75,75.07 L444.53,74.21 L446.31,73.38 L448.08,72.58 L449.86,71.82 L451.64,71.09 L453.41,70.40 L455.19,69.74 L456.97,69.11 L458.74,68.51 L460.52,67.95 L462.30,67.42 L464.07,66.91 L465.85,66.44 L467.63,66.00 L469.40,65.59 L471.18,65.21 L472.96,64.85 L474.73,64.52 L476.51,64.22 L478.29,63.95 L480.06,63.70 L481.84,63.47 L483.62,63.28 L485.39,63.10 L487.17,62.95 L488.95,62.83 L490.72,62.73 L492.50,62.65" stroke="#fff" stroke-width="2.2"/></g>
<g clip-path="url(#cc)" fill="none"><path d="M41.59,401.05 L155.30,324.65 L269.01,248.25" stroke="#fff" stroke-width="2.1" stroke-dasharray="6.1,5.8" stroke-dashoffset="6.99"/><path d="M48.70,326.88 L50.48,327.67 L52.25,328.46 L54.03,329.25 L55.81,330.05 L57.58,330.85 L59.36,331.65 L61.14,332.45 L62.91,333.25 L64.69,334.06 L66.47,334.86 L68.24,335.67 L70.02,336.47 L71.80,337.27 L73.57,338.06 L75.35,338.84 L77.13,339.61 L78.90,340.37 L80.68,341.11 L82.46,341.83 L84.23,342.53 L86.01,343.21 L87.79,343.85 L89.56,344.47 L91.34,345.04 L93.12,345.58 L94.89,346.07 L96.67,346.52 L98.45,346.92 L100.22,347.26 L102.00,347.54 L103.78,347.77 L105.55,347.93 L107.33,348.02 L109.11,348.04 L110.88,348.00 L112.66,347.87 L114.44,347.68 L116.21,347.41 L117.99,347.06 L119.77,346.63 L121.54,346.12 L123.32,345.54 L125.10,344.88 L126.87,344.14 L128.65,343.33 L130.43,342.45 L132.20,341.50 L133.98,340.48 L135.76,339.40 L137.53,338.26 L139.31,337.07 L141.09,335.82 L142.86,334.53 L144.64,333.20 L146.42,331.83 L148.19,330.43 L149.97,329.01 L151.75,327.56 L153.52,326.11 L155.30,324.65 L157.08,323.19 L158.85,321.74 L160.63,320.29 L162.41,318.87 L164.18,317.47 L165.96,316.10 L167.74,314.77 L169.51,313.48 L171.29,312.23 L173.07,311.04 L174.84,309.90 L176.62,308.82 L178.40,307.80 L180.17,306.85 L181.95,305.97 L183.73,305.16 L185.50,304.42 L187.28,303.76 L189.06,303.18 L190.83,302.67 L192.61,302.24 L194.39,301.89 L196.16,301.62 L197.94,301.43 L199.72,301.30 L201.49,301.26 L203.27,301.28 L205.05,301.37 L206.82,301.53 L208.60,301.76 L210.38,302.04 L212.15,302.38 L213.93,302.78 L215.71,303.23 L217.48,303.72 L219.26,304.26 L221.04,304.83 L222.81,305.45 L224.59,306.09 L226.37,306.77 L228.14,307.47 L229.92,308.19 L231.70,308.93 L233.47,309.69 L235.25,310.46 L237.03,311.24 L238.80,312.03 L240.58,312.83 L242.36,313.63 L244.13,314.44 L245.91,315.24 L247.69,316.05 L249.46,316.85 L251.24,317.65 L253.02,318.45 L254.79,319.25 L256.57,320.05 L258.35,320.84 L260.12,321.63 L261.90,322.42" stroke="#fff" stroke-width="2.2"/></g>
<g clip-path="url(#cd)" fill="none"><path d="M279.30,323.73 L281.08,323.41 L282.85,323.10 L284.63,322.78 L286.41,322.48 L288.18,322.17 L289.96,321.88 L291.74,321.59 L293.51,321.31 L295.29,321.03 L297.07,320.77 L298.84,320.51 L300.62,320.27 L302.40,320.03 L304.17,319.81 L305.95,319.60 L307.73,319.40 L309.50,319.22 L311.28,319.05 L313.06,318.89 L314.83,318.75 L316.61,318.62 L318.39,318.51 L320.16,318.41 L321.94,318.33 L323.72,318.27 L325.49,318.22 L327.27,318.18 L329.05,318.17 L330.82,318.16 L332.60,318.18 L334.38,318.21 L336.15,318.26 L337.93,318.32 L339.71,318.40 L341.48,318.49 L343.26,318.60 L345.04,318.73 L346.81,318.87 L348.59,319.02 L350.37,319.19 L352.14,319.37 L353.92,319.57 L355.70,319.78 L357.47,320.00 L359.25,320.23 L361.03,320.47 L362.80,320.72 L364.58,320.99 L366.36,321.26 L368.13,321.54 L369.91,321.83 L371.69,322.12 L373.46,322.43 L375.24,322.73 L377.02,323.04 L378.79,323.36 L380.57,323.68 L382.35,324.00 L384.12,324.33 L385.90,324.65 L387.68,324.97 L389.45,325.30 L391.23,325.62 L393.01,325.94 L394.78,326.26 L396.56,326.57 L398.34,326.87 L400.11,327.18 L401.89,327.47 L403.67,327.76 L405.44,328.04 L407.22,328.31 L409.00,328.58 L410.77,328.83 L412.55,329.07 L414.33,329.30 L416.10,329.52 L417.88,329.73 L419.66,329.93 L421.43,330.11 L423.21,330.28 L424.99,330.43 L426.76,330.57 L428.54,330.70 L430.32,330.81 L432.09,330.90 L433.87,330.98 L435.65,331.04 L437.42,331.09 L439.20,331.12 L440.98,331.14 L442.75,331.13 L444.53,331.12 L446.31,331.08 L448.08,331.03 L449.86,330.97 L451.64,330.89 L453.41,330.79 L455.19,330.68 L456.97,330.55 L458.74,330.41 L460.52,330.25 L462.30,330.08 L464.07,329.90 L465.85,329.70 L467.63,329.49 L469.40,329.27 L471.18,329.03 L472.96,328.79 L474.73,328.53 L476.51,328.27 L478.29,327.99 L480.06,327.71 L481.84,327.42 L483.62,327.13 L485.39,326.82 L487.17,326.52 L488.95,326.20 L490.72,325.89 L492.50,325.57" stroke="#555555" stroke-width="2.0"/><path d="M272.19,304.39 L385.90,324.65 L499.61,344.91" stroke="#fff" stroke-width="2.1" stroke-dasharray="6.1,5.8" stroke-dashoffset="8.47"/><path d="M279.30,371.26 L281.08,371.18 L282.85,371.08 L284.63,370.95 L286.41,370.80 L288.18,370.62 L289.96,370.42 L291.74,370.19 L293.51,369.94 L295.29,369.67 L297.07,369.37 L298.84,369.04 L300.62,368.69 L302.40,368.32 L304.17,367.92 L305.95,367.49 L307.73,367.04 L309.50,366.56 L311.28,366.06 L313.06,365.53 L314.83,364.98 L316.61,364.39 L318.39,363.79 L320.16,363.15 L321.94,362.50 L323.72,361.81 L325.49,361.10 L327.27,360.36 L329.05,359.60 L330.82,358.82 L332.60,358.00 L334.38,357.17 L336.15,356.31 L337.93,355.42 L339.71,354.51 L341.48,353.58 L343.26,352.62 L345.04,351.64 L346.81,350.64 L348.59,349.62 L350.37,348.58 L352.14,347.51 L353.92,346.43 L355.70,345.33 L357.47,344.21 L359.25,343.08 L361.03,341.92 L362.80,340.76 L364.58,339.57 L366.36,338.38 L368.13,337.17 L369.91,335.95 L371.69,334.72 L373.46,333.48 L375.24,332.24 L377.02,330.98 L378.79,329.72 L380.57,328.46 L382.35,327.19 L384.12,325.92 L385.90,324.65 L387.68,323.38 L389.45,322.11 L391.23,320.84 L393.01,319.58 L394.78,318.32 L396.56,317.06 L398.34,315.82 L400.11,314.58 L401.89,313.35 L403.67,312.13 L405.44,310.92 L407.22,309.73 L409.00,308.54 L410.77,307.38 L412.55,306.22 L414.33,305.09 L416.10,303.97 L417.88,302.87 L419.66,301.79 L421.43,300.72 L423.21,299.68 L424.99,298.66 L426.76,297.66 L428.54,296.68 L430.32,295.72 L432.09,294.79 L433.87,293.88 L435.65,292.99 L437.42,292.13 L439.20,291.30 L440.98,290.48 L442.75,289.70 L444.53,288.94 L446.31,288.20 L448.08,287.49 L449.86,286.80 L451.64,286.15 L453.41,285.51 L455.19,284.91 L456.97,284.32 L458.74,283.77 L460.52,283.24 L462.30,282.74 L464.07,282.26 L465.85,281.81 L467.63,281.38 L469.40,280.98 L471.18,280.61 L472.96,280.26 L474.73,279.93 L476.51,279.63 L478.29,279.36 L480.06,279.11 L481.84,278.88 L483.62,278.68 L485.39,278.50 L487.17,278.35 L488.95,278.22 L490.72,278.12 L492.50,278.04" stroke="#fff" stroke-width="2.2"/></g>
<circle cx="124.5" cy="140.0" r="3.9" fill="#c0c000" stroke="#000" stroke-width="0.8"/>
<circle cx="185.8" cy="97.4" r="3.9" fill="#c0c000" stroke="#000" stroke-width="0.8"/>
<circle cx="317.2" cy="150.7" r="3.9" fill="#c0c000" stroke="#000" stroke-width="0.8"/>
<circle cx="454.2" cy="86.2" r="3.9" fill="#c0c000" stroke="#000" stroke-width="0.8"/>
<path d="M48.70 24.40v4M48.70 212.30v-4M84.23 24.40v4M84.23 212.30v-4M119.77 24.40v4M119.77 212.30v-4M155.30 24.40v4M155.30 212.30v-4M190.83 24.40v4M190.83 212.30v-4M226.37 24.40v4M226.37 212.30v-4M261.90 24.40v4M261.90 212.30v-4M48.70 170.25h4M48.70 118.35h4M48.70 66.45h4" stroke="#000" stroke-width="0.8" fill="none"/>
<rect x="48.70" y="24.40" width="213.20" height="187.90" fill="none" stroke="#000" stroke-width="1.1"/>
<path d="M279.30 24.40v4M279.30 212.30v-4M314.83 24.40v4M314.83 212.30v-4M350.37 24.40v4M350.37 212.30v-4M385.90 24.40v4M385.90 212.30v-4M421.43 24.40v4M421.43 212.30v-4M456.97 24.40v4M456.97 212.30v-4M492.50 24.40v4M492.50 212.30v-4M279.30 170.25h4M279.30 118.35h4M279.30 66.45h4" stroke="#000" stroke-width="0.8" fill="none"/>
<rect x="279.30" y="24.40" width="213.20" height="187.90" fill="none" stroke="#000" stroke-width="1.1"/>
<path d="M48.70 230.70v4M48.70 418.60v-4M84.23 230.70v4M84.23 418.60v-4M119.77 230.70v4M119.77 418.60v-4M155.30 230.70v4M155.30 418.60v-4M190.83 230.70v4M190.83 418.60v-4M226.37 230.70v4M226.37 418.60v-4M261.90 230.70v4M261.90 418.60v-4M48.70 376.55h4M48.70 324.65h4M48.70 272.75h4" stroke="#000" stroke-width="0.8" fill="none"/>
<rect x="48.70" y="230.70" width="213.20" height="187.90" fill="none" stroke="#000" stroke-width="1.1"/>
<path d="M279.30 230.70v4M279.30 418.60v-4M314.83 230.70v4M314.83 418.60v-4M350.37 230.70v4M350.37 418.60v-4M385.90 230.70v4M385.90 418.60v-4M421.43 230.70v4M421.43 418.60v-4M456.97 230.70v4M456.97 418.60v-4M492.50 230.70v4M492.50 418.60v-4M279.30 376.55h4M279.30 324.65h4M279.30 272.75h4" stroke="#000" stroke-width="0.8" fill="none"/>
<rect x="279.30" y="230.70" width="213.20" height="187.90" fill="none" stroke="#000" stroke-width="1.1"/>
<rect x="55.50" y="31.40" width="22.2" height="24.9" fill="#fff" stroke="#000" stroke-width="1.1"/><text x="66.60" y="47.90" font-size="15.5" text-anchor="middle">a.</text>
<rect x="286.10" y="31.40" width="22.2" height="24.9" fill="#fff" stroke="#000" stroke-width="1.1"/><text x="297.20" y="47.90" font-size="15.5" text-anchor="middle">b.</text>
<rect x="55.50" y="237.70" width="22.2" height="24.9" fill="#fff" stroke="#000" stroke-width="1.1"/><text x="66.60" y="254.20" font-size="15.5" text-anchor="middle">c.</text>
<rect x="286.10" y="237.70" width="22.2" height="24.9" fill="#fff" stroke="#000" stroke-width="1.1"/><text x="297.20" y="254.20" font-size="15.5" text-anchor="middle">d.</text>
<defs><linearGradient id="jet" x1="0" x2="1" y1="0" y2="0"><stop offset="0.0000" stop-color="#000080"/><stop offset="0.0312" stop-color="#0000a4"/><stop offset="0.0625" stop-color="#0000c8"/><stop offset="0.0938" stop-color="#0000ec"/><stop offset="0.1250" stop-color="#0000ff"/><stop offset="0.1562" stop-color="#0020ff"/><stop offset="0.1875" stop-color="#0040ff"/><stop offset="0.2188" stop-color="#0060ff"/><stop offset="0.2500" stop-color="#0080ff"/><stop offset="0.2812" stop-color="#009fff"/><stop offset="0.3125" stop-color="#00bfff"/><stop offset="0.3438" stop-color="#00dffc"/><stop offset="0.3750" stop-color="#15ffe2"/><stop offset="0.4062" stop-color="#2effc9"/><stop offset="0.4375" stop-color="#48ffaf"/><stop offset="0.4688" stop-color="#62ff95"/><stop offset="0.5000" stop-color="#7bff7b"/><stop offset="0.5312" stop-color="#95ff62"/><stop offset="0.5625" stop-color="#afff48"/><stop offset="0.5938" stop-color="#c9ff2e"/><stop offset="0.6250" stop-color="#e2ff15"/><stop offset="0.6562" stop-color="#fcf000"/><stop offset="0.6875" stop-color="#ffd200"/><stop offset="0.7188" stop-color="#ffb500"/><stop offset="0.7500" stop-color="#ff9700"/><stop offset="0.7812" stop-color="#ff7a00"/><stop offset="0.8125" stop-color="#ff5c00"/><stop offset="0.8438" stop-color="#ff3f00"/><stop offset="0.8750" stop-color="#ff2100"/><stop offset="0.9062" stop-color="#ec0400"/><stop offset="0.9375" stop-color="#c80000"/><stop offset="0.9688" stop-color="#a40000"/><stop offset="1.0000" stop-color="#800000"/></linearGradient></defs>
<rect x="48.3" y="472.2" width="444.0" height="10.0" fill="url(#jet)" stroke="#000" stroke-width="1.1"/>
<path d="M48.30 482.20v-3M48.30 472.20v3M103.80 482.20v-3M103.80 472.20v3M159.30 482.20v-3M159.30 472.20v3M214.80 482.20v-3M214.80 472.20v3M270.30 482.20v-3M270.30 472.20v3M325.80 482.20v-3M325.80 472.20v3M381.30 482.20v-3M381.30 472.20v3M436.80 482.20v-3M436.80 472.20v3M492.30 482.20v-3M492.30 472.20v3" stroke="#000" stroke-width="0.8"/>
<g class="serif" font-size="20"><text x="108.3" y="533.5">log</text><path d="M143.7 513.5V538.7M192.3 513.5V538.7" stroke="#000" stroke-width="1.1"/><text x="165.8" y="524" font-size="13.5" font-style="italic" text-anchor="middle">x̃(k,ω)</text><path d="M146.6 530.4H186.6" stroke="#000" stroke-width="0.9"/><text x="166.3" y="538.5" font-size="13.5" font-style="italic" text-anchor="middle">a</text><text x="195.6" y="525" font-size="12.5">2</text></g>
<g class="serif" font-size="20"><text x="340.0" y="533.5">log</text><path d="M375.4 513.5V538.7M424.0 513.5V538.7" stroke="#000" stroke-width="1.1"/><text x="397.5" y="524" font-size="13.5" font-style="italic" text-anchor="middle">ỹ(k,ω)</text><path d="M378.3 530.4H418.3" stroke="#000" stroke-width="0.9"/><text x="398.0" y="538.5" font-size="13.5" font-style="italic" text-anchor="middle">a</text><text x="427.3" y="525" font-size="12.5">2</text></g>
<text x="155.2" y="14.5" font-size="18" text-anchor="middle" textLength="94.5" lengthAdjust="spacingAndGlyphs">transverse</text>
<text x="385.2" y="13.6" font-size="18" text-anchor="middle" textLength="104.5" lengthAdjust="spacingAndGlyphs">longitudinal</text>
<text transform="translate(521.7,119.3) rotate(-90)" font-size="18" text-anchor="middle" textLength="104" lengthAdjust="spacingAndGlyphs">Experiment</text>
<text transform="translate(521.5,325) rotate(-90)" font-size="18" text-anchor="middle" textLength="95.5" lengthAdjust="spacingAndGlyphs">Simulation</text>
<text transform="translate(15.6,119.4) rotate(-90)" font-size="20.5" text-anchor="middle" class="serif" textLength="52.5" lengthAdjust="spacingAndGlyphs"><tspan font-style="italic">ω</tspan>·Δ<tspan font-style="italic">T</tspan></text>
<text x="45.2" y="72.1" font-size="16.3" text-anchor="end">1</text>
<text x="45.2" y="124.0" font-size="16.3" text-anchor="end">0</text>
<text x="45.2" y="175.8" font-size="16.3" text-anchor="end">1</text>
<rect x="24.6" y="169.90" width="9.4" height="1.25" fill="#000"/>
<text transform="translate(15.6,325.6) rotate(-90)" font-size="20.5" text-anchor="middle" class="serif" textLength="52.5" lengthAdjust="spacingAndGlyphs"><tspan font-style="italic">ω</tspan>·Δ<tspan font-style="italic">T</tspan></text>
<text x="45.2" y="278.4" font-size="16.3" text-anchor="end">1</text>
<text x="45.2" y="330.2" font-size="16.3" text-anchor="end">0</text>
<text x="45.2" y="382.1" font-size="16.3" text-anchor="end">1</text>
<rect x="24.6" y="376.20" width="9.4" height="1.25" fill="#000"/>
<text x="55.7" y="435.5" font-size="16.3" text-anchor="middle">3</text>
<rect x="39.60" y="429.5" width="10.2" height="1.25" fill="#000"/>
<text x="91.2" y="435.5" font-size="16.3" text-anchor="middle">2</text>
<rect x="75.13" y="429.5" width="10.2" height="1.25" fill="#000"/>
<text x="126.8" y="435.5" font-size="16.3" text-anchor="middle">1</text>
<rect x="110.67" y="429.5" width="10.2" height="1.25" fill="#000"/>
<text x="155.2" y="435.5" font-size="16.3" text-anchor="middle">0</text>
<text x="190.7" y="435.5" font-size="16.3" text-anchor="middle">1</text>
<text x="226.3" y="435.5" font-size="16.3" text-anchor="middle">2</text>
<text x="261.8" y="435.5" font-size="16.3" text-anchor="middle">3</text>
<text x="155.3" y="458.3" font-size="20" text-anchor="middle" class="serif" font-style="italic">k<tspan font-style="normal">·</tspan>a</text>
<text x="286.3" y="435.5" font-size="16.3" text-anchor="middle">3</text>
<rect x="270.20" y="429.5" width="10.2" height="1.25" fill="#000"/>
<text x="321.8" y="435.5" font-size="16.3" text-anchor="middle">2</text>
<rect x="305.73" y="429.5" width="10.2" height="1.25" fill="#000"/>
<text x="357.4" y="435.5" font-size="16.3" text-anchor="middle">1</text>
<rect x="341.27" y="429.5" width="10.2" height="1.25" fill="#000"/>
<text x="385.8" y="435.5" font-size="16.3" text-anchor="middle">0</text>
<text x="421.3" y="435.5" font-size="16.3" text-anchor="middle">1</text>
<text x="456.9" y="435.5" font-size="16.3" text-anchor="middle">2</text>
<text x="492.4" y="435.5" font-size="16.3" text-anchor="middle">3</text>
<text x="385.9" y="458.3" font-size="20" text-anchor="middle" class="serif" font-style="italic">k<tspan font-style="normal">·</tspan>a</text>
<text x="48.3" y="498" font-size="16.3" text-anchor="middle" textLength="19.6" lengthAdjust="spacingAndGlyphs">10</text>
<text x="103.8" y="498" font-size="16.3" text-anchor="middle" textLength="19.6" lengthAdjust="spacingAndGlyphs">11</text>
<text x="159.3" y="498" font-size="16.3" text-anchor="middle" textLength="19.6" lengthAdjust="spacingAndGlyphs">12</text>
<text x="214.8" y="498" font-size="16.3" text-anchor="middle" textLength="19.6" lengthAdjust="spacingAndGlyphs">13</text>
<text x="270.3" y="498" font-size="16.3" text-anchor="middle" textLength="19.6" lengthAdjust="spacingAndGlyphs">14</text>
<text x="325.8" y="498" font-size="16.3" text-anchor="middle" textLength="19.6" lengthAdjust="spacingAndGlyphs">15</text>
<text x="381.3" y="498" font-size="16.3" text-anchor="middle" textLength="19.6" lengthAdjust="spacingAndGlyphs">16</text>
<text x="436.8" y="498" font-size="16.3" text-anchor="middle" textLength="19.6" lengthAdjust="spacingAndGlyphs">17</text>
<text x="492.3" y="498" font-size="16.3" text-anchor="middle" textLength="19.6" lengthAdjust="spacingAndGlyphs">18</text>
</svg></body></html>
